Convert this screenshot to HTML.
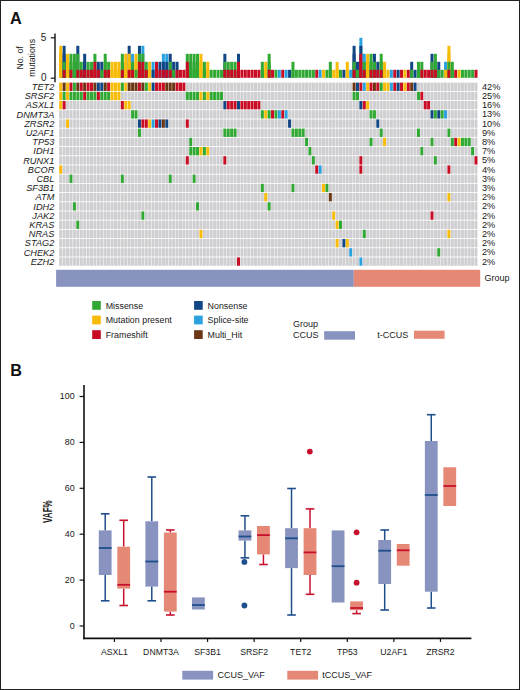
<!DOCTYPE html>
<html><head><meta charset="utf-8"><title>Figure</title>
<style>
html,body{margin:0;padding:0;background:#fff;}
body{width:520px;height:690px;overflow:hidden;}
svg text{font-family:"Liberation Sans", sans-serif;}
</style></head>
<body>
<svg width="520" height="690" viewBox="0 0 520 690" style="display:block">
<rect x="0" y="0" width="520" height="690" fill="#fff"/>
<text x="10" y="23.7" font-size="16.3" font-weight="bold" fill="#111">A</text>
<text transform="translate(22.8,57.9) rotate(-90)" text-anchor="middle" font-size="8.75" fill="#1a1a1a">No. of</text>
<text transform="translate(34.6,57.9) rotate(-90)" text-anchor="middle" font-size="8.75" fill="#1a1a1a">mutations</text>
<line x1="55" y1="33.5" x2="55" y2="82.3" stroke="#111" stroke-width="1.4"/>
<line x1="50.8" y1="37.8" x2="55" y2="37.8" stroke="#111" stroke-width="1.2"/>
<line x1="50.8" y1="78.2" x2="55" y2="78.2" stroke="#111" stroke-width="1.2"/>
<text x="46.3" y="40.8" text-anchor="end" font-size="10" fill="#1a1a1a">5</text>
<text x="46.6" y="81.2" text-anchor="end" font-size="10" fill="#1a1a1a">0</text>
<rect x="59.20" y="45.80" width="3.0" height="32.00" fill="#f8bb08"/>
<rect x="59.20" y="53.80" width="3.0" height="24.00" fill="#f8bb08"/>
<rect x="59.20" y="61.80" width="3.0" height="16.00" fill="#f8bb08"/>
<rect x="59.20" y="69.80" width="3.0" height="8.00" fill="#f8bb08"/>
<rect x="62.62" y="45.80" width="3.0" height="32.00" fill="#114684"/>
<rect x="62.62" y="53.80" width="3.0" height="24.00" fill="#114684"/>
<rect x="62.62" y="61.80" width="3.0" height="16.00" fill="#31a834"/>
<rect x="62.62" y="69.80" width="3.0" height="8.00" fill="#c80c24"/>
<rect x="66.05" y="53.80" width="3.0" height="24.00" fill="#f8bb08"/>
<rect x="66.05" y="61.80" width="3.0" height="16.00" fill="#f8bb08"/>
<rect x="66.05" y="69.80" width="3.0" height="8.00" fill="#f8bb08"/>
<rect x="69.47" y="53.80" width="3.0" height="24.00" fill="#31a834"/>
<rect x="69.47" y="61.80" width="3.0" height="16.00" fill="#31a834"/>
<rect x="69.47" y="69.80" width="3.0" height="8.00" fill="#c80c24"/>
<rect x="72.90" y="53.80" width="3.0" height="24.00" fill="#31a834"/>
<rect x="72.90" y="61.80" width="3.0" height="16.00" fill="#31a834"/>
<rect x="72.90" y="69.80" width="3.0" height="8.00" fill="#31a834"/>
<rect x="76.32" y="45.80" width="3.0" height="32.00" fill="#114684"/>
<rect x="76.32" y="53.80" width="3.0" height="24.00" fill="#31a834"/>
<rect x="76.32" y="61.80" width="3.0" height="16.00" fill="#31a834"/>
<rect x="76.32" y="69.80" width="3.0" height="8.00" fill="#c80c24"/>
<rect x="79.75" y="61.80" width="3.0" height="16.00" fill="#31a834"/>
<rect x="79.75" y="69.80" width="3.0" height="8.00" fill="#c80c24"/>
<rect x="83.17" y="53.80" width="3.0" height="24.00" fill="#114684"/>
<rect x="83.17" y="61.80" width="3.0" height="16.00" fill="#114684"/>
<rect x="83.17" y="69.80" width="3.0" height="8.00" fill="#c80c24"/>
<rect x="86.60" y="61.80" width="3.0" height="16.00" fill="#31a834"/>
<rect x="86.60" y="69.80" width="3.0" height="8.00" fill="#c80c24"/>
<rect x="90.02" y="61.80" width="3.0" height="16.00" fill="#31a834"/>
<rect x="90.02" y="69.80" width="3.0" height="8.00" fill="#c80c24"/>
<rect x="93.44" y="53.80" width="3.0" height="24.00" fill="#31a834"/>
<rect x="93.44" y="61.80" width="3.0" height="16.00" fill="#c80c24"/>
<rect x="93.44" y="69.80" width="3.0" height="8.00" fill="#c80c24"/>
<rect x="96.87" y="61.80" width="3.0" height="16.00" fill="#114684"/>
<rect x="96.87" y="69.80" width="3.0" height="8.00" fill="#c80c24"/>
<rect x="100.29" y="61.80" width="3.0" height="16.00" fill="#114684"/>
<rect x="100.29" y="69.80" width="3.0" height="8.00" fill="#31a834"/>
<rect x="103.71" y="53.80" width="3.0" height="24.00" fill="#31a834"/>
<rect x="103.71" y="61.80" width="3.0" height="16.00" fill="#31a834"/>
<rect x="103.71" y="69.80" width="3.0" height="8.00" fill="#c80c24"/>
<rect x="107.14" y="61.80" width="3.0" height="16.00" fill="#31a834"/>
<rect x="107.14" y="69.80" width="3.0" height="8.00" fill="#c80c24"/>
<rect x="110.56" y="61.80" width="3.0" height="16.00" fill="#f8bb08"/>
<rect x="110.56" y="69.80" width="3.0" height="8.00" fill="#f8bb08"/>
<rect x="113.98" y="61.80" width="3.0" height="16.00" fill="#f8bb08"/>
<rect x="113.98" y="69.80" width="3.0" height="8.00" fill="#f8bb08"/>
<rect x="117.41" y="61.80" width="3.0" height="16.00" fill="#f8bb08"/>
<rect x="117.41" y="69.80" width="3.0" height="8.00" fill="#f8bb08"/>
<rect x="120.83" y="53.80" width="3.0" height="24.00" fill="#31a834"/>
<rect x="120.83" y="61.80" width="3.0" height="16.00" fill="#31a834"/>
<rect x="120.83" y="69.80" width="3.0" height="8.00" fill="#c80c24"/>
<rect x="124.25" y="53.80" width="3.0" height="24.00" fill="#f8bb08"/>
<rect x="124.25" y="61.80" width="3.0" height="16.00" fill="#f8bb08"/>
<rect x="124.25" y="69.80" width="3.0" height="8.00" fill="#f8bb08"/>
<rect x="127.67" y="45.80" width="3.0" height="32.00" fill="#114684"/>
<rect x="127.67" y="53.80" width="3.0" height="24.00" fill="#f8bb08"/>
<rect x="127.67" y="61.80" width="3.0" height="16.00" fill="#f8bb08"/>
<rect x="127.67" y="69.80" width="3.0" height="8.00" fill="#c80c24"/>
<rect x="131.10" y="53.80" width="3.0" height="24.00" fill="#2ba2e0"/>
<rect x="131.10" y="61.80" width="3.0" height="16.00" fill="#31a834"/>
<rect x="131.10" y="69.80" width="3.0" height="8.00" fill="#c80c24"/>
<rect x="134.52" y="53.80" width="3.0" height="24.00" fill="#f8bb08"/>
<rect x="134.52" y="61.80" width="3.0" height="16.00" fill="#f8bb08"/>
<rect x="134.52" y="69.80" width="3.0" height="8.00" fill="#31a834"/>
<rect x="137.94" y="45.80" width="3.0" height="32.00" fill="#114684"/>
<rect x="137.94" y="53.80" width="3.0" height="24.00" fill="#31a834"/>
<rect x="137.94" y="61.80" width="3.0" height="16.00" fill="#c80c24"/>
<rect x="137.94" y="69.80" width="3.0" height="8.00" fill="#c80c24"/>
<rect x="141.36" y="45.80" width="3.0" height="32.00" fill="#2ba2e0"/>
<rect x="141.36" y="53.80" width="3.0" height="24.00" fill="#31a834"/>
<rect x="141.36" y="61.80" width="3.0" height="16.00" fill="#c80c24"/>
<rect x="141.36" y="69.80" width="3.0" height="8.00" fill="#c80c24"/>
<rect x="144.78" y="61.80" width="3.0" height="16.00" fill="#31a834"/>
<rect x="144.78" y="69.80" width="3.0" height="8.00" fill="#c80c24"/>
<rect x="148.20" y="61.80" width="3.0" height="16.00" fill="#f8bb08"/>
<rect x="148.20" y="69.80" width="3.0" height="8.00" fill="#f8bb08"/>
<rect x="151.62" y="61.80" width="3.0" height="16.00" fill="#2ba2e0"/>
<rect x="151.62" y="69.80" width="3.0" height="8.00" fill="#114684"/>
<rect x="155.04" y="61.80" width="3.0" height="16.00" fill="#c80c24"/>
<rect x="155.04" y="69.80" width="3.0" height="8.00" fill="#c80c24"/>
<rect x="158.46" y="61.80" width="3.0" height="16.00" fill="#114684"/>
<rect x="158.46" y="69.80" width="3.0" height="8.00" fill="#c80c24"/>
<rect x="161.88" y="53.80" width="3.0" height="24.00" fill="#2ba2e0"/>
<rect x="161.88" y="61.80" width="3.0" height="16.00" fill="#114684"/>
<rect x="161.88" y="69.80" width="3.0" height="8.00" fill="#c80c24"/>
<rect x="165.30" y="53.80" width="3.0" height="24.00" fill="#2ba2e0"/>
<rect x="165.30" y="61.80" width="3.0" height="16.00" fill="#114684"/>
<rect x="165.30" y="69.80" width="3.0" height="8.00" fill="#c80c24"/>
<rect x="168.72" y="53.80" width="3.0" height="24.00" fill="#114684"/>
<rect x="168.72" y="61.80" width="3.0" height="16.00" fill="#31a834"/>
<rect x="168.72" y="69.80" width="3.0" height="8.00" fill="#c80c24"/>
<rect x="172.13" y="61.80" width="3.0" height="16.00" fill="#114684"/>
<rect x="172.13" y="69.80" width="3.0" height="8.00" fill="#31a834"/>
<rect x="175.55" y="61.80" width="3.0" height="16.00" fill="#114684"/>
<rect x="175.55" y="69.80" width="3.0" height="8.00" fill="#c80c24"/>
<rect x="178.97" y="69.80" width="3.0" height="8.00" fill="#c80c24"/>
<rect x="182.38" y="69.80" width="3.0" height="8.00" fill="#c80c24"/>
<rect x="185.80" y="53.80" width="3.0" height="24.00" fill="#31a834"/>
<rect x="185.80" y="61.80" width="3.0" height="16.00" fill="#c80c24"/>
<rect x="185.80" y="69.80" width="3.0" height="8.00" fill="#c80c24"/>
<rect x="189.22" y="53.80" width="3.0" height="24.00" fill="#31a834"/>
<rect x="189.22" y="61.80" width="3.0" height="16.00" fill="#31a834"/>
<rect x="189.22" y="69.80" width="3.0" height="8.00" fill="#31a834"/>
<rect x="192.63" y="53.80" width="3.0" height="24.00" fill="#31a834"/>
<rect x="192.63" y="61.80" width="3.0" height="16.00" fill="#31a834"/>
<rect x="192.63" y="69.80" width="3.0" height="8.00" fill="#31a834"/>
<rect x="196.05" y="53.80" width="3.0" height="24.00" fill="#31a834"/>
<rect x="196.05" y="61.80" width="3.0" height="16.00" fill="#31a834"/>
<rect x="196.05" y="69.80" width="3.0" height="8.00" fill="#31a834"/>
<rect x="199.46" y="53.80" width="3.0" height="24.00" fill="#f8bb08"/>
<rect x="199.46" y="61.80" width="3.0" height="16.00" fill="#f8bb08"/>
<rect x="199.46" y="69.80" width="3.0" height="8.00" fill="#f8bb08"/>
<rect x="202.87" y="61.80" width="3.0" height="16.00" fill="#31a834"/>
<rect x="202.87" y="69.80" width="3.0" height="8.00" fill="#31a834"/>
<rect x="206.29" y="61.80" width="3.0" height="16.00" fill="#f8bb08"/>
<rect x="206.29" y="69.80" width="3.0" height="8.00" fill="#f8bb08"/>
<rect x="209.70" y="69.80" width="3.0" height="8.00" fill="#31a834"/>
<rect x="213.11" y="69.80" width="3.0" height="8.00" fill="#31a834"/>
<rect x="216.53" y="69.80" width="3.0" height="8.00" fill="#31a834"/>
<rect x="219.94" y="69.80" width="3.0" height="8.00" fill="#31a834"/>
<rect x="223.35" y="53.80" width="3.0" height="24.00" fill="#114684"/>
<rect x="223.35" y="61.80" width="3.0" height="16.00" fill="#31a834"/>
<rect x="223.35" y="69.80" width="3.0" height="8.00" fill="#c80c24"/>
<rect x="226.76" y="61.80" width="3.0" height="16.00" fill="#31a834"/>
<rect x="226.76" y="69.80" width="3.0" height="8.00" fill="#c80c24"/>
<rect x="230.17" y="61.80" width="3.0" height="16.00" fill="#31a834"/>
<rect x="230.17" y="69.80" width="3.0" height="8.00" fill="#c80c24"/>
<rect x="233.58" y="61.80" width="3.0" height="16.00" fill="#31a834"/>
<rect x="233.58" y="69.80" width="3.0" height="8.00" fill="#c80c24"/>
<rect x="236.99" y="53.80" width="3.0" height="24.00" fill="#114684"/>
<rect x="236.99" y="61.80" width="3.0" height="16.00" fill="#c80c24"/>
<rect x="236.99" y="69.80" width="3.0" height="8.00" fill="#c80c24"/>
<rect x="240.40" y="69.80" width="3.0" height="8.00" fill="#c80c24"/>
<rect x="243.80" y="69.80" width="3.0" height="8.00" fill="#c80c24"/>
<rect x="247.21" y="69.80" width="3.0" height="8.00" fill="#c80c24"/>
<rect x="250.62" y="69.80" width="3.0" height="8.00" fill="#c80c24"/>
<rect x="254.02" y="69.80" width="3.0" height="8.00" fill="#c80c24"/>
<rect x="257.43" y="69.80" width="3.0" height="8.00" fill="#c80c24"/>
<rect x="260.83" y="61.80" width="3.0" height="16.00" fill="#31a834"/>
<rect x="260.83" y="69.80" width="3.0" height="8.00" fill="#31a834"/>
<rect x="264.24" y="61.80" width="3.0" height="16.00" fill="#f8bb08"/>
<rect x="264.24" y="69.80" width="3.0" height="8.00" fill="#f8bb08"/>
<rect x="267.64" y="53.80" width="3.0" height="24.00" fill="#31a834"/>
<rect x="267.64" y="61.80" width="3.0" height="16.00" fill="#31a834"/>
<rect x="267.64" y="69.80" width="3.0" height="8.00" fill="#c80c24"/>
<rect x="271.05" y="69.80" width="3.0" height="8.00" fill="#c80c24"/>
<rect x="274.45" y="69.80" width="3.0" height="8.00" fill="#31a834"/>
<rect x="277.85" y="69.80" width="3.0" height="8.00" fill="#2ba2e0"/>
<rect x="281.26" y="69.80" width="3.0" height="8.00" fill="#c80c24"/>
<rect x="284.66" y="69.80" width="3.0" height="8.00" fill="#2ba2e0"/>
<rect x="288.06" y="69.80" width="3.0" height="8.00" fill="#114684"/>
<rect x="291.46" y="61.80" width="3.0" height="16.00" fill="#31a834"/>
<rect x="291.46" y="69.80" width="3.0" height="8.00" fill="#31a834"/>
<rect x="294.86" y="69.80" width="3.0" height="8.00" fill="#31a834"/>
<rect x="298.26" y="69.80" width="3.0" height="8.00" fill="#31a834"/>
<rect x="301.66" y="69.80" width="3.0" height="8.00" fill="#31a834"/>
<rect x="305.06" y="69.80" width="3.0" height="8.00" fill="#31a834"/>
<rect x="308.45" y="69.80" width="3.0" height="8.00" fill="#31a834"/>
<rect x="311.85" y="69.80" width="3.0" height="8.00" fill="#31a834"/>
<rect x="315.25" y="69.80" width="3.0" height="8.00" fill="#c80c24"/>
<rect x="318.65" y="69.80" width="3.0" height="8.00" fill="#2ba2e0"/>
<rect x="322.04" y="69.80" width="3.0" height="8.00" fill="#f8bb08"/>
<rect x="325.44" y="69.80" width="3.0" height="8.00" fill="#31a834"/>
<rect x="328.83" y="61.80" width="3.0" height="16.00" fill="#31a834"/>
<rect x="328.83" y="69.80" width="3.0" height="8.00" fill="#31a834"/>
<rect x="332.23" y="69.80" width="3.0" height="8.00" fill="#f8bb08"/>
<rect x="335.62" y="61.80" width="3.0" height="16.00" fill="#f8bb08"/>
<rect x="335.62" y="69.80" width="3.0" height="8.00" fill="#f8bb08"/>
<rect x="339.01" y="69.80" width="3.0" height="8.00" fill="#31a834"/>
<rect x="342.41" y="69.80" width="3.0" height="8.00" fill="#114684"/>
<rect x="345.80" y="61.80" width="3.0" height="16.00" fill="#f8bb08"/>
<rect x="345.80" y="69.80" width="3.0" height="8.00" fill="#f8bb08"/>
<rect x="349.19" y="69.80" width="3.0" height="8.00" fill="#2ba2e0"/>
<rect x="352.58" y="45.80" width="3.0" height="32.00" fill="#114684"/>
<rect x="352.58" y="53.80" width="3.0" height="24.00" fill="#114684"/>
<rect x="352.58" y="61.80" width="3.0" height="16.00" fill="#31a834"/>
<rect x="352.58" y="69.80" width="3.0" height="8.00" fill="#c80c24"/>
<rect x="355.98" y="61.80" width="3.0" height="16.00" fill="#114684"/>
<rect x="355.98" y="69.80" width="3.0" height="8.00" fill="#31a834"/>
<rect x="359.37" y="37.80" width="3.0" height="40.00" fill="#2ba2e0"/>
<rect x="359.37" y="45.80" width="3.0" height="32.00" fill="#114684"/>
<rect x="359.37" y="53.80" width="3.0" height="24.00" fill="#c80c24"/>
<rect x="359.37" y="61.80" width="3.0" height="16.00" fill="#c80c24"/>
<rect x="359.37" y="69.80" width="3.0" height="8.00" fill="#c80c24"/>
<rect x="362.76" y="53.80" width="3.0" height="24.00" fill="#2ba2e0"/>
<rect x="362.76" y="61.80" width="3.0" height="16.00" fill="#31a834"/>
<rect x="362.76" y="69.80" width="3.0" height="8.00" fill="#c80c24"/>
<rect x="366.15" y="53.80" width="3.0" height="24.00" fill="#f8bb08"/>
<rect x="366.15" y="61.80" width="3.0" height="16.00" fill="#f8bb08"/>
<rect x="366.15" y="69.80" width="3.0" height="8.00" fill="#f8bb08"/>
<rect x="369.54" y="53.80" width="3.0" height="24.00" fill="#31a834"/>
<rect x="369.54" y="61.80" width="3.0" height="16.00" fill="#31a834"/>
<rect x="369.54" y="69.80" width="3.0" height="8.00" fill="#c80c24"/>
<rect x="372.93" y="53.80" width="3.0" height="24.00" fill="#114684"/>
<rect x="372.93" y="61.80" width="3.0" height="16.00" fill="#31a834"/>
<rect x="372.93" y="69.80" width="3.0" height="8.00" fill="#c80c24"/>
<rect x="376.32" y="61.80" width="3.0" height="16.00" fill="#114684"/>
<rect x="376.32" y="69.80" width="3.0" height="8.00" fill="#c80c24"/>
<rect x="379.70" y="53.80" width="3.0" height="24.00" fill="#31a834"/>
<rect x="379.70" y="61.80" width="3.0" height="16.00" fill="#31a834"/>
<rect x="379.70" y="69.80" width="3.0" height="8.00" fill="#c80c24"/>
<rect x="383.09" y="61.80" width="3.0" height="16.00" fill="#f8bb08"/>
<rect x="383.09" y="69.80" width="3.0" height="8.00" fill="#f8bb08"/>
<rect x="386.48" y="69.80" width="3.0" height="8.00" fill="#f8bb08"/>
<rect x="389.87" y="69.80" width="3.0" height="8.00" fill="#2ba2e0"/>
<rect x="393.26" y="69.80" width="3.0" height="8.00" fill="#c80c24"/>
<rect x="396.64" y="69.80" width="3.0" height="8.00" fill="#114684"/>
<rect x="400.03" y="69.80" width="3.0" height="8.00" fill="#c80c24"/>
<rect x="403.42" y="69.80" width="3.0" height="8.00" fill="#f8bb08"/>
<rect x="406.80" y="69.80" width="3.0" height="8.00" fill="#c80c24"/>
<rect x="410.19" y="61.80" width="3.0" height="16.00" fill="#114684"/>
<rect x="410.19" y="69.80" width="3.0" height="8.00" fill="#31a834"/>
<rect x="413.57" y="69.80" width="3.0" height="8.00" fill="#114684"/>
<rect x="416.96" y="61.80" width="3.0" height="16.00" fill="#31a834"/>
<rect x="416.96" y="69.80" width="3.0" height="8.00" fill="#31a834"/>
<rect x="420.34" y="61.80" width="3.0" height="16.00" fill="#31a834"/>
<rect x="420.34" y="69.80" width="3.0" height="8.00" fill="#c80c24"/>
<rect x="423.73" y="69.80" width="3.0" height="8.00" fill="#c80c24"/>
<rect x="427.11" y="69.80" width="3.0" height="8.00" fill="#c80c24"/>
<rect x="430.50" y="53.80" width="3.0" height="24.00" fill="#114684"/>
<rect x="430.50" y="61.80" width="3.0" height="16.00" fill="#31a834"/>
<rect x="430.50" y="69.80" width="3.0" height="8.00" fill="#c80c24"/>
<rect x="433.88" y="53.80" width="3.0" height="24.00" fill="#31a834"/>
<rect x="433.88" y="61.80" width="3.0" height="16.00" fill="#31a834"/>
<rect x="433.88" y="69.80" width="3.0" height="8.00" fill="#c80c24"/>
<rect x="437.27" y="61.80" width="3.0" height="16.00" fill="#114684"/>
<rect x="437.27" y="69.80" width="3.0" height="8.00" fill="#31a834"/>
<rect x="440.65" y="69.80" width="3.0" height="8.00" fill="#31a834"/>
<rect x="444.04" y="61.80" width="3.0" height="16.00" fill="#2ba2e0"/>
<rect x="444.04" y="69.80" width="3.0" height="8.00" fill="#f8bb08"/>
<rect x="447.42" y="45.80" width="3.0" height="32.00" fill="#f8bb08"/>
<rect x="447.42" y="53.80" width="3.0" height="24.00" fill="#f8bb08"/>
<rect x="447.42" y="61.80" width="3.0" height="16.00" fill="#31a834"/>
<rect x="447.42" y="69.80" width="3.0" height="8.00" fill="#c80c24"/>
<rect x="450.80" y="61.80" width="3.0" height="16.00" fill="#31a834"/>
<rect x="450.80" y="69.80" width="3.0" height="8.00" fill="#31a834"/>
<rect x="454.19" y="69.80" width="3.0" height="8.00" fill="#c80c24"/>
<rect x="457.57" y="69.80" width="3.0" height="8.00" fill="#f8bb08"/>
<rect x="460.95" y="69.80" width="3.0" height="8.00" fill="#31a834"/>
<rect x="464.34" y="69.80" width="3.0" height="8.00" fill="#31a834"/>
<rect x="467.72" y="69.80" width="3.0" height="8.00" fill="#31a834"/>
<rect x="471.10" y="69.80" width="3.0" height="8.00" fill="#31a834"/>
<rect x="474.49" y="69.80" width="3.0" height="8.00" fill="#c80c24"/>
<rect x="59.20" y="82.60" width="3.0" height="8.35" fill="#f8bb08"/>
<rect x="62.62" y="82.60" width="3.0" height="8.35" fill="#6a3614"/>
<rect x="66.05" y="82.60" width="3.0" height="8.35" fill="#f8bb08"/>
<rect x="69.47" y="82.60" width="3.0" height="8.35" fill="#c80c24"/>
<rect x="72.90" y="82.60" width="3.0" height="8.35" fill="#31a834"/>
<rect x="76.32" y="82.60" width="3.0" height="8.35" fill="#6a3614"/>
<rect x="79.75" y="82.60" width="3.0" height="8.35" fill="#c80c24"/>
<rect x="83.17" y="82.60" width="3.0" height="8.35" fill="#6a3614"/>
<rect x="86.60" y="82.60" width="3.0" height="8.35" fill="#c80c24"/>
<rect x="90.02" y="82.60" width="3.0" height="8.35" fill="#c80c24"/>
<rect x="93.44" y="82.60" width="3.0" height="8.35" fill="#6a3614"/>
<rect x="96.87" y="82.60" width="3.0" height="8.35" fill="#114684"/>
<rect x="100.29" y="82.60" width="3.0" height="8.35" fill="#114684"/>
<rect x="103.71" y="82.60" width="3.0" height="8.35" fill="#6a3614"/>
<rect x="107.14" y="82.60" width="3.0" height="8.35" fill="#c80c24"/>
<rect x="110.56" y="82.60" width="3.0" height="8.35" fill="#f8bb08"/>
<rect x="113.98" y="82.60" width="3.0" height="8.35" fill="#f8bb08"/>
<rect x="117.41" y="82.60" width="3.0" height="8.35" fill="#f8bb08"/>
<rect x="120.83" y="82.60" width="3.0" height="8.35" fill="#31a834"/>
<rect x="124.25" y="82.60" width="3.0" height="8.35" fill="#f8bb08"/>
<rect x="127.67" y="82.60" width="3.0" height="8.35" fill="#6a3614"/>
<rect x="131.10" y="82.60" width="3.0" height="8.35" fill="#6a3614"/>
<rect x="134.52" y="82.60" width="3.0" height="8.35" fill="#6a3614"/>
<rect x="137.94" y="82.60" width="3.0" height="8.35" fill="#c80c24"/>
<rect x="141.36" y="82.60" width="3.0" height="8.35" fill="#6a3614"/>
<rect x="144.78" y="82.60" width="3.0" height="8.35" fill="#31a834"/>
<rect x="148.20" y="82.60" width="3.0" height="8.35" fill="#f8bb08"/>
<rect x="151.62" y="82.60" width="3.0" height="8.35" fill="#114684"/>
<rect x="155.04" y="82.60" width="3.0" height="8.35" fill="#c80c24"/>
<rect x="158.46" y="82.60" width="3.0" height="8.35" fill="#c80c24"/>
<rect x="161.88" y="82.60" width="3.0" height="8.35" fill="#c80c24"/>
<rect x="165.30" y="82.60" width="3.0" height="8.35" fill="#6a3614"/>
<rect x="168.72" y="82.60" width="3.0" height="8.35" fill="#6a3614"/>
<rect x="172.13" y="82.60" width="3.0" height="8.35" fill="#6a3614"/>
<rect x="175.55" y="82.60" width="3.0" height="8.35" fill="#c80c24"/>
<rect x="178.97" y="82.60" width="3.0" height="8.35" fill="#c80c24"/>
<rect x="182.38" y="82.60" width="3.0" height="8.35" fill="#c80c24"/>
<rect x="185.80" y="82.60" width="3.0" height="8.35" fill="#cfcfd2"/>
<rect x="189.22" y="82.60" width="3.0" height="8.35" fill="#cfcfd2"/>
<rect x="192.63" y="82.60" width="3.0" height="8.35" fill="#cfcfd2"/>
<rect x="196.05" y="82.60" width="3.0" height="8.35" fill="#cfcfd2"/>
<rect x="199.46" y="82.60" width="3.0" height="8.35" fill="#cfcfd2"/>
<rect x="202.87" y="82.60" width="3.0" height="8.35" fill="#cfcfd2"/>
<rect x="206.29" y="82.60" width="3.0" height="8.35" fill="#cfcfd2"/>
<rect x="209.70" y="82.60" width="3.0" height="8.35" fill="#cfcfd2"/>
<rect x="213.11" y="82.60" width="3.0" height="8.35" fill="#cfcfd2"/>
<rect x="216.53" y="82.60" width="3.0" height="8.35" fill="#cfcfd2"/>
<rect x="219.94" y="82.60" width="3.0" height="8.35" fill="#cfcfd2"/>
<rect x="223.35" y="82.60" width="3.0" height="8.35" fill="#cfcfd2"/>
<rect x="226.76" y="82.60" width="3.0" height="8.35" fill="#cfcfd2"/>
<rect x="230.17" y="82.60" width="3.0" height="8.35" fill="#cfcfd2"/>
<rect x="233.58" y="82.60" width="3.0" height="8.35" fill="#cfcfd2"/>
<rect x="236.99" y="82.60" width="3.0" height="8.35" fill="#cfcfd2"/>
<rect x="240.40" y="82.60" width="3.0" height="8.35" fill="#cfcfd2"/>
<rect x="243.80" y="82.60" width="3.0" height="8.35" fill="#cfcfd2"/>
<rect x="247.21" y="82.60" width="3.0" height="8.35" fill="#cfcfd2"/>
<rect x="250.62" y="82.60" width="3.0" height="8.35" fill="#cfcfd2"/>
<rect x="254.02" y="82.60" width="3.0" height="8.35" fill="#cfcfd2"/>
<rect x="257.43" y="82.60" width="3.0" height="8.35" fill="#cfcfd2"/>
<rect x="260.83" y="82.60" width="3.0" height="8.35" fill="#cfcfd2"/>
<rect x="264.24" y="82.60" width="3.0" height="8.35" fill="#cfcfd2"/>
<rect x="267.64" y="82.60" width="3.0" height="8.35" fill="#cfcfd2"/>
<rect x="271.05" y="82.60" width="3.0" height="8.35" fill="#cfcfd2"/>
<rect x="274.45" y="82.60" width="3.0" height="8.35" fill="#cfcfd2"/>
<rect x="277.85" y="82.60" width="3.0" height="8.35" fill="#cfcfd2"/>
<rect x="281.26" y="82.60" width="3.0" height="8.35" fill="#cfcfd2"/>
<rect x="284.66" y="82.60" width="3.0" height="8.35" fill="#cfcfd2"/>
<rect x="288.06" y="82.60" width="3.0" height="8.35" fill="#cfcfd2"/>
<rect x="291.46" y="82.60" width="3.0" height="8.35" fill="#cfcfd2"/>
<rect x="294.86" y="82.60" width="3.0" height="8.35" fill="#cfcfd2"/>
<rect x="298.26" y="82.60" width="3.0" height="8.35" fill="#cfcfd2"/>
<rect x="301.66" y="82.60" width="3.0" height="8.35" fill="#cfcfd2"/>
<rect x="305.06" y="82.60" width="3.0" height="8.35" fill="#cfcfd2"/>
<rect x="308.45" y="82.60" width="3.0" height="8.35" fill="#cfcfd2"/>
<rect x="311.85" y="82.60" width="3.0" height="8.35" fill="#cfcfd2"/>
<rect x="315.25" y="82.60" width="3.0" height="8.35" fill="#cfcfd2"/>
<rect x="318.65" y="82.60" width="3.0" height="8.35" fill="#cfcfd2"/>
<rect x="322.04" y="82.60" width="3.0" height="8.35" fill="#cfcfd2"/>
<rect x="325.44" y="82.60" width="3.0" height="8.35" fill="#cfcfd2"/>
<rect x="328.83" y="82.60" width="3.0" height="8.35" fill="#cfcfd2"/>
<rect x="332.23" y="82.60" width="3.0" height="8.35" fill="#cfcfd2"/>
<rect x="335.62" y="82.60" width="3.0" height="8.35" fill="#cfcfd2"/>
<rect x="339.01" y="82.60" width="3.0" height="8.35" fill="#cfcfd2"/>
<rect x="342.41" y="82.60" width="3.0" height="8.35" fill="#cfcfd2"/>
<rect x="345.80" y="82.60" width="3.0" height="8.35" fill="#cfcfd2"/>
<rect x="349.19" y="82.60" width="3.0" height="8.35" fill="#cfcfd2"/>
<rect x="352.58" y="82.60" width="3.0" height="8.35" fill="#6a3614"/>
<rect x="355.98" y="82.60" width="3.0" height="8.35" fill="#114684"/>
<rect x="359.37" y="82.60" width="3.0" height="8.35" fill="#c80c24"/>
<rect x="362.76" y="82.60" width="3.0" height="8.35" fill="#2ba2e0"/>
<rect x="366.15" y="82.60" width="3.0" height="8.35" fill="#f8bb08"/>
<rect x="369.54" y="82.60" width="3.0" height="8.35" fill="#c80c24"/>
<rect x="372.93" y="82.60" width="3.0" height="8.35" fill="#6a3614"/>
<rect x="376.32" y="82.60" width="3.0" height="8.35" fill="#c80c24"/>
<rect x="379.70" y="82.60" width="3.0" height="8.35" fill="#31a834"/>
<rect x="383.09" y="82.60" width="3.0" height="8.35" fill="#f8bb08"/>
<rect x="386.48" y="82.60" width="3.0" height="8.35" fill="#f8bb08"/>
<rect x="389.87" y="82.60" width="3.0" height="8.35" fill="#2ba2e0"/>
<rect x="393.26" y="82.60" width="3.0" height="8.35" fill="#c80c24"/>
<rect x="396.64" y="82.60" width="3.0" height="8.35" fill="#114684"/>
<rect x="400.03" y="82.60" width="3.0" height="8.35" fill="#c80c24"/>
<rect x="403.42" y="82.60" width="3.0" height="8.35" fill="#f8bb08"/>
<rect x="406.80" y="82.60" width="3.0" height="8.35" fill="#c80c24"/>
<rect x="410.19" y="82.60" width="3.0" height="8.35" fill="#6a3614"/>
<rect x="413.57" y="82.60" width="3.0" height="8.35" fill="#114684"/>
<rect x="416.96" y="82.60" width="3.0" height="8.35" fill="#cfcfd2"/>
<rect x="420.34" y="82.60" width="3.0" height="8.35" fill="#cfcfd2"/>
<rect x="423.73" y="82.60" width="3.0" height="8.35" fill="#cfcfd2"/>
<rect x="427.11" y="82.60" width="3.0" height="8.35" fill="#cfcfd2"/>
<rect x="430.50" y="82.60" width="3.0" height="8.35" fill="#cfcfd2"/>
<rect x="433.88" y="82.60" width="3.0" height="8.35" fill="#cfcfd2"/>
<rect x="437.27" y="82.60" width="3.0" height="8.35" fill="#cfcfd2"/>
<rect x="440.65" y="82.60" width="3.0" height="8.35" fill="#cfcfd2"/>
<rect x="444.04" y="82.60" width="3.0" height="8.35" fill="#cfcfd2"/>
<rect x="447.42" y="82.60" width="3.0" height="8.35" fill="#cfcfd2"/>
<rect x="450.80" y="82.60" width="3.0" height="8.35" fill="#cfcfd2"/>
<rect x="454.19" y="82.60" width="3.0" height="8.35" fill="#cfcfd2"/>
<rect x="457.57" y="82.60" width="3.0" height="8.35" fill="#cfcfd2"/>
<rect x="460.95" y="82.60" width="3.0" height="8.35" fill="#cfcfd2"/>
<rect x="464.34" y="82.60" width="3.0" height="8.35" fill="#cfcfd2"/>
<rect x="467.72" y="82.60" width="3.0" height="8.35" fill="#cfcfd2"/>
<rect x="471.10" y="82.60" width="3.0" height="8.35" fill="#cfcfd2"/>
<rect x="474.49" y="82.60" width="3.0" height="8.35" fill="#cfcfd2"/>
<text x="54.3" y="89.90" text-anchor="end" font-size="9.2" font-style="italic" fill="#1a1a1a">TET2</text>
<text x="482" y="89.80" font-size="9.2" fill="#1a1a1a">42%</text>
<rect x="59.20" y="91.80" width="3.0" height="8.35" fill="#f8bb08"/>
<rect x="62.62" y="91.80" width="3.0" height="8.35" fill="#31a834"/>
<rect x="66.05" y="91.80" width="3.0" height="8.35" fill="#f8bb08"/>
<rect x="69.47" y="91.80" width="3.0" height="8.35" fill="#31a834"/>
<rect x="72.90" y="91.80" width="3.0" height="8.35" fill="#31a834"/>
<rect x="76.32" y="91.80" width="3.0" height="8.35" fill="#31a834"/>
<rect x="79.75" y="91.80" width="3.0" height="8.35" fill="#31a834"/>
<rect x="83.17" y="91.80" width="3.0" height="8.35" fill="#c80c24"/>
<rect x="86.60" y="91.80" width="3.0" height="8.35" fill="#31a834"/>
<rect x="90.02" y="91.80" width="3.0" height="8.35" fill="#31a834"/>
<rect x="93.44" y="91.80" width="3.0" height="8.35" fill="#31a834"/>
<rect x="96.87" y="91.80" width="3.0" height="8.35" fill="#c80c24"/>
<rect x="100.29" y="91.80" width="3.0" height="8.35" fill="#31a834"/>
<rect x="103.71" y="91.80" width="3.0" height="8.35" fill="#31a834"/>
<rect x="107.14" y="91.80" width="3.0" height="8.35" fill="#31a834"/>
<rect x="110.56" y="91.80" width="3.0" height="8.35" fill="#f8bb08"/>
<rect x="113.98" y="91.80" width="3.0" height="8.35" fill="#f8bb08"/>
<rect x="117.41" y="91.80" width="3.0" height="8.35" fill="#f8bb08"/>
<rect x="120.83" y="91.80" width="3.0" height="8.35" fill="#cfcfd2"/>
<rect x="124.25" y="91.80" width="3.0" height="8.35" fill="#cfcfd2"/>
<rect x="127.67" y="91.80" width="3.0" height="8.35" fill="#cfcfd2"/>
<rect x="131.10" y="91.80" width="3.0" height="8.35" fill="#cfcfd2"/>
<rect x="134.52" y="91.80" width="3.0" height="8.35" fill="#cfcfd2"/>
<rect x="137.94" y="91.80" width="3.0" height="8.35" fill="#cfcfd2"/>
<rect x="141.36" y="91.80" width="3.0" height="8.35" fill="#cfcfd2"/>
<rect x="144.78" y="91.80" width="3.0" height="8.35" fill="#cfcfd2"/>
<rect x="148.20" y="91.80" width="3.0" height="8.35" fill="#cfcfd2"/>
<rect x="151.62" y="91.80" width="3.0" height="8.35" fill="#cfcfd2"/>
<rect x="155.04" y="91.80" width="3.0" height="8.35" fill="#cfcfd2"/>
<rect x="158.46" y="91.80" width="3.0" height="8.35" fill="#cfcfd2"/>
<rect x="161.88" y="91.80" width="3.0" height="8.35" fill="#cfcfd2"/>
<rect x="165.30" y="91.80" width="3.0" height="8.35" fill="#cfcfd2"/>
<rect x="168.72" y="91.80" width="3.0" height="8.35" fill="#cfcfd2"/>
<rect x="172.13" y="91.80" width="3.0" height="8.35" fill="#cfcfd2"/>
<rect x="175.55" y="91.80" width="3.0" height="8.35" fill="#cfcfd2"/>
<rect x="178.97" y="91.80" width="3.0" height="8.35" fill="#cfcfd2"/>
<rect x="182.38" y="91.80" width="3.0" height="8.35" fill="#cfcfd2"/>
<rect x="185.80" y="91.80" width="3.0" height="8.35" fill="#31a834"/>
<rect x="189.22" y="91.80" width="3.0" height="8.35" fill="#31a834"/>
<rect x="192.63" y="91.80" width="3.0" height="8.35" fill="#31a834"/>
<rect x="196.05" y="91.80" width="3.0" height="8.35" fill="#31a834"/>
<rect x="199.46" y="91.80" width="3.0" height="8.35" fill="#f8bb08"/>
<rect x="202.87" y="91.80" width="3.0" height="8.35" fill="#31a834"/>
<rect x="206.29" y="91.80" width="3.0" height="8.35" fill="#f8bb08"/>
<rect x="209.70" y="91.80" width="3.0" height="8.35" fill="#31a834"/>
<rect x="213.11" y="91.80" width="3.0" height="8.35" fill="#31a834"/>
<rect x="216.53" y="91.80" width="3.0" height="8.35" fill="#31a834"/>
<rect x="219.94" y="91.80" width="3.0" height="8.35" fill="#31a834"/>
<rect x="223.35" y="91.80" width="3.0" height="8.35" fill="#cfcfd2"/>
<rect x="226.76" y="91.80" width="3.0" height="8.35" fill="#cfcfd2"/>
<rect x="230.17" y="91.80" width="3.0" height="8.35" fill="#cfcfd2"/>
<rect x="233.58" y="91.80" width="3.0" height="8.35" fill="#cfcfd2"/>
<rect x="236.99" y="91.80" width="3.0" height="8.35" fill="#cfcfd2"/>
<rect x="240.40" y="91.80" width="3.0" height="8.35" fill="#cfcfd2"/>
<rect x="243.80" y="91.80" width="3.0" height="8.35" fill="#cfcfd2"/>
<rect x="247.21" y="91.80" width="3.0" height="8.35" fill="#cfcfd2"/>
<rect x="250.62" y="91.80" width="3.0" height="8.35" fill="#cfcfd2"/>
<rect x="254.02" y="91.80" width="3.0" height="8.35" fill="#cfcfd2"/>
<rect x="257.43" y="91.80" width="3.0" height="8.35" fill="#cfcfd2"/>
<rect x="260.83" y="91.80" width="3.0" height="8.35" fill="#cfcfd2"/>
<rect x="264.24" y="91.80" width="3.0" height="8.35" fill="#cfcfd2"/>
<rect x="267.64" y="91.80" width="3.0" height="8.35" fill="#cfcfd2"/>
<rect x="271.05" y="91.80" width="3.0" height="8.35" fill="#cfcfd2"/>
<rect x="274.45" y="91.80" width="3.0" height="8.35" fill="#cfcfd2"/>
<rect x="277.85" y="91.80" width="3.0" height="8.35" fill="#cfcfd2"/>
<rect x="281.26" y="91.80" width="3.0" height="8.35" fill="#cfcfd2"/>
<rect x="284.66" y="91.80" width="3.0" height="8.35" fill="#cfcfd2"/>
<rect x="288.06" y="91.80" width="3.0" height="8.35" fill="#cfcfd2"/>
<rect x="291.46" y="91.80" width="3.0" height="8.35" fill="#cfcfd2"/>
<rect x="294.86" y="91.80" width="3.0" height="8.35" fill="#cfcfd2"/>
<rect x="298.26" y="91.80" width="3.0" height="8.35" fill="#cfcfd2"/>
<rect x="301.66" y="91.80" width="3.0" height="8.35" fill="#cfcfd2"/>
<rect x="305.06" y="91.80" width="3.0" height="8.35" fill="#cfcfd2"/>
<rect x="308.45" y="91.80" width="3.0" height="8.35" fill="#cfcfd2"/>
<rect x="311.85" y="91.80" width="3.0" height="8.35" fill="#cfcfd2"/>
<rect x="315.25" y="91.80" width="3.0" height="8.35" fill="#cfcfd2"/>
<rect x="318.65" y="91.80" width="3.0" height="8.35" fill="#cfcfd2"/>
<rect x="322.04" y="91.80" width="3.0" height="8.35" fill="#cfcfd2"/>
<rect x="325.44" y="91.80" width="3.0" height="8.35" fill="#cfcfd2"/>
<rect x="328.83" y="91.80" width="3.0" height="8.35" fill="#cfcfd2"/>
<rect x="332.23" y="91.80" width="3.0" height="8.35" fill="#cfcfd2"/>
<rect x="335.62" y="91.80" width="3.0" height="8.35" fill="#cfcfd2"/>
<rect x="339.01" y="91.80" width="3.0" height="8.35" fill="#cfcfd2"/>
<rect x="342.41" y="91.80" width="3.0" height="8.35" fill="#cfcfd2"/>
<rect x="345.80" y="91.80" width="3.0" height="8.35" fill="#cfcfd2"/>
<rect x="349.19" y="91.80" width="3.0" height="8.35" fill="#cfcfd2"/>
<rect x="352.58" y="91.80" width="3.0" height="8.35" fill="#31a834"/>
<rect x="355.98" y="91.80" width="3.0" height="8.35" fill="#31a834"/>
<rect x="359.37" y="91.80" width="3.0" height="8.35" fill="#cfcfd2"/>
<rect x="362.76" y="91.80" width="3.0" height="8.35" fill="#cfcfd2"/>
<rect x="366.15" y="91.80" width="3.0" height="8.35" fill="#cfcfd2"/>
<rect x="369.54" y="91.80" width="3.0" height="8.35" fill="#cfcfd2"/>
<rect x="372.93" y="91.80" width="3.0" height="8.35" fill="#cfcfd2"/>
<rect x="376.32" y="91.80" width="3.0" height="8.35" fill="#cfcfd2"/>
<rect x="379.70" y="91.80" width="3.0" height="8.35" fill="#cfcfd2"/>
<rect x="383.09" y="91.80" width="3.0" height="8.35" fill="#cfcfd2"/>
<rect x="386.48" y="91.80" width="3.0" height="8.35" fill="#cfcfd2"/>
<rect x="389.87" y="91.80" width="3.0" height="8.35" fill="#cfcfd2"/>
<rect x="393.26" y="91.80" width="3.0" height="8.35" fill="#cfcfd2"/>
<rect x="396.64" y="91.80" width="3.0" height="8.35" fill="#cfcfd2"/>
<rect x="400.03" y="91.80" width="3.0" height="8.35" fill="#cfcfd2"/>
<rect x="403.42" y="91.80" width="3.0" height="8.35" fill="#cfcfd2"/>
<rect x="406.80" y="91.80" width="3.0" height="8.35" fill="#cfcfd2"/>
<rect x="410.19" y="91.80" width="3.0" height="8.35" fill="#cfcfd2"/>
<rect x="413.57" y="91.80" width="3.0" height="8.35" fill="#cfcfd2"/>
<rect x="416.96" y="91.80" width="3.0" height="8.35" fill="#31a834"/>
<rect x="420.34" y="91.80" width="3.0" height="8.35" fill="#c80c24"/>
<rect x="423.73" y="91.80" width="3.0" height="8.35" fill="#cfcfd2"/>
<rect x="427.11" y="91.80" width="3.0" height="8.35" fill="#cfcfd2"/>
<rect x="430.50" y="91.80" width="3.0" height="8.35" fill="#cfcfd2"/>
<rect x="433.88" y="91.80" width="3.0" height="8.35" fill="#cfcfd2"/>
<rect x="437.27" y="91.80" width="3.0" height="8.35" fill="#cfcfd2"/>
<rect x="440.65" y="91.80" width="3.0" height="8.35" fill="#cfcfd2"/>
<rect x="444.04" y="91.80" width="3.0" height="8.35" fill="#cfcfd2"/>
<rect x="447.42" y="91.80" width="3.0" height="8.35" fill="#cfcfd2"/>
<rect x="450.80" y="91.80" width="3.0" height="8.35" fill="#cfcfd2"/>
<rect x="454.19" y="91.80" width="3.0" height="8.35" fill="#cfcfd2"/>
<rect x="457.57" y="91.80" width="3.0" height="8.35" fill="#cfcfd2"/>
<rect x="460.95" y="91.80" width="3.0" height="8.35" fill="#cfcfd2"/>
<rect x="464.34" y="91.80" width="3.0" height="8.35" fill="#cfcfd2"/>
<rect x="467.72" y="91.80" width="3.0" height="8.35" fill="#cfcfd2"/>
<rect x="471.10" y="91.80" width="3.0" height="8.35" fill="#cfcfd2"/>
<rect x="474.49" y="91.80" width="3.0" height="8.35" fill="#cfcfd2"/>
<text x="54.3" y="99.10" text-anchor="end" font-size="9.2" font-style="italic" fill="#1a1a1a">SRSF2</text>
<text x="482" y="99.00" font-size="9.2" fill="#1a1a1a">25%</text>
<rect x="59.20" y="101.00" width="3.0" height="8.35" fill="#f8bb08"/>
<rect x="62.62" y="101.00" width="3.0" height="8.35" fill="#c80c24"/>
<rect x="66.05" y="101.00" width="3.0" height="8.35" fill="#cfcfd2"/>
<rect x="69.47" y="101.00" width="3.0" height="8.35" fill="#cfcfd2"/>
<rect x="72.90" y="101.00" width="3.0" height="8.35" fill="#cfcfd2"/>
<rect x="76.32" y="101.00" width="3.0" height="8.35" fill="#cfcfd2"/>
<rect x="79.75" y="101.00" width="3.0" height="8.35" fill="#cfcfd2"/>
<rect x="83.17" y="101.00" width="3.0" height="8.35" fill="#cfcfd2"/>
<rect x="86.60" y="101.00" width="3.0" height="8.35" fill="#cfcfd2"/>
<rect x="90.02" y="101.00" width="3.0" height="8.35" fill="#cfcfd2"/>
<rect x="93.44" y="101.00" width="3.0" height="8.35" fill="#cfcfd2"/>
<rect x="96.87" y="101.00" width="3.0" height="8.35" fill="#cfcfd2"/>
<rect x="100.29" y="101.00" width="3.0" height="8.35" fill="#cfcfd2"/>
<rect x="103.71" y="101.00" width="3.0" height="8.35" fill="#cfcfd2"/>
<rect x="107.14" y="101.00" width="3.0" height="8.35" fill="#cfcfd2"/>
<rect x="110.56" y="101.00" width="3.0" height="8.35" fill="#cfcfd2"/>
<rect x="113.98" y="101.00" width="3.0" height="8.35" fill="#cfcfd2"/>
<rect x="117.41" y="101.00" width="3.0" height="8.35" fill="#cfcfd2"/>
<rect x="120.83" y="101.00" width="3.0" height="8.35" fill="#c80c24"/>
<rect x="124.25" y="101.00" width="3.0" height="8.35" fill="#f8bb08"/>
<rect x="127.67" y="101.00" width="3.0" height="8.35" fill="#f8bb08"/>
<rect x="131.10" y="101.00" width="3.0" height="8.35" fill="#cfcfd2"/>
<rect x="134.52" y="101.00" width="3.0" height="8.35" fill="#cfcfd2"/>
<rect x="137.94" y="101.00" width="3.0" height="8.35" fill="#cfcfd2"/>
<rect x="141.36" y="101.00" width="3.0" height="8.35" fill="#cfcfd2"/>
<rect x="144.78" y="101.00" width="3.0" height="8.35" fill="#cfcfd2"/>
<rect x="148.20" y="101.00" width="3.0" height="8.35" fill="#cfcfd2"/>
<rect x="151.62" y="101.00" width="3.0" height="8.35" fill="#cfcfd2"/>
<rect x="155.04" y="101.00" width="3.0" height="8.35" fill="#cfcfd2"/>
<rect x="158.46" y="101.00" width="3.0" height="8.35" fill="#cfcfd2"/>
<rect x="161.88" y="101.00" width="3.0" height="8.35" fill="#cfcfd2"/>
<rect x="165.30" y="101.00" width="3.0" height="8.35" fill="#cfcfd2"/>
<rect x="168.72" y="101.00" width="3.0" height="8.35" fill="#cfcfd2"/>
<rect x="172.13" y="101.00" width="3.0" height="8.35" fill="#cfcfd2"/>
<rect x="175.55" y="101.00" width="3.0" height="8.35" fill="#cfcfd2"/>
<rect x="178.97" y="101.00" width="3.0" height="8.35" fill="#cfcfd2"/>
<rect x="182.38" y="101.00" width="3.0" height="8.35" fill="#cfcfd2"/>
<rect x="185.80" y="101.00" width="3.0" height="8.35" fill="#cfcfd2"/>
<rect x="189.22" y="101.00" width="3.0" height="8.35" fill="#cfcfd2"/>
<rect x="192.63" y="101.00" width="3.0" height="8.35" fill="#cfcfd2"/>
<rect x="196.05" y="101.00" width="3.0" height="8.35" fill="#cfcfd2"/>
<rect x="199.46" y="101.00" width="3.0" height="8.35" fill="#cfcfd2"/>
<rect x="202.87" y="101.00" width="3.0" height="8.35" fill="#cfcfd2"/>
<rect x="206.29" y="101.00" width="3.0" height="8.35" fill="#cfcfd2"/>
<rect x="209.70" y="101.00" width="3.0" height="8.35" fill="#cfcfd2"/>
<rect x="213.11" y="101.00" width="3.0" height="8.35" fill="#cfcfd2"/>
<rect x="216.53" y="101.00" width="3.0" height="8.35" fill="#cfcfd2"/>
<rect x="219.94" y="101.00" width="3.0" height="8.35" fill="#cfcfd2"/>
<rect x="223.35" y="101.00" width="3.0" height="8.35" fill="#114684"/>
<rect x="226.76" y="101.00" width="3.0" height="8.35" fill="#c80c24"/>
<rect x="230.17" y="101.00" width="3.0" height="8.35" fill="#c80c24"/>
<rect x="233.58" y="101.00" width="3.0" height="8.35" fill="#c80c24"/>
<rect x="236.99" y="101.00" width="3.0" height="8.35" fill="#114684"/>
<rect x="240.40" y="101.00" width="3.0" height="8.35" fill="#c80c24"/>
<rect x="243.80" y="101.00" width="3.0" height="8.35" fill="#c80c24"/>
<rect x="247.21" y="101.00" width="3.0" height="8.35" fill="#c80c24"/>
<rect x="250.62" y="101.00" width="3.0" height="8.35" fill="#c80c24"/>
<rect x="254.02" y="101.00" width="3.0" height="8.35" fill="#c80c24"/>
<rect x="257.43" y="101.00" width="3.0" height="8.35" fill="#c80c24"/>
<rect x="260.83" y="101.00" width="3.0" height="8.35" fill="#cfcfd2"/>
<rect x="264.24" y="101.00" width="3.0" height="8.35" fill="#cfcfd2"/>
<rect x="267.64" y="101.00" width="3.0" height="8.35" fill="#cfcfd2"/>
<rect x="271.05" y="101.00" width="3.0" height="8.35" fill="#cfcfd2"/>
<rect x="274.45" y="101.00" width="3.0" height="8.35" fill="#cfcfd2"/>
<rect x="277.85" y="101.00" width="3.0" height="8.35" fill="#cfcfd2"/>
<rect x="281.26" y="101.00" width="3.0" height="8.35" fill="#cfcfd2"/>
<rect x="284.66" y="101.00" width="3.0" height="8.35" fill="#cfcfd2"/>
<rect x="288.06" y="101.00" width="3.0" height="8.35" fill="#cfcfd2"/>
<rect x="291.46" y="101.00" width="3.0" height="8.35" fill="#cfcfd2"/>
<rect x="294.86" y="101.00" width="3.0" height="8.35" fill="#cfcfd2"/>
<rect x="298.26" y="101.00" width="3.0" height="8.35" fill="#cfcfd2"/>
<rect x="301.66" y="101.00" width="3.0" height="8.35" fill="#cfcfd2"/>
<rect x="305.06" y="101.00" width="3.0" height="8.35" fill="#cfcfd2"/>
<rect x="308.45" y="101.00" width="3.0" height="8.35" fill="#cfcfd2"/>
<rect x="311.85" y="101.00" width="3.0" height="8.35" fill="#cfcfd2"/>
<rect x="315.25" y="101.00" width="3.0" height="8.35" fill="#cfcfd2"/>
<rect x="318.65" y="101.00" width="3.0" height="8.35" fill="#cfcfd2"/>
<rect x="322.04" y="101.00" width="3.0" height="8.35" fill="#cfcfd2"/>
<rect x="325.44" y="101.00" width="3.0" height="8.35" fill="#cfcfd2"/>
<rect x="328.83" y="101.00" width="3.0" height="8.35" fill="#cfcfd2"/>
<rect x="332.23" y="101.00" width="3.0" height="8.35" fill="#cfcfd2"/>
<rect x="335.62" y="101.00" width="3.0" height="8.35" fill="#cfcfd2"/>
<rect x="339.01" y="101.00" width="3.0" height="8.35" fill="#cfcfd2"/>
<rect x="342.41" y="101.00" width="3.0" height="8.35" fill="#cfcfd2"/>
<rect x="345.80" y="101.00" width="3.0" height="8.35" fill="#cfcfd2"/>
<rect x="349.19" y="101.00" width="3.0" height="8.35" fill="#cfcfd2"/>
<rect x="352.58" y="101.00" width="3.0" height="8.35" fill="#cfcfd2"/>
<rect x="355.98" y="101.00" width="3.0" height="8.35" fill="#cfcfd2"/>
<rect x="359.37" y="101.00" width="3.0" height="8.35" fill="#114684"/>
<rect x="362.76" y="101.00" width="3.0" height="8.35" fill="#c80c24"/>
<rect x="366.15" y="101.00" width="3.0" height="8.35" fill="#f8bb08"/>
<rect x="369.54" y="101.00" width="3.0" height="8.35" fill="#cfcfd2"/>
<rect x="372.93" y="101.00" width="3.0" height="8.35" fill="#cfcfd2"/>
<rect x="376.32" y="101.00" width="3.0" height="8.35" fill="#cfcfd2"/>
<rect x="379.70" y="101.00" width="3.0" height="8.35" fill="#cfcfd2"/>
<rect x="383.09" y="101.00" width="3.0" height="8.35" fill="#cfcfd2"/>
<rect x="386.48" y="101.00" width="3.0" height="8.35" fill="#cfcfd2"/>
<rect x="389.87" y="101.00" width="3.0" height="8.35" fill="#cfcfd2"/>
<rect x="393.26" y="101.00" width="3.0" height="8.35" fill="#cfcfd2"/>
<rect x="396.64" y="101.00" width="3.0" height="8.35" fill="#cfcfd2"/>
<rect x="400.03" y="101.00" width="3.0" height="8.35" fill="#cfcfd2"/>
<rect x="403.42" y="101.00" width="3.0" height="8.35" fill="#cfcfd2"/>
<rect x="406.80" y="101.00" width="3.0" height="8.35" fill="#cfcfd2"/>
<rect x="410.19" y="101.00" width="3.0" height="8.35" fill="#cfcfd2"/>
<rect x="413.57" y="101.00" width="3.0" height="8.35" fill="#cfcfd2"/>
<rect x="416.96" y="101.00" width="3.0" height="8.35" fill="#cfcfd2"/>
<rect x="420.34" y="101.00" width="3.0" height="8.35" fill="#cfcfd2"/>
<rect x="423.73" y="101.00" width="3.0" height="8.35" fill="#c80c24"/>
<rect x="427.11" y="101.00" width="3.0" height="8.35" fill="#c80c24"/>
<rect x="430.50" y="101.00" width="3.0" height="8.35" fill="#cfcfd2"/>
<rect x="433.88" y="101.00" width="3.0" height="8.35" fill="#cfcfd2"/>
<rect x="437.27" y="101.00" width="3.0" height="8.35" fill="#cfcfd2"/>
<rect x="440.65" y="101.00" width="3.0" height="8.35" fill="#cfcfd2"/>
<rect x="444.04" y="101.00" width="3.0" height="8.35" fill="#cfcfd2"/>
<rect x="447.42" y="101.00" width="3.0" height="8.35" fill="#cfcfd2"/>
<rect x="450.80" y="101.00" width="3.0" height="8.35" fill="#cfcfd2"/>
<rect x="454.19" y="101.00" width="3.0" height="8.35" fill="#cfcfd2"/>
<rect x="457.57" y="101.00" width="3.0" height="8.35" fill="#cfcfd2"/>
<rect x="460.95" y="101.00" width="3.0" height="8.35" fill="#cfcfd2"/>
<rect x="464.34" y="101.00" width="3.0" height="8.35" fill="#cfcfd2"/>
<rect x="467.72" y="101.00" width="3.0" height="8.35" fill="#cfcfd2"/>
<rect x="471.10" y="101.00" width="3.0" height="8.35" fill="#cfcfd2"/>
<rect x="474.49" y="101.00" width="3.0" height="8.35" fill="#cfcfd2"/>
<text x="54.3" y="108.30" text-anchor="end" font-size="9.2" font-style="italic" fill="#1a1a1a">ASXL1</text>
<text x="482" y="108.20" font-size="9.2" fill="#1a1a1a">16%</text>
<rect x="59.20" y="110.20" width="3.0" height="8.35" fill="#cfcfd2"/>
<rect x="62.62" y="110.20" width="3.0" height="8.35" fill="#cfcfd2"/>
<rect x="66.05" y="110.20" width="3.0" height="8.35" fill="#cfcfd2"/>
<rect x="69.47" y="110.20" width="3.0" height="8.35" fill="#cfcfd2"/>
<rect x="72.90" y="110.20" width="3.0" height="8.35" fill="#cfcfd2"/>
<rect x="76.32" y="110.20" width="3.0" height="8.35" fill="#cfcfd2"/>
<rect x="79.75" y="110.20" width="3.0" height="8.35" fill="#cfcfd2"/>
<rect x="83.17" y="110.20" width="3.0" height="8.35" fill="#cfcfd2"/>
<rect x="86.60" y="110.20" width="3.0" height="8.35" fill="#cfcfd2"/>
<rect x="90.02" y="110.20" width="3.0" height="8.35" fill="#cfcfd2"/>
<rect x="93.44" y="110.20" width="3.0" height="8.35" fill="#cfcfd2"/>
<rect x="96.87" y="110.20" width="3.0" height="8.35" fill="#cfcfd2"/>
<rect x="100.29" y="110.20" width="3.0" height="8.35" fill="#cfcfd2"/>
<rect x="103.71" y="110.20" width="3.0" height="8.35" fill="#cfcfd2"/>
<rect x="107.14" y="110.20" width="3.0" height="8.35" fill="#cfcfd2"/>
<rect x="110.56" y="110.20" width="3.0" height="8.35" fill="#cfcfd2"/>
<rect x="113.98" y="110.20" width="3.0" height="8.35" fill="#cfcfd2"/>
<rect x="117.41" y="110.20" width="3.0" height="8.35" fill="#cfcfd2"/>
<rect x="120.83" y="110.20" width="3.0" height="8.35" fill="#cfcfd2"/>
<rect x="124.25" y="110.20" width="3.0" height="8.35" fill="#cfcfd2"/>
<rect x="127.67" y="110.20" width="3.0" height="8.35" fill="#cfcfd2"/>
<rect x="131.10" y="110.20" width="3.0" height="8.35" fill="#31a834"/>
<rect x="134.52" y="110.20" width="3.0" height="8.35" fill="#31a834"/>
<rect x="137.94" y="110.20" width="3.0" height="8.35" fill="#cfcfd2"/>
<rect x="141.36" y="110.20" width="3.0" height="8.35" fill="#cfcfd2"/>
<rect x="144.78" y="110.20" width="3.0" height="8.35" fill="#cfcfd2"/>
<rect x="148.20" y="110.20" width="3.0" height="8.35" fill="#cfcfd2"/>
<rect x="151.62" y="110.20" width="3.0" height="8.35" fill="#cfcfd2"/>
<rect x="155.04" y="110.20" width="3.0" height="8.35" fill="#cfcfd2"/>
<rect x="158.46" y="110.20" width="3.0" height="8.35" fill="#cfcfd2"/>
<rect x="161.88" y="110.20" width="3.0" height="8.35" fill="#cfcfd2"/>
<rect x="165.30" y="110.20" width="3.0" height="8.35" fill="#cfcfd2"/>
<rect x="168.72" y="110.20" width="3.0" height="8.35" fill="#cfcfd2"/>
<rect x="172.13" y="110.20" width="3.0" height="8.35" fill="#cfcfd2"/>
<rect x="175.55" y="110.20" width="3.0" height="8.35" fill="#cfcfd2"/>
<rect x="178.97" y="110.20" width="3.0" height="8.35" fill="#cfcfd2"/>
<rect x="182.38" y="110.20" width="3.0" height="8.35" fill="#cfcfd2"/>
<rect x="185.80" y="110.20" width="3.0" height="8.35" fill="#cfcfd2"/>
<rect x="189.22" y="110.20" width="3.0" height="8.35" fill="#cfcfd2"/>
<rect x="192.63" y="110.20" width="3.0" height="8.35" fill="#cfcfd2"/>
<rect x="196.05" y="110.20" width="3.0" height="8.35" fill="#cfcfd2"/>
<rect x="199.46" y="110.20" width="3.0" height="8.35" fill="#cfcfd2"/>
<rect x="202.87" y="110.20" width="3.0" height="8.35" fill="#cfcfd2"/>
<rect x="206.29" y="110.20" width="3.0" height="8.35" fill="#cfcfd2"/>
<rect x="209.70" y="110.20" width="3.0" height="8.35" fill="#cfcfd2"/>
<rect x="213.11" y="110.20" width="3.0" height="8.35" fill="#cfcfd2"/>
<rect x="216.53" y="110.20" width="3.0" height="8.35" fill="#cfcfd2"/>
<rect x="219.94" y="110.20" width="3.0" height="8.35" fill="#cfcfd2"/>
<rect x="223.35" y="110.20" width="3.0" height="8.35" fill="#cfcfd2"/>
<rect x="226.76" y="110.20" width="3.0" height="8.35" fill="#cfcfd2"/>
<rect x="230.17" y="110.20" width="3.0" height="8.35" fill="#cfcfd2"/>
<rect x="233.58" y="110.20" width="3.0" height="8.35" fill="#cfcfd2"/>
<rect x="236.99" y="110.20" width="3.0" height="8.35" fill="#cfcfd2"/>
<rect x="240.40" y="110.20" width="3.0" height="8.35" fill="#cfcfd2"/>
<rect x="243.80" y="110.20" width="3.0" height="8.35" fill="#cfcfd2"/>
<rect x="247.21" y="110.20" width="3.0" height="8.35" fill="#cfcfd2"/>
<rect x="250.62" y="110.20" width="3.0" height="8.35" fill="#cfcfd2"/>
<rect x="254.02" y="110.20" width="3.0" height="8.35" fill="#cfcfd2"/>
<rect x="257.43" y="110.20" width="3.0" height="8.35" fill="#cfcfd2"/>
<rect x="260.83" y="110.20" width="3.0" height="8.35" fill="#31a834"/>
<rect x="264.24" y="110.20" width="3.0" height="8.35" fill="#f8bb08"/>
<rect x="267.64" y="110.20" width="3.0" height="8.35" fill="#31a834"/>
<rect x="271.05" y="110.20" width="3.0" height="8.35" fill="#c80c24"/>
<rect x="274.45" y="110.20" width="3.0" height="8.35" fill="#31a834"/>
<rect x="277.85" y="110.20" width="3.0" height="8.35" fill="#2ba2e0"/>
<rect x="281.26" y="110.20" width="3.0" height="8.35" fill="#c80c24"/>
<rect x="284.66" y="110.20" width="3.0" height="8.35" fill="#2ba2e0"/>
<rect x="288.06" y="110.20" width="3.0" height="8.35" fill="#cfcfd2"/>
<rect x="291.46" y="110.20" width="3.0" height="8.35" fill="#cfcfd2"/>
<rect x="294.86" y="110.20" width="3.0" height="8.35" fill="#cfcfd2"/>
<rect x="298.26" y="110.20" width="3.0" height="8.35" fill="#cfcfd2"/>
<rect x="301.66" y="110.20" width="3.0" height="8.35" fill="#cfcfd2"/>
<rect x="305.06" y="110.20" width="3.0" height="8.35" fill="#cfcfd2"/>
<rect x="308.45" y="110.20" width="3.0" height="8.35" fill="#cfcfd2"/>
<rect x="311.85" y="110.20" width="3.0" height="8.35" fill="#cfcfd2"/>
<rect x="315.25" y="110.20" width="3.0" height="8.35" fill="#cfcfd2"/>
<rect x="318.65" y="110.20" width="3.0" height="8.35" fill="#cfcfd2"/>
<rect x="322.04" y="110.20" width="3.0" height="8.35" fill="#cfcfd2"/>
<rect x="325.44" y="110.20" width="3.0" height="8.35" fill="#cfcfd2"/>
<rect x="328.83" y="110.20" width="3.0" height="8.35" fill="#cfcfd2"/>
<rect x="332.23" y="110.20" width="3.0" height="8.35" fill="#cfcfd2"/>
<rect x="335.62" y="110.20" width="3.0" height="8.35" fill="#cfcfd2"/>
<rect x="339.01" y="110.20" width="3.0" height="8.35" fill="#cfcfd2"/>
<rect x="342.41" y="110.20" width="3.0" height="8.35" fill="#cfcfd2"/>
<rect x="345.80" y="110.20" width="3.0" height="8.35" fill="#cfcfd2"/>
<rect x="349.19" y="110.20" width="3.0" height="8.35" fill="#cfcfd2"/>
<rect x="352.58" y="110.20" width="3.0" height="8.35" fill="#cfcfd2"/>
<rect x="355.98" y="110.20" width="3.0" height="8.35" fill="#cfcfd2"/>
<rect x="359.37" y="110.20" width="3.0" height="8.35" fill="#cfcfd2"/>
<rect x="362.76" y="110.20" width="3.0" height="8.35" fill="#cfcfd2"/>
<rect x="366.15" y="110.20" width="3.0" height="8.35" fill="#cfcfd2"/>
<rect x="369.54" y="110.20" width="3.0" height="8.35" fill="#31a834"/>
<rect x="372.93" y="110.20" width="3.0" height="8.35" fill="#31a834"/>
<rect x="376.32" y="110.20" width="3.0" height="8.35" fill="#cfcfd2"/>
<rect x="379.70" y="110.20" width="3.0" height="8.35" fill="#cfcfd2"/>
<rect x="383.09" y="110.20" width="3.0" height="8.35" fill="#cfcfd2"/>
<rect x="386.48" y="110.20" width="3.0" height="8.35" fill="#cfcfd2"/>
<rect x="389.87" y="110.20" width="3.0" height="8.35" fill="#cfcfd2"/>
<rect x="393.26" y="110.20" width="3.0" height="8.35" fill="#cfcfd2"/>
<rect x="396.64" y="110.20" width="3.0" height="8.35" fill="#cfcfd2"/>
<rect x="400.03" y="110.20" width="3.0" height="8.35" fill="#cfcfd2"/>
<rect x="403.42" y="110.20" width="3.0" height="8.35" fill="#cfcfd2"/>
<rect x="406.80" y="110.20" width="3.0" height="8.35" fill="#cfcfd2"/>
<rect x="410.19" y="110.20" width="3.0" height="8.35" fill="#cfcfd2"/>
<rect x="413.57" y="110.20" width="3.0" height="8.35" fill="#cfcfd2"/>
<rect x="416.96" y="110.20" width="3.0" height="8.35" fill="#cfcfd2"/>
<rect x="420.34" y="110.20" width="3.0" height="8.35" fill="#cfcfd2"/>
<rect x="423.73" y="110.20" width="3.0" height="8.35" fill="#cfcfd2"/>
<rect x="427.11" y="110.20" width="3.0" height="8.35" fill="#cfcfd2"/>
<rect x="430.50" y="110.20" width="3.0" height="8.35" fill="#114684"/>
<rect x="433.88" y="110.20" width="3.0" height="8.35" fill="#31a834"/>
<rect x="437.27" y="110.20" width="3.0" height="8.35" fill="#114684"/>
<rect x="440.65" y="110.20" width="3.0" height="8.35" fill="#31a834"/>
<rect x="444.04" y="110.20" width="3.0" height="8.35" fill="#2ba2e0"/>
<rect x="447.42" y="110.20" width="3.0" height="8.35" fill="#cfcfd2"/>
<rect x="450.80" y="110.20" width="3.0" height="8.35" fill="#cfcfd2"/>
<rect x="454.19" y="110.20" width="3.0" height="8.35" fill="#cfcfd2"/>
<rect x="457.57" y="110.20" width="3.0" height="8.35" fill="#cfcfd2"/>
<rect x="460.95" y="110.20" width="3.0" height="8.35" fill="#cfcfd2"/>
<rect x="464.34" y="110.20" width="3.0" height="8.35" fill="#cfcfd2"/>
<rect x="467.72" y="110.20" width="3.0" height="8.35" fill="#cfcfd2"/>
<rect x="471.10" y="110.20" width="3.0" height="8.35" fill="#cfcfd2"/>
<rect x="474.49" y="110.20" width="3.0" height="8.35" fill="#cfcfd2"/>
<text x="54.3" y="117.50" text-anchor="end" font-size="9.2" font-style="italic" fill="#1a1a1a">DNMT3A</text>
<text x="482" y="117.40" font-size="9.2" fill="#1a1a1a">13%</text>
<rect x="59.20" y="119.40" width="3.0" height="8.35" fill="#cfcfd2"/>
<rect x="62.62" y="119.40" width="3.0" height="8.35" fill="#cfcfd2"/>
<rect x="66.05" y="119.40" width="3.0" height="8.35" fill="#f8bb08"/>
<rect x="69.47" y="119.40" width="3.0" height="8.35" fill="#cfcfd2"/>
<rect x="72.90" y="119.40" width="3.0" height="8.35" fill="#cfcfd2"/>
<rect x="76.32" y="119.40" width="3.0" height="8.35" fill="#cfcfd2"/>
<rect x="79.75" y="119.40" width="3.0" height="8.35" fill="#cfcfd2"/>
<rect x="83.17" y="119.40" width="3.0" height="8.35" fill="#cfcfd2"/>
<rect x="86.60" y="119.40" width="3.0" height="8.35" fill="#cfcfd2"/>
<rect x="90.02" y="119.40" width="3.0" height="8.35" fill="#cfcfd2"/>
<rect x="93.44" y="119.40" width="3.0" height="8.35" fill="#cfcfd2"/>
<rect x="96.87" y="119.40" width="3.0" height="8.35" fill="#cfcfd2"/>
<rect x="100.29" y="119.40" width="3.0" height="8.35" fill="#cfcfd2"/>
<rect x="103.71" y="119.40" width="3.0" height="8.35" fill="#cfcfd2"/>
<rect x="107.14" y="119.40" width="3.0" height="8.35" fill="#cfcfd2"/>
<rect x="110.56" y="119.40" width="3.0" height="8.35" fill="#cfcfd2"/>
<rect x="113.98" y="119.40" width="3.0" height="8.35" fill="#cfcfd2"/>
<rect x="117.41" y="119.40" width="3.0" height="8.35" fill="#cfcfd2"/>
<rect x="120.83" y="119.40" width="3.0" height="8.35" fill="#cfcfd2"/>
<rect x="124.25" y="119.40" width="3.0" height="8.35" fill="#cfcfd2"/>
<rect x="127.67" y="119.40" width="3.0" height="8.35" fill="#cfcfd2"/>
<rect x="131.10" y="119.40" width="3.0" height="8.35" fill="#cfcfd2"/>
<rect x="134.52" y="119.40" width="3.0" height="8.35" fill="#cfcfd2"/>
<rect x="137.94" y="119.40" width="3.0" height="8.35" fill="#114684"/>
<rect x="141.36" y="119.40" width="3.0" height="8.35" fill="#c80c24"/>
<rect x="144.78" y="119.40" width="3.0" height="8.35" fill="#c80c24"/>
<rect x="148.20" y="119.40" width="3.0" height="8.35" fill="#f8bb08"/>
<rect x="151.62" y="119.40" width="3.0" height="8.35" fill="#2ba2e0"/>
<rect x="155.04" y="119.40" width="3.0" height="8.35" fill="#c80c24"/>
<rect x="158.46" y="119.40" width="3.0" height="8.35" fill="#114684"/>
<rect x="161.88" y="119.40" width="3.0" height="8.35" fill="#6a3614"/>
<rect x="165.30" y="119.40" width="3.0" height="8.35" fill="#114684"/>
<rect x="168.72" y="119.40" width="3.0" height="8.35" fill="#cfcfd2"/>
<rect x="172.13" y="119.40" width="3.0" height="8.35" fill="#cfcfd2"/>
<rect x="175.55" y="119.40" width="3.0" height="8.35" fill="#cfcfd2"/>
<rect x="178.97" y="119.40" width="3.0" height="8.35" fill="#cfcfd2"/>
<rect x="182.38" y="119.40" width="3.0" height="8.35" fill="#cfcfd2"/>
<rect x="185.80" y="119.40" width="3.0" height="8.35" fill="#c80c24"/>
<rect x="189.22" y="119.40" width="3.0" height="8.35" fill="#cfcfd2"/>
<rect x="192.63" y="119.40" width="3.0" height="8.35" fill="#cfcfd2"/>
<rect x="196.05" y="119.40" width="3.0" height="8.35" fill="#cfcfd2"/>
<rect x="199.46" y="119.40" width="3.0" height="8.35" fill="#cfcfd2"/>
<rect x="202.87" y="119.40" width="3.0" height="8.35" fill="#cfcfd2"/>
<rect x="206.29" y="119.40" width="3.0" height="8.35" fill="#cfcfd2"/>
<rect x="209.70" y="119.40" width="3.0" height="8.35" fill="#cfcfd2"/>
<rect x="213.11" y="119.40" width="3.0" height="8.35" fill="#cfcfd2"/>
<rect x="216.53" y="119.40" width="3.0" height="8.35" fill="#cfcfd2"/>
<rect x="219.94" y="119.40" width="3.0" height="8.35" fill="#cfcfd2"/>
<rect x="223.35" y="119.40" width="3.0" height="8.35" fill="#cfcfd2"/>
<rect x="226.76" y="119.40" width="3.0" height="8.35" fill="#cfcfd2"/>
<rect x="230.17" y="119.40" width="3.0" height="8.35" fill="#cfcfd2"/>
<rect x="233.58" y="119.40" width="3.0" height="8.35" fill="#cfcfd2"/>
<rect x="236.99" y="119.40" width="3.0" height="8.35" fill="#cfcfd2"/>
<rect x="240.40" y="119.40" width="3.0" height="8.35" fill="#cfcfd2"/>
<rect x="243.80" y="119.40" width="3.0" height="8.35" fill="#cfcfd2"/>
<rect x="247.21" y="119.40" width="3.0" height="8.35" fill="#cfcfd2"/>
<rect x="250.62" y="119.40" width="3.0" height="8.35" fill="#cfcfd2"/>
<rect x="254.02" y="119.40" width="3.0" height="8.35" fill="#cfcfd2"/>
<rect x="257.43" y="119.40" width="3.0" height="8.35" fill="#cfcfd2"/>
<rect x="260.83" y="119.40" width="3.0" height="8.35" fill="#cfcfd2"/>
<rect x="264.24" y="119.40" width="3.0" height="8.35" fill="#cfcfd2"/>
<rect x="267.64" y="119.40" width="3.0" height="8.35" fill="#cfcfd2"/>
<rect x="271.05" y="119.40" width="3.0" height="8.35" fill="#cfcfd2"/>
<rect x="274.45" y="119.40" width="3.0" height="8.35" fill="#cfcfd2"/>
<rect x="277.85" y="119.40" width="3.0" height="8.35" fill="#cfcfd2"/>
<rect x="281.26" y="119.40" width="3.0" height="8.35" fill="#cfcfd2"/>
<rect x="284.66" y="119.40" width="3.0" height="8.35" fill="#cfcfd2"/>
<rect x="288.06" y="119.40" width="3.0" height="8.35" fill="#114684"/>
<rect x="291.46" y="119.40" width="3.0" height="8.35" fill="#cfcfd2"/>
<rect x="294.86" y="119.40" width="3.0" height="8.35" fill="#cfcfd2"/>
<rect x="298.26" y="119.40" width="3.0" height="8.35" fill="#cfcfd2"/>
<rect x="301.66" y="119.40" width="3.0" height="8.35" fill="#cfcfd2"/>
<rect x="305.06" y="119.40" width="3.0" height="8.35" fill="#cfcfd2"/>
<rect x="308.45" y="119.40" width="3.0" height="8.35" fill="#cfcfd2"/>
<rect x="311.85" y="119.40" width="3.0" height="8.35" fill="#cfcfd2"/>
<rect x="315.25" y="119.40" width="3.0" height="8.35" fill="#cfcfd2"/>
<rect x="318.65" y="119.40" width="3.0" height="8.35" fill="#cfcfd2"/>
<rect x="322.04" y="119.40" width="3.0" height="8.35" fill="#cfcfd2"/>
<rect x="325.44" y="119.40" width="3.0" height="8.35" fill="#cfcfd2"/>
<rect x="328.83" y="119.40" width="3.0" height="8.35" fill="#cfcfd2"/>
<rect x="332.23" y="119.40" width="3.0" height="8.35" fill="#cfcfd2"/>
<rect x="335.62" y="119.40" width="3.0" height="8.35" fill="#cfcfd2"/>
<rect x="339.01" y="119.40" width="3.0" height="8.35" fill="#cfcfd2"/>
<rect x="342.41" y="119.40" width="3.0" height="8.35" fill="#cfcfd2"/>
<rect x="345.80" y="119.40" width="3.0" height="8.35" fill="#cfcfd2"/>
<rect x="349.19" y="119.40" width="3.0" height="8.35" fill="#cfcfd2"/>
<rect x="352.58" y="119.40" width="3.0" height="8.35" fill="#cfcfd2"/>
<rect x="355.98" y="119.40" width="3.0" height="8.35" fill="#cfcfd2"/>
<rect x="359.37" y="119.40" width="3.0" height="8.35" fill="#cfcfd2"/>
<rect x="362.76" y="119.40" width="3.0" height="8.35" fill="#cfcfd2"/>
<rect x="366.15" y="119.40" width="3.0" height="8.35" fill="#cfcfd2"/>
<rect x="369.54" y="119.40" width="3.0" height="8.35" fill="#cfcfd2"/>
<rect x="372.93" y="119.40" width="3.0" height="8.35" fill="#cfcfd2"/>
<rect x="376.32" y="119.40" width="3.0" height="8.35" fill="#114684"/>
<rect x="379.70" y="119.40" width="3.0" height="8.35" fill="#cfcfd2"/>
<rect x="383.09" y="119.40" width="3.0" height="8.35" fill="#cfcfd2"/>
<rect x="386.48" y="119.40" width="3.0" height="8.35" fill="#cfcfd2"/>
<rect x="389.87" y="119.40" width="3.0" height="8.35" fill="#cfcfd2"/>
<rect x="393.26" y="119.40" width="3.0" height="8.35" fill="#cfcfd2"/>
<rect x="396.64" y="119.40" width="3.0" height="8.35" fill="#cfcfd2"/>
<rect x="400.03" y="119.40" width="3.0" height="8.35" fill="#cfcfd2"/>
<rect x="403.42" y="119.40" width="3.0" height="8.35" fill="#cfcfd2"/>
<rect x="406.80" y="119.40" width="3.0" height="8.35" fill="#cfcfd2"/>
<rect x="410.19" y="119.40" width="3.0" height="8.35" fill="#cfcfd2"/>
<rect x="413.57" y="119.40" width="3.0" height="8.35" fill="#cfcfd2"/>
<rect x="416.96" y="119.40" width="3.0" height="8.35" fill="#cfcfd2"/>
<rect x="420.34" y="119.40" width="3.0" height="8.35" fill="#cfcfd2"/>
<rect x="423.73" y="119.40" width="3.0" height="8.35" fill="#cfcfd2"/>
<rect x="427.11" y="119.40" width="3.0" height="8.35" fill="#cfcfd2"/>
<rect x="430.50" y="119.40" width="3.0" height="8.35" fill="#cfcfd2"/>
<rect x="433.88" y="119.40" width="3.0" height="8.35" fill="#cfcfd2"/>
<rect x="437.27" y="119.40" width="3.0" height="8.35" fill="#cfcfd2"/>
<rect x="440.65" y="119.40" width="3.0" height="8.35" fill="#cfcfd2"/>
<rect x="444.04" y="119.40" width="3.0" height="8.35" fill="#cfcfd2"/>
<rect x="447.42" y="119.40" width="3.0" height="8.35" fill="#cfcfd2"/>
<rect x="450.80" y="119.40" width="3.0" height="8.35" fill="#cfcfd2"/>
<rect x="454.19" y="119.40" width="3.0" height="8.35" fill="#cfcfd2"/>
<rect x="457.57" y="119.40" width="3.0" height="8.35" fill="#cfcfd2"/>
<rect x="460.95" y="119.40" width="3.0" height="8.35" fill="#cfcfd2"/>
<rect x="464.34" y="119.40" width="3.0" height="8.35" fill="#cfcfd2"/>
<rect x="467.72" y="119.40" width="3.0" height="8.35" fill="#cfcfd2"/>
<rect x="471.10" y="119.40" width="3.0" height="8.35" fill="#cfcfd2"/>
<rect x="474.49" y="119.40" width="3.0" height="8.35" fill="#cfcfd2"/>
<text x="54.3" y="126.70" text-anchor="end" font-size="9.2" font-style="italic" fill="#1a1a1a">ZRSR2</text>
<text x="482" y="126.60" font-size="9.2" fill="#1a1a1a">10%</text>
<rect x="59.20" y="128.60" width="3.0" height="8.35" fill="#cfcfd2"/>
<rect x="62.62" y="128.60" width="3.0" height="8.35" fill="#cfcfd2"/>
<rect x="66.05" y="128.60" width="3.0" height="8.35" fill="#cfcfd2"/>
<rect x="69.47" y="128.60" width="3.0" height="8.35" fill="#cfcfd2"/>
<rect x="72.90" y="128.60" width="3.0" height="8.35" fill="#cfcfd2"/>
<rect x="76.32" y="128.60" width="3.0" height="8.35" fill="#cfcfd2"/>
<rect x="79.75" y="128.60" width="3.0" height="8.35" fill="#cfcfd2"/>
<rect x="83.17" y="128.60" width="3.0" height="8.35" fill="#cfcfd2"/>
<rect x="86.60" y="128.60" width="3.0" height="8.35" fill="#cfcfd2"/>
<rect x="90.02" y="128.60" width="3.0" height="8.35" fill="#cfcfd2"/>
<rect x="93.44" y="128.60" width="3.0" height="8.35" fill="#cfcfd2"/>
<rect x="96.87" y="128.60" width="3.0" height="8.35" fill="#cfcfd2"/>
<rect x="100.29" y="128.60" width="3.0" height="8.35" fill="#cfcfd2"/>
<rect x="103.71" y="128.60" width="3.0" height="8.35" fill="#cfcfd2"/>
<rect x="107.14" y="128.60" width="3.0" height="8.35" fill="#cfcfd2"/>
<rect x="110.56" y="128.60" width="3.0" height="8.35" fill="#cfcfd2"/>
<rect x="113.98" y="128.60" width="3.0" height="8.35" fill="#cfcfd2"/>
<rect x="117.41" y="128.60" width="3.0" height="8.35" fill="#cfcfd2"/>
<rect x="120.83" y="128.60" width="3.0" height="8.35" fill="#cfcfd2"/>
<rect x="124.25" y="128.60" width="3.0" height="8.35" fill="#cfcfd2"/>
<rect x="127.67" y="128.60" width="3.0" height="8.35" fill="#cfcfd2"/>
<rect x="131.10" y="128.60" width="3.0" height="8.35" fill="#cfcfd2"/>
<rect x="134.52" y="128.60" width="3.0" height="8.35" fill="#cfcfd2"/>
<rect x="137.94" y="128.60" width="3.0" height="8.35" fill="#31a834"/>
<rect x="141.36" y="128.60" width="3.0" height="8.35" fill="#cfcfd2"/>
<rect x="144.78" y="128.60" width="3.0" height="8.35" fill="#cfcfd2"/>
<rect x="148.20" y="128.60" width="3.0" height="8.35" fill="#cfcfd2"/>
<rect x="151.62" y="128.60" width="3.0" height="8.35" fill="#cfcfd2"/>
<rect x="155.04" y="128.60" width="3.0" height="8.35" fill="#cfcfd2"/>
<rect x="158.46" y="128.60" width="3.0" height="8.35" fill="#cfcfd2"/>
<rect x="161.88" y="128.60" width="3.0" height="8.35" fill="#cfcfd2"/>
<rect x="165.30" y="128.60" width="3.0" height="8.35" fill="#cfcfd2"/>
<rect x="168.72" y="128.60" width="3.0" height="8.35" fill="#cfcfd2"/>
<rect x="172.13" y="128.60" width="3.0" height="8.35" fill="#cfcfd2"/>
<rect x="175.55" y="128.60" width="3.0" height="8.35" fill="#cfcfd2"/>
<rect x="178.97" y="128.60" width="3.0" height="8.35" fill="#cfcfd2"/>
<rect x="182.38" y="128.60" width="3.0" height="8.35" fill="#cfcfd2"/>
<rect x="185.80" y="128.60" width="3.0" height="8.35" fill="#cfcfd2"/>
<rect x="189.22" y="128.60" width="3.0" height="8.35" fill="#cfcfd2"/>
<rect x="192.63" y="128.60" width="3.0" height="8.35" fill="#cfcfd2"/>
<rect x="196.05" y="128.60" width="3.0" height="8.35" fill="#cfcfd2"/>
<rect x="199.46" y="128.60" width="3.0" height="8.35" fill="#cfcfd2"/>
<rect x="202.87" y="128.60" width="3.0" height="8.35" fill="#cfcfd2"/>
<rect x="206.29" y="128.60" width="3.0" height="8.35" fill="#cfcfd2"/>
<rect x="209.70" y="128.60" width="3.0" height="8.35" fill="#cfcfd2"/>
<rect x="213.11" y="128.60" width="3.0" height="8.35" fill="#cfcfd2"/>
<rect x="216.53" y="128.60" width="3.0" height="8.35" fill="#cfcfd2"/>
<rect x="219.94" y="128.60" width="3.0" height="8.35" fill="#cfcfd2"/>
<rect x="223.35" y="128.60" width="3.0" height="8.35" fill="#31a834"/>
<rect x="226.76" y="128.60" width="3.0" height="8.35" fill="#31a834"/>
<rect x="230.17" y="128.60" width="3.0" height="8.35" fill="#31a834"/>
<rect x="233.58" y="128.60" width="3.0" height="8.35" fill="#31a834"/>
<rect x="236.99" y="128.60" width="3.0" height="8.35" fill="#cfcfd2"/>
<rect x="240.40" y="128.60" width="3.0" height="8.35" fill="#cfcfd2"/>
<rect x="243.80" y="128.60" width="3.0" height="8.35" fill="#cfcfd2"/>
<rect x="247.21" y="128.60" width="3.0" height="8.35" fill="#cfcfd2"/>
<rect x="250.62" y="128.60" width="3.0" height="8.35" fill="#cfcfd2"/>
<rect x="254.02" y="128.60" width="3.0" height="8.35" fill="#cfcfd2"/>
<rect x="257.43" y="128.60" width="3.0" height="8.35" fill="#cfcfd2"/>
<rect x="260.83" y="128.60" width="3.0" height="8.35" fill="#cfcfd2"/>
<rect x="264.24" y="128.60" width="3.0" height="8.35" fill="#cfcfd2"/>
<rect x="267.64" y="128.60" width="3.0" height="8.35" fill="#cfcfd2"/>
<rect x="271.05" y="128.60" width="3.0" height="8.35" fill="#cfcfd2"/>
<rect x="274.45" y="128.60" width="3.0" height="8.35" fill="#cfcfd2"/>
<rect x="277.85" y="128.60" width="3.0" height="8.35" fill="#cfcfd2"/>
<rect x="281.26" y="128.60" width="3.0" height="8.35" fill="#cfcfd2"/>
<rect x="284.66" y="128.60" width="3.0" height="8.35" fill="#cfcfd2"/>
<rect x="288.06" y="128.60" width="3.0" height="8.35" fill="#cfcfd2"/>
<rect x="291.46" y="128.60" width="3.0" height="8.35" fill="#31a834"/>
<rect x="294.86" y="128.60" width="3.0" height="8.35" fill="#31a834"/>
<rect x="298.26" y="128.60" width="3.0" height="8.35" fill="#31a834"/>
<rect x="301.66" y="128.60" width="3.0" height="8.35" fill="#31a834"/>
<rect x="305.06" y="128.60" width="3.0" height="8.35" fill="#cfcfd2"/>
<rect x="308.45" y="128.60" width="3.0" height="8.35" fill="#cfcfd2"/>
<rect x="311.85" y="128.60" width="3.0" height="8.35" fill="#cfcfd2"/>
<rect x="315.25" y="128.60" width="3.0" height="8.35" fill="#cfcfd2"/>
<rect x="318.65" y="128.60" width="3.0" height="8.35" fill="#cfcfd2"/>
<rect x="322.04" y="128.60" width="3.0" height="8.35" fill="#cfcfd2"/>
<rect x="325.44" y="128.60" width="3.0" height="8.35" fill="#cfcfd2"/>
<rect x="328.83" y="128.60" width="3.0" height="8.35" fill="#cfcfd2"/>
<rect x="332.23" y="128.60" width="3.0" height="8.35" fill="#cfcfd2"/>
<rect x="335.62" y="128.60" width="3.0" height="8.35" fill="#cfcfd2"/>
<rect x="339.01" y="128.60" width="3.0" height="8.35" fill="#cfcfd2"/>
<rect x="342.41" y="128.60" width="3.0" height="8.35" fill="#cfcfd2"/>
<rect x="345.80" y="128.60" width="3.0" height="8.35" fill="#cfcfd2"/>
<rect x="349.19" y="128.60" width="3.0" height="8.35" fill="#cfcfd2"/>
<rect x="352.58" y="128.60" width="3.0" height="8.35" fill="#cfcfd2"/>
<rect x="355.98" y="128.60" width="3.0" height="8.35" fill="#cfcfd2"/>
<rect x="359.37" y="128.60" width="3.0" height="8.35" fill="#cfcfd2"/>
<rect x="362.76" y="128.60" width="3.0" height="8.35" fill="#cfcfd2"/>
<rect x="366.15" y="128.60" width="3.0" height="8.35" fill="#cfcfd2"/>
<rect x="369.54" y="128.60" width="3.0" height="8.35" fill="#cfcfd2"/>
<rect x="372.93" y="128.60" width="3.0" height="8.35" fill="#cfcfd2"/>
<rect x="376.32" y="128.60" width="3.0" height="8.35" fill="#cfcfd2"/>
<rect x="379.70" y="128.60" width="3.0" height="8.35" fill="#31a834"/>
<rect x="383.09" y="128.60" width="3.0" height="8.35" fill="#cfcfd2"/>
<rect x="386.48" y="128.60" width="3.0" height="8.35" fill="#cfcfd2"/>
<rect x="389.87" y="128.60" width="3.0" height="8.35" fill="#cfcfd2"/>
<rect x="393.26" y="128.60" width="3.0" height="8.35" fill="#cfcfd2"/>
<rect x="396.64" y="128.60" width="3.0" height="8.35" fill="#cfcfd2"/>
<rect x="400.03" y="128.60" width="3.0" height="8.35" fill="#cfcfd2"/>
<rect x="403.42" y="128.60" width="3.0" height="8.35" fill="#cfcfd2"/>
<rect x="406.80" y="128.60" width="3.0" height="8.35" fill="#cfcfd2"/>
<rect x="410.19" y="128.60" width="3.0" height="8.35" fill="#cfcfd2"/>
<rect x="413.57" y="128.60" width="3.0" height="8.35" fill="#cfcfd2"/>
<rect x="416.96" y="128.60" width="3.0" height="8.35" fill="#31a834"/>
<rect x="420.34" y="128.60" width="3.0" height="8.35" fill="#cfcfd2"/>
<rect x="423.73" y="128.60" width="3.0" height="8.35" fill="#cfcfd2"/>
<rect x="427.11" y="128.60" width="3.0" height="8.35" fill="#cfcfd2"/>
<rect x="430.50" y="128.60" width="3.0" height="8.35" fill="#cfcfd2"/>
<rect x="433.88" y="128.60" width="3.0" height="8.35" fill="#cfcfd2"/>
<rect x="437.27" y="128.60" width="3.0" height="8.35" fill="#cfcfd2"/>
<rect x="440.65" y="128.60" width="3.0" height="8.35" fill="#cfcfd2"/>
<rect x="444.04" y="128.60" width="3.0" height="8.35" fill="#cfcfd2"/>
<rect x="447.42" y="128.60" width="3.0" height="8.35" fill="#31a834"/>
<rect x="450.80" y="128.60" width="3.0" height="8.35" fill="#cfcfd2"/>
<rect x="454.19" y="128.60" width="3.0" height="8.35" fill="#cfcfd2"/>
<rect x="457.57" y="128.60" width="3.0" height="8.35" fill="#cfcfd2"/>
<rect x="460.95" y="128.60" width="3.0" height="8.35" fill="#cfcfd2"/>
<rect x="464.34" y="128.60" width="3.0" height="8.35" fill="#cfcfd2"/>
<rect x="467.72" y="128.60" width="3.0" height="8.35" fill="#cfcfd2"/>
<rect x="471.10" y="128.60" width="3.0" height="8.35" fill="#cfcfd2"/>
<rect x="474.49" y="128.60" width="3.0" height="8.35" fill="#cfcfd2"/>
<text x="54.3" y="135.90" text-anchor="end" font-size="9.2" font-style="italic" fill="#1a1a1a">U2AF1</text>
<text x="482" y="135.80" font-size="9.2" fill="#1a1a1a">9%</text>
<rect x="59.20" y="137.80" width="3.0" height="8.35" fill="#cfcfd2"/>
<rect x="62.62" y="137.80" width="3.0" height="8.35" fill="#cfcfd2"/>
<rect x="66.05" y="137.80" width="3.0" height="8.35" fill="#cfcfd2"/>
<rect x="69.47" y="137.80" width="3.0" height="8.35" fill="#cfcfd2"/>
<rect x="72.90" y="137.80" width="3.0" height="8.35" fill="#cfcfd2"/>
<rect x="76.32" y="137.80" width="3.0" height="8.35" fill="#cfcfd2"/>
<rect x="79.75" y="137.80" width="3.0" height="8.35" fill="#cfcfd2"/>
<rect x="83.17" y="137.80" width="3.0" height="8.35" fill="#cfcfd2"/>
<rect x="86.60" y="137.80" width="3.0" height="8.35" fill="#cfcfd2"/>
<rect x="90.02" y="137.80" width="3.0" height="8.35" fill="#cfcfd2"/>
<rect x="93.44" y="137.80" width="3.0" height="8.35" fill="#cfcfd2"/>
<rect x="96.87" y="137.80" width="3.0" height="8.35" fill="#cfcfd2"/>
<rect x="100.29" y="137.80" width="3.0" height="8.35" fill="#cfcfd2"/>
<rect x="103.71" y="137.80" width="3.0" height="8.35" fill="#cfcfd2"/>
<rect x="107.14" y="137.80" width="3.0" height="8.35" fill="#cfcfd2"/>
<rect x="110.56" y="137.80" width="3.0" height="8.35" fill="#cfcfd2"/>
<rect x="113.98" y="137.80" width="3.0" height="8.35" fill="#cfcfd2"/>
<rect x="117.41" y="137.80" width="3.0" height="8.35" fill="#cfcfd2"/>
<rect x="120.83" y="137.80" width="3.0" height="8.35" fill="#cfcfd2"/>
<rect x="124.25" y="137.80" width="3.0" height="8.35" fill="#cfcfd2"/>
<rect x="127.67" y="137.80" width="3.0" height="8.35" fill="#cfcfd2"/>
<rect x="131.10" y="137.80" width="3.0" height="8.35" fill="#cfcfd2"/>
<rect x="134.52" y="137.80" width="3.0" height="8.35" fill="#cfcfd2"/>
<rect x="137.94" y="137.80" width="3.0" height="8.35" fill="#cfcfd2"/>
<rect x="141.36" y="137.80" width="3.0" height="8.35" fill="#cfcfd2"/>
<rect x="144.78" y="137.80" width="3.0" height="8.35" fill="#cfcfd2"/>
<rect x="148.20" y="137.80" width="3.0" height="8.35" fill="#cfcfd2"/>
<rect x="151.62" y="137.80" width="3.0" height="8.35" fill="#cfcfd2"/>
<rect x="155.04" y="137.80" width="3.0" height="8.35" fill="#cfcfd2"/>
<rect x="158.46" y="137.80" width="3.0" height="8.35" fill="#cfcfd2"/>
<rect x="161.88" y="137.80" width="3.0" height="8.35" fill="#cfcfd2"/>
<rect x="165.30" y="137.80" width="3.0" height="8.35" fill="#cfcfd2"/>
<rect x="168.72" y="137.80" width="3.0" height="8.35" fill="#cfcfd2"/>
<rect x="172.13" y="137.80" width="3.0" height="8.35" fill="#cfcfd2"/>
<rect x="175.55" y="137.80" width="3.0" height="8.35" fill="#cfcfd2"/>
<rect x="178.97" y="137.80" width="3.0" height="8.35" fill="#cfcfd2"/>
<rect x="182.38" y="137.80" width="3.0" height="8.35" fill="#cfcfd2"/>
<rect x="185.80" y="137.80" width="3.0" height="8.35" fill="#cfcfd2"/>
<rect x="189.22" y="137.80" width="3.0" height="8.35" fill="#31a834"/>
<rect x="192.63" y="137.80" width="3.0" height="8.35" fill="#cfcfd2"/>
<rect x="196.05" y="137.80" width="3.0" height="8.35" fill="#cfcfd2"/>
<rect x="199.46" y="137.80" width="3.0" height="8.35" fill="#cfcfd2"/>
<rect x="202.87" y="137.80" width="3.0" height="8.35" fill="#cfcfd2"/>
<rect x="206.29" y="137.80" width="3.0" height="8.35" fill="#cfcfd2"/>
<rect x="209.70" y="137.80" width="3.0" height="8.35" fill="#cfcfd2"/>
<rect x="213.11" y="137.80" width="3.0" height="8.35" fill="#cfcfd2"/>
<rect x="216.53" y="137.80" width="3.0" height="8.35" fill="#cfcfd2"/>
<rect x="219.94" y="137.80" width="3.0" height="8.35" fill="#cfcfd2"/>
<rect x="223.35" y="137.80" width="3.0" height="8.35" fill="#cfcfd2"/>
<rect x="226.76" y="137.80" width="3.0" height="8.35" fill="#cfcfd2"/>
<rect x="230.17" y="137.80" width="3.0" height="8.35" fill="#cfcfd2"/>
<rect x="233.58" y="137.80" width="3.0" height="8.35" fill="#cfcfd2"/>
<rect x="236.99" y="137.80" width="3.0" height="8.35" fill="#cfcfd2"/>
<rect x="240.40" y="137.80" width="3.0" height="8.35" fill="#cfcfd2"/>
<rect x="243.80" y="137.80" width="3.0" height="8.35" fill="#cfcfd2"/>
<rect x="247.21" y="137.80" width="3.0" height="8.35" fill="#cfcfd2"/>
<rect x="250.62" y="137.80" width="3.0" height="8.35" fill="#cfcfd2"/>
<rect x="254.02" y="137.80" width="3.0" height="8.35" fill="#cfcfd2"/>
<rect x="257.43" y="137.80" width="3.0" height="8.35" fill="#cfcfd2"/>
<rect x="260.83" y="137.80" width="3.0" height="8.35" fill="#cfcfd2"/>
<rect x="264.24" y="137.80" width="3.0" height="8.35" fill="#cfcfd2"/>
<rect x="267.64" y="137.80" width="3.0" height="8.35" fill="#cfcfd2"/>
<rect x="271.05" y="137.80" width="3.0" height="8.35" fill="#cfcfd2"/>
<rect x="274.45" y="137.80" width="3.0" height="8.35" fill="#cfcfd2"/>
<rect x="277.85" y="137.80" width="3.0" height="8.35" fill="#cfcfd2"/>
<rect x="281.26" y="137.80" width="3.0" height="8.35" fill="#cfcfd2"/>
<rect x="284.66" y="137.80" width="3.0" height="8.35" fill="#cfcfd2"/>
<rect x="288.06" y="137.80" width="3.0" height="8.35" fill="#cfcfd2"/>
<rect x="291.46" y="137.80" width="3.0" height="8.35" fill="#cfcfd2"/>
<rect x="294.86" y="137.80" width="3.0" height="8.35" fill="#cfcfd2"/>
<rect x="298.26" y="137.80" width="3.0" height="8.35" fill="#cfcfd2"/>
<rect x="301.66" y="137.80" width="3.0" height="8.35" fill="#cfcfd2"/>
<rect x="305.06" y="137.80" width="3.0" height="8.35" fill="#31a834"/>
<rect x="308.45" y="137.80" width="3.0" height="8.35" fill="#cfcfd2"/>
<rect x="311.85" y="137.80" width="3.0" height="8.35" fill="#cfcfd2"/>
<rect x="315.25" y="137.80" width="3.0" height="8.35" fill="#cfcfd2"/>
<rect x="318.65" y="137.80" width="3.0" height="8.35" fill="#cfcfd2"/>
<rect x="322.04" y="137.80" width="3.0" height="8.35" fill="#cfcfd2"/>
<rect x="325.44" y="137.80" width="3.0" height="8.35" fill="#cfcfd2"/>
<rect x="328.83" y="137.80" width="3.0" height="8.35" fill="#cfcfd2"/>
<rect x="332.23" y="137.80" width="3.0" height="8.35" fill="#cfcfd2"/>
<rect x="335.62" y="137.80" width="3.0" height="8.35" fill="#cfcfd2"/>
<rect x="339.01" y="137.80" width="3.0" height="8.35" fill="#cfcfd2"/>
<rect x="342.41" y="137.80" width="3.0" height="8.35" fill="#cfcfd2"/>
<rect x="345.80" y="137.80" width="3.0" height="8.35" fill="#cfcfd2"/>
<rect x="349.19" y="137.80" width="3.0" height="8.35" fill="#cfcfd2"/>
<rect x="352.58" y="137.80" width="3.0" height="8.35" fill="#cfcfd2"/>
<rect x="355.98" y="137.80" width="3.0" height="8.35" fill="#cfcfd2"/>
<rect x="359.37" y="137.80" width="3.0" height="8.35" fill="#cfcfd2"/>
<rect x="362.76" y="137.80" width="3.0" height="8.35" fill="#cfcfd2"/>
<rect x="366.15" y="137.80" width="3.0" height="8.35" fill="#cfcfd2"/>
<rect x="369.54" y="137.80" width="3.0" height="8.35" fill="#31a834"/>
<rect x="372.93" y="137.80" width="3.0" height="8.35" fill="#cfcfd2"/>
<rect x="376.32" y="137.80" width="3.0" height="8.35" fill="#cfcfd2"/>
<rect x="379.70" y="137.80" width="3.0" height="8.35" fill="#cfcfd2"/>
<rect x="383.09" y="137.80" width="3.0" height="8.35" fill="#f8bb08"/>
<rect x="386.48" y="137.80" width="3.0" height="8.35" fill="#cfcfd2"/>
<rect x="389.87" y="137.80" width="3.0" height="8.35" fill="#cfcfd2"/>
<rect x="393.26" y="137.80" width="3.0" height="8.35" fill="#cfcfd2"/>
<rect x="396.64" y="137.80" width="3.0" height="8.35" fill="#cfcfd2"/>
<rect x="400.03" y="137.80" width="3.0" height="8.35" fill="#cfcfd2"/>
<rect x="403.42" y="137.80" width="3.0" height="8.35" fill="#cfcfd2"/>
<rect x="406.80" y="137.80" width="3.0" height="8.35" fill="#cfcfd2"/>
<rect x="410.19" y="137.80" width="3.0" height="8.35" fill="#cfcfd2"/>
<rect x="413.57" y="137.80" width="3.0" height="8.35" fill="#cfcfd2"/>
<rect x="416.96" y="137.80" width="3.0" height="8.35" fill="#cfcfd2"/>
<rect x="420.34" y="137.80" width="3.0" height="8.35" fill="#cfcfd2"/>
<rect x="423.73" y="137.80" width="3.0" height="8.35" fill="#cfcfd2"/>
<rect x="427.11" y="137.80" width="3.0" height="8.35" fill="#cfcfd2"/>
<rect x="430.50" y="137.80" width="3.0" height="8.35" fill="#31a834"/>
<rect x="433.88" y="137.80" width="3.0" height="8.35" fill="#cfcfd2"/>
<rect x="437.27" y="137.80" width="3.0" height="8.35" fill="#cfcfd2"/>
<rect x="440.65" y="137.80" width="3.0" height="8.35" fill="#cfcfd2"/>
<rect x="444.04" y="137.80" width="3.0" height="8.35" fill="#cfcfd2"/>
<rect x="447.42" y="137.80" width="3.0" height="8.35" fill="#cfcfd2"/>
<rect x="450.80" y="137.80" width="3.0" height="8.35" fill="#31a834"/>
<rect x="454.19" y="137.80" width="3.0" height="8.35" fill="#c80c24"/>
<rect x="457.57" y="137.80" width="3.0" height="8.35" fill="#f8bb08"/>
<rect x="460.95" y="137.80" width="3.0" height="8.35" fill="#31a834"/>
<rect x="464.34" y="137.80" width="3.0" height="8.35" fill="#31a834"/>
<rect x="467.72" y="137.80" width="3.0" height="8.35" fill="#31a834"/>
<rect x="471.10" y="137.80" width="3.0" height="8.35" fill="#cfcfd2"/>
<rect x="474.49" y="137.80" width="3.0" height="8.35" fill="#cfcfd2"/>
<text x="54.3" y="145.10" text-anchor="end" font-size="9.2" font-style="italic" fill="#1a1a1a">TP53</text>
<text x="482" y="145.00" font-size="9.2" fill="#1a1a1a">8%</text>
<rect x="59.20" y="147.00" width="3.0" height="8.35" fill="#cfcfd2"/>
<rect x="62.62" y="147.00" width="3.0" height="8.35" fill="#cfcfd2"/>
<rect x="66.05" y="147.00" width="3.0" height="8.35" fill="#cfcfd2"/>
<rect x="69.47" y="147.00" width="3.0" height="8.35" fill="#cfcfd2"/>
<rect x="72.90" y="147.00" width="3.0" height="8.35" fill="#cfcfd2"/>
<rect x="76.32" y="147.00" width="3.0" height="8.35" fill="#cfcfd2"/>
<rect x="79.75" y="147.00" width="3.0" height="8.35" fill="#cfcfd2"/>
<rect x="83.17" y="147.00" width="3.0" height="8.35" fill="#cfcfd2"/>
<rect x="86.60" y="147.00" width="3.0" height="8.35" fill="#cfcfd2"/>
<rect x="90.02" y="147.00" width="3.0" height="8.35" fill="#cfcfd2"/>
<rect x="93.44" y="147.00" width="3.0" height="8.35" fill="#cfcfd2"/>
<rect x="96.87" y="147.00" width="3.0" height="8.35" fill="#cfcfd2"/>
<rect x="100.29" y="147.00" width="3.0" height="8.35" fill="#cfcfd2"/>
<rect x="103.71" y="147.00" width="3.0" height="8.35" fill="#cfcfd2"/>
<rect x="107.14" y="147.00" width="3.0" height="8.35" fill="#cfcfd2"/>
<rect x="110.56" y="147.00" width="3.0" height="8.35" fill="#cfcfd2"/>
<rect x="113.98" y="147.00" width="3.0" height="8.35" fill="#cfcfd2"/>
<rect x="117.41" y="147.00" width="3.0" height="8.35" fill="#cfcfd2"/>
<rect x="120.83" y="147.00" width="3.0" height="8.35" fill="#cfcfd2"/>
<rect x="124.25" y="147.00" width="3.0" height="8.35" fill="#cfcfd2"/>
<rect x="127.67" y="147.00" width="3.0" height="8.35" fill="#cfcfd2"/>
<rect x="131.10" y="147.00" width="3.0" height="8.35" fill="#cfcfd2"/>
<rect x="134.52" y="147.00" width="3.0" height="8.35" fill="#cfcfd2"/>
<rect x="137.94" y="147.00" width="3.0" height="8.35" fill="#cfcfd2"/>
<rect x="141.36" y="147.00" width="3.0" height="8.35" fill="#cfcfd2"/>
<rect x="144.78" y="147.00" width="3.0" height="8.35" fill="#cfcfd2"/>
<rect x="148.20" y="147.00" width="3.0" height="8.35" fill="#cfcfd2"/>
<rect x="151.62" y="147.00" width="3.0" height="8.35" fill="#cfcfd2"/>
<rect x="155.04" y="147.00" width="3.0" height="8.35" fill="#cfcfd2"/>
<rect x="158.46" y="147.00" width="3.0" height="8.35" fill="#cfcfd2"/>
<rect x="161.88" y="147.00" width="3.0" height="8.35" fill="#cfcfd2"/>
<rect x="165.30" y="147.00" width="3.0" height="8.35" fill="#cfcfd2"/>
<rect x="168.72" y="147.00" width="3.0" height="8.35" fill="#cfcfd2"/>
<rect x="172.13" y="147.00" width="3.0" height="8.35" fill="#cfcfd2"/>
<rect x="175.55" y="147.00" width="3.0" height="8.35" fill="#cfcfd2"/>
<rect x="178.97" y="147.00" width="3.0" height="8.35" fill="#cfcfd2"/>
<rect x="182.38" y="147.00" width="3.0" height="8.35" fill="#cfcfd2"/>
<rect x="185.80" y="147.00" width="3.0" height="8.35" fill="#cfcfd2"/>
<rect x="189.22" y="147.00" width="3.0" height="8.35" fill="#31a834"/>
<rect x="192.63" y="147.00" width="3.0" height="8.35" fill="#31a834"/>
<rect x="196.05" y="147.00" width="3.0" height="8.35" fill="#31a834"/>
<rect x="199.46" y="147.00" width="3.0" height="8.35" fill="#f8bb08"/>
<rect x="202.87" y="147.00" width="3.0" height="8.35" fill="#31a834"/>
<rect x="206.29" y="147.00" width="3.0" height="8.35" fill="#f8bb08"/>
<rect x="209.70" y="147.00" width="3.0" height="8.35" fill="#cfcfd2"/>
<rect x="213.11" y="147.00" width="3.0" height="8.35" fill="#cfcfd2"/>
<rect x="216.53" y="147.00" width="3.0" height="8.35" fill="#cfcfd2"/>
<rect x="219.94" y="147.00" width="3.0" height="8.35" fill="#cfcfd2"/>
<rect x="223.35" y="147.00" width="3.0" height="8.35" fill="#cfcfd2"/>
<rect x="226.76" y="147.00" width="3.0" height="8.35" fill="#cfcfd2"/>
<rect x="230.17" y="147.00" width="3.0" height="8.35" fill="#cfcfd2"/>
<rect x="233.58" y="147.00" width="3.0" height="8.35" fill="#cfcfd2"/>
<rect x="236.99" y="147.00" width="3.0" height="8.35" fill="#cfcfd2"/>
<rect x="240.40" y="147.00" width="3.0" height="8.35" fill="#cfcfd2"/>
<rect x="243.80" y="147.00" width="3.0" height="8.35" fill="#cfcfd2"/>
<rect x="247.21" y="147.00" width="3.0" height="8.35" fill="#cfcfd2"/>
<rect x="250.62" y="147.00" width="3.0" height="8.35" fill="#cfcfd2"/>
<rect x="254.02" y="147.00" width="3.0" height="8.35" fill="#cfcfd2"/>
<rect x="257.43" y="147.00" width="3.0" height="8.35" fill="#cfcfd2"/>
<rect x="260.83" y="147.00" width="3.0" height="8.35" fill="#cfcfd2"/>
<rect x="264.24" y="147.00" width="3.0" height="8.35" fill="#cfcfd2"/>
<rect x="267.64" y="147.00" width="3.0" height="8.35" fill="#cfcfd2"/>
<rect x="271.05" y="147.00" width="3.0" height="8.35" fill="#cfcfd2"/>
<rect x="274.45" y="147.00" width="3.0" height="8.35" fill="#cfcfd2"/>
<rect x="277.85" y="147.00" width="3.0" height="8.35" fill="#cfcfd2"/>
<rect x="281.26" y="147.00" width="3.0" height="8.35" fill="#cfcfd2"/>
<rect x="284.66" y="147.00" width="3.0" height="8.35" fill="#cfcfd2"/>
<rect x="288.06" y="147.00" width="3.0" height="8.35" fill="#cfcfd2"/>
<rect x="291.46" y="147.00" width="3.0" height="8.35" fill="#cfcfd2"/>
<rect x="294.86" y="147.00" width="3.0" height="8.35" fill="#cfcfd2"/>
<rect x="298.26" y="147.00" width="3.0" height="8.35" fill="#cfcfd2"/>
<rect x="301.66" y="147.00" width="3.0" height="8.35" fill="#cfcfd2"/>
<rect x="305.06" y="147.00" width="3.0" height="8.35" fill="#cfcfd2"/>
<rect x="308.45" y="147.00" width="3.0" height="8.35" fill="#31a834"/>
<rect x="311.85" y="147.00" width="3.0" height="8.35" fill="#cfcfd2"/>
<rect x="315.25" y="147.00" width="3.0" height="8.35" fill="#cfcfd2"/>
<rect x="318.65" y="147.00" width="3.0" height="8.35" fill="#cfcfd2"/>
<rect x="322.04" y="147.00" width="3.0" height="8.35" fill="#cfcfd2"/>
<rect x="325.44" y="147.00" width="3.0" height="8.35" fill="#cfcfd2"/>
<rect x="328.83" y="147.00" width="3.0" height="8.35" fill="#cfcfd2"/>
<rect x="332.23" y="147.00" width="3.0" height="8.35" fill="#cfcfd2"/>
<rect x="335.62" y="147.00" width="3.0" height="8.35" fill="#cfcfd2"/>
<rect x="339.01" y="147.00" width="3.0" height="8.35" fill="#cfcfd2"/>
<rect x="342.41" y="147.00" width="3.0" height="8.35" fill="#cfcfd2"/>
<rect x="345.80" y="147.00" width="3.0" height="8.35" fill="#cfcfd2"/>
<rect x="349.19" y="147.00" width="3.0" height="8.35" fill="#cfcfd2"/>
<rect x="352.58" y="147.00" width="3.0" height="8.35" fill="#cfcfd2"/>
<rect x="355.98" y="147.00" width="3.0" height="8.35" fill="#cfcfd2"/>
<rect x="359.37" y="147.00" width="3.0" height="8.35" fill="#cfcfd2"/>
<rect x="362.76" y="147.00" width="3.0" height="8.35" fill="#cfcfd2"/>
<rect x="366.15" y="147.00" width="3.0" height="8.35" fill="#cfcfd2"/>
<rect x="369.54" y="147.00" width="3.0" height="8.35" fill="#cfcfd2"/>
<rect x="372.93" y="147.00" width="3.0" height="8.35" fill="#cfcfd2"/>
<rect x="376.32" y="147.00" width="3.0" height="8.35" fill="#cfcfd2"/>
<rect x="379.70" y="147.00" width="3.0" height="8.35" fill="#cfcfd2"/>
<rect x="383.09" y="147.00" width="3.0" height="8.35" fill="#cfcfd2"/>
<rect x="386.48" y="147.00" width="3.0" height="8.35" fill="#cfcfd2"/>
<rect x="389.87" y="147.00" width="3.0" height="8.35" fill="#cfcfd2"/>
<rect x="393.26" y="147.00" width="3.0" height="8.35" fill="#cfcfd2"/>
<rect x="396.64" y="147.00" width="3.0" height="8.35" fill="#cfcfd2"/>
<rect x="400.03" y="147.00" width="3.0" height="8.35" fill="#cfcfd2"/>
<rect x="403.42" y="147.00" width="3.0" height="8.35" fill="#cfcfd2"/>
<rect x="406.80" y="147.00" width="3.0" height="8.35" fill="#cfcfd2"/>
<rect x="410.19" y="147.00" width="3.0" height="8.35" fill="#cfcfd2"/>
<rect x="413.57" y="147.00" width="3.0" height="8.35" fill="#cfcfd2"/>
<rect x="416.96" y="147.00" width="3.0" height="8.35" fill="#cfcfd2"/>
<rect x="420.34" y="147.00" width="3.0" height="8.35" fill="#31a834"/>
<rect x="423.73" y="147.00" width="3.0" height="8.35" fill="#cfcfd2"/>
<rect x="427.11" y="147.00" width="3.0" height="8.35" fill="#cfcfd2"/>
<rect x="430.50" y="147.00" width="3.0" height="8.35" fill="#cfcfd2"/>
<rect x="433.88" y="147.00" width="3.0" height="8.35" fill="#cfcfd2"/>
<rect x="437.27" y="147.00" width="3.0" height="8.35" fill="#cfcfd2"/>
<rect x="440.65" y="147.00" width="3.0" height="8.35" fill="#cfcfd2"/>
<rect x="444.04" y="147.00" width="3.0" height="8.35" fill="#cfcfd2"/>
<rect x="447.42" y="147.00" width="3.0" height="8.35" fill="#cfcfd2"/>
<rect x="450.80" y="147.00" width="3.0" height="8.35" fill="#cfcfd2"/>
<rect x="454.19" y="147.00" width="3.0" height="8.35" fill="#cfcfd2"/>
<rect x="457.57" y="147.00" width="3.0" height="8.35" fill="#cfcfd2"/>
<rect x="460.95" y="147.00" width="3.0" height="8.35" fill="#cfcfd2"/>
<rect x="464.34" y="147.00" width="3.0" height="8.35" fill="#cfcfd2"/>
<rect x="467.72" y="147.00" width="3.0" height="8.35" fill="#cfcfd2"/>
<rect x="471.10" y="147.00" width="3.0" height="8.35" fill="#31a834"/>
<rect x="474.49" y="147.00" width="3.0" height="8.35" fill="#cfcfd2"/>
<text x="54.3" y="154.30" text-anchor="end" font-size="9.2" font-style="italic" fill="#1a1a1a">IDH1</text>
<text x="482" y="154.20" font-size="9.2" fill="#1a1a1a">7%</text>
<rect x="59.20" y="156.20" width="3.0" height="8.35" fill="#cfcfd2"/>
<rect x="62.62" y="156.20" width="3.0" height="8.35" fill="#cfcfd2"/>
<rect x="66.05" y="156.20" width="3.0" height="8.35" fill="#cfcfd2"/>
<rect x="69.47" y="156.20" width="3.0" height="8.35" fill="#cfcfd2"/>
<rect x="72.90" y="156.20" width="3.0" height="8.35" fill="#cfcfd2"/>
<rect x="76.32" y="156.20" width="3.0" height="8.35" fill="#cfcfd2"/>
<rect x="79.75" y="156.20" width="3.0" height="8.35" fill="#cfcfd2"/>
<rect x="83.17" y="156.20" width="3.0" height="8.35" fill="#cfcfd2"/>
<rect x="86.60" y="156.20" width="3.0" height="8.35" fill="#cfcfd2"/>
<rect x="90.02" y="156.20" width="3.0" height="8.35" fill="#cfcfd2"/>
<rect x="93.44" y="156.20" width="3.0" height="8.35" fill="#cfcfd2"/>
<rect x="96.87" y="156.20" width="3.0" height="8.35" fill="#cfcfd2"/>
<rect x="100.29" y="156.20" width="3.0" height="8.35" fill="#cfcfd2"/>
<rect x="103.71" y="156.20" width="3.0" height="8.35" fill="#cfcfd2"/>
<rect x="107.14" y="156.20" width="3.0" height="8.35" fill="#cfcfd2"/>
<rect x="110.56" y="156.20" width="3.0" height="8.35" fill="#cfcfd2"/>
<rect x="113.98" y="156.20" width="3.0" height="8.35" fill="#cfcfd2"/>
<rect x="117.41" y="156.20" width="3.0" height="8.35" fill="#cfcfd2"/>
<rect x="120.83" y="156.20" width="3.0" height="8.35" fill="#cfcfd2"/>
<rect x="124.25" y="156.20" width="3.0" height="8.35" fill="#cfcfd2"/>
<rect x="127.67" y="156.20" width="3.0" height="8.35" fill="#cfcfd2"/>
<rect x="131.10" y="156.20" width="3.0" height="8.35" fill="#cfcfd2"/>
<rect x="134.52" y="156.20" width="3.0" height="8.35" fill="#cfcfd2"/>
<rect x="137.94" y="156.20" width="3.0" height="8.35" fill="#cfcfd2"/>
<rect x="141.36" y="156.20" width="3.0" height="8.35" fill="#cfcfd2"/>
<rect x="144.78" y="156.20" width="3.0" height="8.35" fill="#cfcfd2"/>
<rect x="148.20" y="156.20" width="3.0" height="8.35" fill="#cfcfd2"/>
<rect x="151.62" y="156.20" width="3.0" height="8.35" fill="#cfcfd2"/>
<rect x="155.04" y="156.20" width="3.0" height="8.35" fill="#cfcfd2"/>
<rect x="158.46" y="156.20" width="3.0" height="8.35" fill="#cfcfd2"/>
<rect x="161.88" y="156.20" width="3.0" height="8.35" fill="#cfcfd2"/>
<rect x="165.30" y="156.20" width="3.0" height="8.35" fill="#cfcfd2"/>
<rect x="168.72" y="156.20" width="3.0" height="8.35" fill="#cfcfd2"/>
<rect x="172.13" y="156.20" width="3.0" height="8.35" fill="#cfcfd2"/>
<rect x="175.55" y="156.20" width="3.0" height="8.35" fill="#cfcfd2"/>
<rect x="178.97" y="156.20" width="3.0" height="8.35" fill="#cfcfd2"/>
<rect x="182.38" y="156.20" width="3.0" height="8.35" fill="#cfcfd2"/>
<rect x="185.80" y="156.20" width="3.0" height="8.35" fill="#c80c24"/>
<rect x="189.22" y="156.20" width="3.0" height="8.35" fill="#cfcfd2"/>
<rect x="192.63" y="156.20" width="3.0" height="8.35" fill="#cfcfd2"/>
<rect x="196.05" y="156.20" width="3.0" height="8.35" fill="#cfcfd2"/>
<rect x="199.46" y="156.20" width="3.0" height="8.35" fill="#cfcfd2"/>
<rect x="202.87" y="156.20" width="3.0" height="8.35" fill="#cfcfd2"/>
<rect x="206.29" y="156.20" width="3.0" height="8.35" fill="#cfcfd2"/>
<rect x="209.70" y="156.20" width="3.0" height="8.35" fill="#cfcfd2"/>
<rect x="213.11" y="156.20" width="3.0" height="8.35" fill="#cfcfd2"/>
<rect x="216.53" y="156.20" width="3.0" height="8.35" fill="#cfcfd2"/>
<rect x="219.94" y="156.20" width="3.0" height="8.35" fill="#cfcfd2"/>
<rect x="223.35" y="156.20" width="3.0" height="8.35" fill="#c80c24"/>
<rect x="226.76" y="156.20" width="3.0" height="8.35" fill="#cfcfd2"/>
<rect x="230.17" y="156.20" width="3.0" height="8.35" fill="#cfcfd2"/>
<rect x="233.58" y="156.20" width="3.0" height="8.35" fill="#cfcfd2"/>
<rect x="236.99" y="156.20" width="3.0" height="8.35" fill="#cfcfd2"/>
<rect x="240.40" y="156.20" width="3.0" height="8.35" fill="#cfcfd2"/>
<rect x="243.80" y="156.20" width="3.0" height="8.35" fill="#cfcfd2"/>
<rect x="247.21" y="156.20" width="3.0" height="8.35" fill="#cfcfd2"/>
<rect x="250.62" y="156.20" width="3.0" height="8.35" fill="#cfcfd2"/>
<rect x="254.02" y="156.20" width="3.0" height="8.35" fill="#cfcfd2"/>
<rect x="257.43" y="156.20" width="3.0" height="8.35" fill="#cfcfd2"/>
<rect x="260.83" y="156.20" width="3.0" height="8.35" fill="#cfcfd2"/>
<rect x="264.24" y="156.20" width="3.0" height="8.35" fill="#cfcfd2"/>
<rect x="267.64" y="156.20" width="3.0" height="8.35" fill="#cfcfd2"/>
<rect x="271.05" y="156.20" width="3.0" height="8.35" fill="#cfcfd2"/>
<rect x="274.45" y="156.20" width="3.0" height="8.35" fill="#cfcfd2"/>
<rect x="277.85" y="156.20" width="3.0" height="8.35" fill="#cfcfd2"/>
<rect x="281.26" y="156.20" width="3.0" height="8.35" fill="#cfcfd2"/>
<rect x="284.66" y="156.20" width="3.0" height="8.35" fill="#cfcfd2"/>
<rect x="288.06" y="156.20" width="3.0" height="8.35" fill="#cfcfd2"/>
<rect x="291.46" y="156.20" width="3.0" height="8.35" fill="#cfcfd2"/>
<rect x="294.86" y="156.20" width="3.0" height="8.35" fill="#cfcfd2"/>
<rect x="298.26" y="156.20" width="3.0" height="8.35" fill="#cfcfd2"/>
<rect x="301.66" y="156.20" width="3.0" height="8.35" fill="#cfcfd2"/>
<rect x="305.06" y="156.20" width="3.0" height="8.35" fill="#cfcfd2"/>
<rect x="308.45" y="156.20" width="3.0" height="8.35" fill="#cfcfd2"/>
<rect x="311.85" y="156.20" width="3.0" height="8.35" fill="#31a834"/>
<rect x="315.25" y="156.20" width="3.0" height="8.35" fill="#cfcfd2"/>
<rect x="318.65" y="156.20" width="3.0" height="8.35" fill="#cfcfd2"/>
<rect x="322.04" y="156.20" width="3.0" height="8.35" fill="#cfcfd2"/>
<rect x="325.44" y="156.20" width="3.0" height="8.35" fill="#cfcfd2"/>
<rect x="328.83" y="156.20" width="3.0" height="8.35" fill="#cfcfd2"/>
<rect x="332.23" y="156.20" width="3.0" height="8.35" fill="#cfcfd2"/>
<rect x="335.62" y="156.20" width="3.0" height="8.35" fill="#cfcfd2"/>
<rect x="339.01" y="156.20" width="3.0" height="8.35" fill="#cfcfd2"/>
<rect x="342.41" y="156.20" width="3.0" height="8.35" fill="#cfcfd2"/>
<rect x="345.80" y="156.20" width="3.0" height="8.35" fill="#cfcfd2"/>
<rect x="349.19" y="156.20" width="3.0" height="8.35" fill="#cfcfd2"/>
<rect x="352.58" y="156.20" width="3.0" height="8.35" fill="#cfcfd2"/>
<rect x="355.98" y="156.20" width="3.0" height="8.35" fill="#cfcfd2"/>
<rect x="359.37" y="156.20" width="3.0" height="8.35" fill="#c80c24"/>
<rect x="362.76" y="156.20" width="3.0" height="8.35" fill="#cfcfd2"/>
<rect x="366.15" y="156.20" width="3.0" height="8.35" fill="#cfcfd2"/>
<rect x="369.54" y="156.20" width="3.0" height="8.35" fill="#cfcfd2"/>
<rect x="372.93" y="156.20" width="3.0" height="8.35" fill="#cfcfd2"/>
<rect x="376.32" y="156.20" width="3.0" height="8.35" fill="#cfcfd2"/>
<rect x="379.70" y="156.20" width="3.0" height="8.35" fill="#cfcfd2"/>
<rect x="383.09" y="156.20" width="3.0" height="8.35" fill="#cfcfd2"/>
<rect x="386.48" y="156.20" width="3.0" height="8.35" fill="#cfcfd2"/>
<rect x="389.87" y="156.20" width="3.0" height="8.35" fill="#cfcfd2"/>
<rect x="393.26" y="156.20" width="3.0" height="8.35" fill="#cfcfd2"/>
<rect x="396.64" y="156.20" width="3.0" height="8.35" fill="#cfcfd2"/>
<rect x="400.03" y="156.20" width="3.0" height="8.35" fill="#cfcfd2"/>
<rect x="403.42" y="156.20" width="3.0" height="8.35" fill="#cfcfd2"/>
<rect x="406.80" y="156.20" width="3.0" height="8.35" fill="#cfcfd2"/>
<rect x="410.19" y="156.20" width="3.0" height="8.35" fill="#cfcfd2"/>
<rect x="413.57" y="156.20" width="3.0" height="8.35" fill="#cfcfd2"/>
<rect x="416.96" y="156.20" width="3.0" height="8.35" fill="#cfcfd2"/>
<rect x="420.34" y="156.20" width="3.0" height="8.35" fill="#cfcfd2"/>
<rect x="423.73" y="156.20" width="3.0" height="8.35" fill="#cfcfd2"/>
<rect x="427.11" y="156.20" width="3.0" height="8.35" fill="#cfcfd2"/>
<rect x="430.50" y="156.20" width="3.0" height="8.35" fill="#cfcfd2"/>
<rect x="433.88" y="156.20" width="3.0" height="8.35" fill="#31a834"/>
<rect x="437.27" y="156.20" width="3.0" height="8.35" fill="#cfcfd2"/>
<rect x="440.65" y="156.20" width="3.0" height="8.35" fill="#cfcfd2"/>
<rect x="444.04" y="156.20" width="3.0" height="8.35" fill="#cfcfd2"/>
<rect x="447.42" y="156.20" width="3.0" height="8.35" fill="#cfcfd2"/>
<rect x="450.80" y="156.20" width="3.0" height="8.35" fill="#cfcfd2"/>
<rect x="454.19" y="156.20" width="3.0" height="8.35" fill="#cfcfd2"/>
<rect x="457.57" y="156.20" width="3.0" height="8.35" fill="#cfcfd2"/>
<rect x="460.95" y="156.20" width="3.0" height="8.35" fill="#cfcfd2"/>
<rect x="464.34" y="156.20" width="3.0" height="8.35" fill="#cfcfd2"/>
<rect x="467.72" y="156.20" width="3.0" height="8.35" fill="#cfcfd2"/>
<rect x="471.10" y="156.20" width="3.0" height="8.35" fill="#cfcfd2"/>
<rect x="474.49" y="156.20" width="3.0" height="8.35" fill="#c80c24"/>
<text x="54.3" y="163.50" text-anchor="end" font-size="9.2" font-style="italic" fill="#1a1a1a">RUNX1</text>
<text x="482" y="163.40" font-size="9.2" fill="#1a1a1a">5%</text>
<rect x="59.20" y="165.40" width="3.0" height="8.35" fill="#f8bb08"/>
<rect x="62.62" y="165.40" width="3.0" height="8.35" fill="#cfcfd2"/>
<rect x="66.05" y="165.40" width="3.0" height="8.35" fill="#cfcfd2"/>
<rect x="69.47" y="165.40" width="3.0" height="8.35" fill="#cfcfd2"/>
<rect x="72.90" y="165.40" width="3.0" height="8.35" fill="#cfcfd2"/>
<rect x="76.32" y="165.40" width="3.0" height="8.35" fill="#cfcfd2"/>
<rect x="79.75" y="165.40" width="3.0" height="8.35" fill="#cfcfd2"/>
<rect x="83.17" y="165.40" width="3.0" height="8.35" fill="#cfcfd2"/>
<rect x="86.60" y="165.40" width="3.0" height="8.35" fill="#cfcfd2"/>
<rect x="90.02" y="165.40" width="3.0" height="8.35" fill="#cfcfd2"/>
<rect x="93.44" y="165.40" width="3.0" height="8.35" fill="#cfcfd2"/>
<rect x="96.87" y="165.40" width="3.0" height="8.35" fill="#cfcfd2"/>
<rect x="100.29" y="165.40" width="3.0" height="8.35" fill="#cfcfd2"/>
<rect x="103.71" y="165.40" width="3.0" height="8.35" fill="#cfcfd2"/>
<rect x="107.14" y="165.40" width="3.0" height="8.35" fill="#cfcfd2"/>
<rect x="110.56" y="165.40" width="3.0" height="8.35" fill="#cfcfd2"/>
<rect x="113.98" y="165.40" width="3.0" height="8.35" fill="#cfcfd2"/>
<rect x="117.41" y="165.40" width="3.0" height="8.35" fill="#cfcfd2"/>
<rect x="120.83" y="165.40" width="3.0" height="8.35" fill="#cfcfd2"/>
<rect x="124.25" y="165.40" width="3.0" height="8.35" fill="#cfcfd2"/>
<rect x="127.67" y="165.40" width="3.0" height="8.35" fill="#cfcfd2"/>
<rect x="131.10" y="165.40" width="3.0" height="8.35" fill="#cfcfd2"/>
<rect x="134.52" y="165.40" width="3.0" height="8.35" fill="#cfcfd2"/>
<rect x="137.94" y="165.40" width="3.0" height="8.35" fill="#cfcfd2"/>
<rect x="141.36" y="165.40" width="3.0" height="8.35" fill="#cfcfd2"/>
<rect x="144.78" y="165.40" width="3.0" height="8.35" fill="#cfcfd2"/>
<rect x="148.20" y="165.40" width="3.0" height="8.35" fill="#cfcfd2"/>
<rect x="151.62" y="165.40" width="3.0" height="8.35" fill="#cfcfd2"/>
<rect x="155.04" y="165.40" width="3.0" height="8.35" fill="#cfcfd2"/>
<rect x="158.46" y="165.40" width="3.0" height="8.35" fill="#cfcfd2"/>
<rect x="161.88" y="165.40" width="3.0" height="8.35" fill="#cfcfd2"/>
<rect x="165.30" y="165.40" width="3.0" height="8.35" fill="#cfcfd2"/>
<rect x="168.72" y="165.40" width="3.0" height="8.35" fill="#cfcfd2"/>
<rect x="172.13" y="165.40" width="3.0" height="8.35" fill="#cfcfd2"/>
<rect x="175.55" y="165.40" width="3.0" height="8.35" fill="#cfcfd2"/>
<rect x="178.97" y="165.40" width="3.0" height="8.35" fill="#cfcfd2"/>
<rect x="182.38" y="165.40" width="3.0" height="8.35" fill="#cfcfd2"/>
<rect x="185.80" y="165.40" width="3.0" height="8.35" fill="#cfcfd2"/>
<rect x="189.22" y="165.40" width="3.0" height="8.35" fill="#cfcfd2"/>
<rect x="192.63" y="165.40" width="3.0" height="8.35" fill="#cfcfd2"/>
<rect x="196.05" y="165.40" width="3.0" height="8.35" fill="#cfcfd2"/>
<rect x="199.46" y="165.40" width="3.0" height="8.35" fill="#cfcfd2"/>
<rect x="202.87" y="165.40" width="3.0" height="8.35" fill="#cfcfd2"/>
<rect x="206.29" y="165.40" width="3.0" height="8.35" fill="#cfcfd2"/>
<rect x="209.70" y="165.40" width="3.0" height="8.35" fill="#cfcfd2"/>
<rect x="213.11" y="165.40" width="3.0" height="8.35" fill="#cfcfd2"/>
<rect x="216.53" y="165.40" width="3.0" height="8.35" fill="#cfcfd2"/>
<rect x="219.94" y="165.40" width="3.0" height="8.35" fill="#cfcfd2"/>
<rect x="223.35" y="165.40" width="3.0" height="8.35" fill="#cfcfd2"/>
<rect x="226.76" y="165.40" width="3.0" height="8.35" fill="#cfcfd2"/>
<rect x="230.17" y="165.40" width="3.0" height="8.35" fill="#cfcfd2"/>
<rect x="233.58" y="165.40" width="3.0" height="8.35" fill="#cfcfd2"/>
<rect x="236.99" y="165.40" width="3.0" height="8.35" fill="#cfcfd2"/>
<rect x="240.40" y="165.40" width="3.0" height="8.35" fill="#cfcfd2"/>
<rect x="243.80" y="165.40" width="3.0" height="8.35" fill="#cfcfd2"/>
<rect x="247.21" y="165.40" width="3.0" height="8.35" fill="#cfcfd2"/>
<rect x="250.62" y="165.40" width="3.0" height="8.35" fill="#cfcfd2"/>
<rect x="254.02" y="165.40" width="3.0" height="8.35" fill="#cfcfd2"/>
<rect x="257.43" y="165.40" width="3.0" height="8.35" fill="#cfcfd2"/>
<rect x="260.83" y="165.40" width="3.0" height="8.35" fill="#cfcfd2"/>
<rect x="264.24" y="165.40" width="3.0" height="8.35" fill="#cfcfd2"/>
<rect x="267.64" y="165.40" width="3.0" height="8.35" fill="#cfcfd2"/>
<rect x="271.05" y="165.40" width="3.0" height="8.35" fill="#cfcfd2"/>
<rect x="274.45" y="165.40" width="3.0" height="8.35" fill="#cfcfd2"/>
<rect x="277.85" y="165.40" width="3.0" height="8.35" fill="#cfcfd2"/>
<rect x="281.26" y="165.40" width="3.0" height="8.35" fill="#cfcfd2"/>
<rect x="284.66" y="165.40" width="3.0" height="8.35" fill="#cfcfd2"/>
<rect x="288.06" y="165.40" width="3.0" height="8.35" fill="#cfcfd2"/>
<rect x="291.46" y="165.40" width="3.0" height="8.35" fill="#cfcfd2"/>
<rect x="294.86" y="165.40" width="3.0" height="8.35" fill="#cfcfd2"/>
<rect x="298.26" y="165.40" width="3.0" height="8.35" fill="#cfcfd2"/>
<rect x="301.66" y="165.40" width="3.0" height="8.35" fill="#cfcfd2"/>
<rect x="305.06" y="165.40" width="3.0" height="8.35" fill="#cfcfd2"/>
<rect x="308.45" y="165.40" width="3.0" height="8.35" fill="#cfcfd2"/>
<rect x="311.85" y="165.40" width="3.0" height="8.35" fill="#cfcfd2"/>
<rect x="315.25" y="165.40" width="3.0" height="8.35" fill="#c80c24"/>
<rect x="318.65" y="165.40" width="3.0" height="8.35" fill="#2ba2e0"/>
<rect x="322.04" y="165.40" width="3.0" height="8.35" fill="#cfcfd2"/>
<rect x="325.44" y="165.40" width="3.0" height="8.35" fill="#cfcfd2"/>
<rect x="328.83" y="165.40" width="3.0" height="8.35" fill="#cfcfd2"/>
<rect x="332.23" y="165.40" width="3.0" height="8.35" fill="#cfcfd2"/>
<rect x="335.62" y="165.40" width="3.0" height="8.35" fill="#cfcfd2"/>
<rect x="339.01" y="165.40" width="3.0" height="8.35" fill="#cfcfd2"/>
<rect x="342.41" y="165.40" width="3.0" height="8.35" fill="#cfcfd2"/>
<rect x="345.80" y="165.40" width="3.0" height="8.35" fill="#cfcfd2"/>
<rect x="349.19" y="165.40" width="3.0" height="8.35" fill="#cfcfd2"/>
<rect x="352.58" y="165.40" width="3.0" height="8.35" fill="#cfcfd2"/>
<rect x="355.98" y="165.40" width="3.0" height="8.35" fill="#cfcfd2"/>
<rect x="359.37" y="165.40" width="3.0" height="8.35" fill="#c80c24"/>
<rect x="362.76" y="165.40" width="3.0" height="8.35" fill="#cfcfd2"/>
<rect x="366.15" y="165.40" width="3.0" height="8.35" fill="#cfcfd2"/>
<rect x="369.54" y="165.40" width="3.0" height="8.35" fill="#cfcfd2"/>
<rect x="372.93" y="165.40" width="3.0" height="8.35" fill="#cfcfd2"/>
<rect x="376.32" y="165.40" width="3.0" height="8.35" fill="#cfcfd2"/>
<rect x="379.70" y="165.40" width="3.0" height="8.35" fill="#cfcfd2"/>
<rect x="383.09" y="165.40" width="3.0" height="8.35" fill="#cfcfd2"/>
<rect x="386.48" y="165.40" width="3.0" height="8.35" fill="#cfcfd2"/>
<rect x="389.87" y="165.40" width="3.0" height="8.35" fill="#cfcfd2"/>
<rect x="393.26" y="165.40" width="3.0" height="8.35" fill="#cfcfd2"/>
<rect x="396.64" y="165.40" width="3.0" height="8.35" fill="#cfcfd2"/>
<rect x="400.03" y="165.40" width="3.0" height="8.35" fill="#cfcfd2"/>
<rect x="403.42" y="165.40" width="3.0" height="8.35" fill="#cfcfd2"/>
<rect x="406.80" y="165.40" width="3.0" height="8.35" fill="#cfcfd2"/>
<rect x="410.19" y="165.40" width="3.0" height="8.35" fill="#cfcfd2"/>
<rect x="413.57" y="165.40" width="3.0" height="8.35" fill="#cfcfd2"/>
<rect x="416.96" y="165.40" width="3.0" height="8.35" fill="#cfcfd2"/>
<rect x="420.34" y="165.40" width="3.0" height="8.35" fill="#cfcfd2"/>
<rect x="423.73" y="165.40" width="3.0" height="8.35" fill="#cfcfd2"/>
<rect x="427.11" y="165.40" width="3.0" height="8.35" fill="#cfcfd2"/>
<rect x="430.50" y="165.40" width="3.0" height="8.35" fill="#cfcfd2"/>
<rect x="433.88" y="165.40" width="3.0" height="8.35" fill="#cfcfd2"/>
<rect x="437.27" y="165.40" width="3.0" height="8.35" fill="#cfcfd2"/>
<rect x="440.65" y="165.40" width="3.0" height="8.35" fill="#cfcfd2"/>
<rect x="444.04" y="165.40" width="3.0" height="8.35" fill="#cfcfd2"/>
<rect x="447.42" y="165.40" width="3.0" height="8.35" fill="#c80c24"/>
<rect x="450.80" y="165.40" width="3.0" height="8.35" fill="#cfcfd2"/>
<rect x="454.19" y="165.40" width="3.0" height="8.35" fill="#cfcfd2"/>
<rect x="457.57" y="165.40" width="3.0" height="8.35" fill="#cfcfd2"/>
<rect x="460.95" y="165.40" width="3.0" height="8.35" fill="#cfcfd2"/>
<rect x="464.34" y="165.40" width="3.0" height="8.35" fill="#cfcfd2"/>
<rect x="467.72" y="165.40" width="3.0" height="8.35" fill="#cfcfd2"/>
<rect x="471.10" y="165.40" width="3.0" height="8.35" fill="#cfcfd2"/>
<rect x="474.49" y="165.40" width="3.0" height="8.35" fill="#cfcfd2"/>
<text x="54.3" y="172.70" text-anchor="end" font-size="9.2" font-style="italic" fill="#1a1a1a">BCOR</text>
<text x="482" y="172.60" font-size="9.2" fill="#1a1a1a">4%</text>
<rect x="59.20" y="174.60" width="3.0" height="8.35" fill="#cfcfd2"/>
<rect x="62.62" y="174.60" width="3.0" height="8.35" fill="#cfcfd2"/>
<rect x="66.05" y="174.60" width="3.0" height="8.35" fill="#cfcfd2"/>
<rect x="69.47" y="174.60" width="3.0" height="8.35" fill="#31a834"/>
<rect x="72.90" y="174.60" width="3.0" height="8.35" fill="#cfcfd2"/>
<rect x="76.32" y="174.60" width="3.0" height="8.35" fill="#cfcfd2"/>
<rect x="79.75" y="174.60" width="3.0" height="8.35" fill="#cfcfd2"/>
<rect x="83.17" y="174.60" width="3.0" height="8.35" fill="#cfcfd2"/>
<rect x="86.60" y="174.60" width="3.0" height="8.35" fill="#cfcfd2"/>
<rect x="90.02" y="174.60" width="3.0" height="8.35" fill="#cfcfd2"/>
<rect x="93.44" y="174.60" width="3.0" height="8.35" fill="#cfcfd2"/>
<rect x="96.87" y="174.60" width="3.0" height="8.35" fill="#cfcfd2"/>
<rect x="100.29" y="174.60" width="3.0" height="8.35" fill="#cfcfd2"/>
<rect x="103.71" y="174.60" width="3.0" height="8.35" fill="#cfcfd2"/>
<rect x="107.14" y="174.60" width="3.0" height="8.35" fill="#cfcfd2"/>
<rect x="110.56" y="174.60" width="3.0" height="8.35" fill="#cfcfd2"/>
<rect x="113.98" y="174.60" width="3.0" height="8.35" fill="#cfcfd2"/>
<rect x="117.41" y="174.60" width="3.0" height="8.35" fill="#cfcfd2"/>
<rect x="120.83" y="174.60" width="3.0" height="8.35" fill="#31a834"/>
<rect x="124.25" y="174.60" width="3.0" height="8.35" fill="#cfcfd2"/>
<rect x="127.67" y="174.60" width="3.0" height="8.35" fill="#cfcfd2"/>
<rect x="131.10" y="174.60" width="3.0" height="8.35" fill="#cfcfd2"/>
<rect x="134.52" y="174.60" width="3.0" height="8.35" fill="#cfcfd2"/>
<rect x="137.94" y="174.60" width="3.0" height="8.35" fill="#cfcfd2"/>
<rect x="141.36" y="174.60" width="3.0" height="8.35" fill="#cfcfd2"/>
<rect x="144.78" y="174.60" width="3.0" height="8.35" fill="#cfcfd2"/>
<rect x="148.20" y="174.60" width="3.0" height="8.35" fill="#cfcfd2"/>
<rect x="151.62" y="174.60" width="3.0" height="8.35" fill="#cfcfd2"/>
<rect x="155.04" y="174.60" width="3.0" height="8.35" fill="#cfcfd2"/>
<rect x="158.46" y="174.60" width="3.0" height="8.35" fill="#cfcfd2"/>
<rect x="161.88" y="174.60" width="3.0" height="8.35" fill="#cfcfd2"/>
<rect x="165.30" y="174.60" width="3.0" height="8.35" fill="#cfcfd2"/>
<rect x="168.72" y="174.60" width="3.0" height="8.35" fill="#31a834"/>
<rect x="172.13" y="174.60" width="3.0" height="8.35" fill="#cfcfd2"/>
<rect x="175.55" y="174.60" width="3.0" height="8.35" fill="#cfcfd2"/>
<rect x="178.97" y="174.60" width="3.0" height="8.35" fill="#cfcfd2"/>
<rect x="182.38" y="174.60" width="3.0" height="8.35" fill="#cfcfd2"/>
<rect x="185.80" y="174.60" width="3.0" height="8.35" fill="#cfcfd2"/>
<rect x="189.22" y="174.60" width="3.0" height="8.35" fill="#cfcfd2"/>
<rect x="192.63" y="174.60" width="3.0" height="8.35" fill="#31a834"/>
<rect x="196.05" y="174.60" width="3.0" height="8.35" fill="#cfcfd2"/>
<rect x="199.46" y="174.60" width="3.0" height="8.35" fill="#cfcfd2"/>
<rect x="202.87" y="174.60" width="3.0" height="8.35" fill="#cfcfd2"/>
<rect x="206.29" y="174.60" width="3.0" height="8.35" fill="#cfcfd2"/>
<rect x="209.70" y="174.60" width="3.0" height="8.35" fill="#cfcfd2"/>
<rect x="213.11" y="174.60" width="3.0" height="8.35" fill="#cfcfd2"/>
<rect x="216.53" y="174.60" width="3.0" height="8.35" fill="#cfcfd2"/>
<rect x="219.94" y="174.60" width="3.0" height="8.35" fill="#cfcfd2"/>
<rect x="223.35" y="174.60" width="3.0" height="8.35" fill="#cfcfd2"/>
<rect x="226.76" y="174.60" width="3.0" height="8.35" fill="#cfcfd2"/>
<rect x="230.17" y="174.60" width="3.0" height="8.35" fill="#cfcfd2"/>
<rect x="233.58" y="174.60" width="3.0" height="8.35" fill="#cfcfd2"/>
<rect x="236.99" y="174.60" width="3.0" height="8.35" fill="#cfcfd2"/>
<rect x="240.40" y="174.60" width="3.0" height="8.35" fill="#cfcfd2"/>
<rect x="243.80" y="174.60" width="3.0" height="8.35" fill="#cfcfd2"/>
<rect x="247.21" y="174.60" width="3.0" height="8.35" fill="#cfcfd2"/>
<rect x="250.62" y="174.60" width="3.0" height="8.35" fill="#cfcfd2"/>
<rect x="254.02" y="174.60" width="3.0" height="8.35" fill="#cfcfd2"/>
<rect x="257.43" y="174.60" width="3.0" height="8.35" fill="#cfcfd2"/>
<rect x="260.83" y="174.60" width="3.0" height="8.35" fill="#cfcfd2"/>
<rect x="264.24" y="174.60" width="3.0" height="8.35" fill="#cfcfd2"/>
<rect x="267.64" y="174.60" width="3.0" height="8.35" fill="#cfcfd2"/>
<rect x="271.05" y="174.60" width="3.0" height="8.35" fill="#cfcfd2"/>
<rect x="274.45" y="174.60" width="3.0" height="8.35" fill="#cfcfd2"/>
<rect x="277.85" y="174.60" width="3.0" height="8.35" fill="#cfcfd2"/>
<rect x="281.26" y="174.60" width="3.0" height="8.35" fill="#cfcfd2"/>
<rect x="284.66" y="174.60" width="3.0" height="8.35" fill="#cfcfd2"/>
<rect x="288.06" y="174.60" width="3.0" height="8.35" fill="#cfcfd2"/>
<rect x="291.46" y="174.60" width="3.0" height="8.35" fill="#cfcfd2"/>
<rect x="294.86" y="174.60" width="3.0" height="8.35" fill="#cfcfd2"/>
<rect x="298.26" y="174.60" width="3.0" height="8.35" fill="#cfcfd2"/>
<rect x="301.66" y="174.60" width="3.0" height="8.35" fill="#cfcfd2"/>
<rect x="305.06" y="174.60" width="3.0" height="8.35" fill="#cfcfd2"/>
<rect x="308.45" y="174.60" width="3.0" height="8.35" fill="#cfcfd2"/>
<rect x="311.85" y="174.60" width="3.0" height="8.35" fill="#cfcfd2"/>
<rect x="315.25" y="174.60" width="3.0" height="8.35" fill="#cfcfd2"/>
<rect x="318.65" y="174.60" width="3.0" height="8.35" fill="#cfcfd2"/>
<rect x="322.04" y="174.60" width="3.0" height="8.35" fill="#cfcfd2"/>
<rect x="325.44" y="174.60" width="3.0" height="8.35" fill="#cfcfd2"/>
<rect x="328.83" y="174.60" width="3.0" height="8.35" fill="#cfcfd2"/>
<rect x="332.23" y="174.60" width="3.0" height="8.35" fill="#cfcfd2"/>
<rect x="335.62" y="174.60" width="3.0" height="8.35" fill="#cfcfd2"/>
<rect x="339.01" y="174.60" width="3.0" height="8.35" fill="#cfcfd2"/>
<rect x="342.41" y="174.60" width="3.0" height="8.35" fill="#cfcfd2"/>
<rect x="345.80" y="174.60" width="3.0" height="8.35" fill="#cfcfd2"/>
<rect x="349.19" y="174.60" width="3.0" height="8.35" fill="#cfcfd2"/>
<rect x="352.58" y="174.60" width="3.0" height="8.35" fill="#cfcfd2"/>
<rect x="355.98" y="174.60" width="3.0" height="8.35" fill="#cfcfd2"/>
<rect x="359.37" y="174.60" width="3.0" height="8.35" fill="#cfcfd2"/>
<rect x="362.76" y="174.60" width="3.0" height="8.35" fill="#cfcfd2"/>
<rect x="366.15" y="174.60" width="3.0" height="8.35" fill="#cfcfd2"/>
<rect x="369.54" y="174.60" width="3.0" height="8.35" fill="#cfcfd2"/>
<rect x="372.93" y="174.60" width="3.0" height="8.35" fill="#cfcfd2"/>
<rect x="376.32" y="174.60" width="3.0" height="8.35" fill="#cfcfd2"/>
<rect x="379.70" y="174.60" width="3.0" height="8.35" fill="#cfcfd2"/>
<rect x="383.09" y="174.60" width="3.0" height="8.35" fill="#cfcfd2"/>
<rect x="386.48" y="174.60" width="3.0" height="8.35" fill="#cfcfd2"/>
<rect x="389.87" y="174.60" width="3.0" height="8.35" fill="#cfcfd2"/>
<rect x="393.26" y="174.60" width="3.0" height="8.35" fill="#cfcfd2"/>
<rect x="396.64" y="174.60" width="3.0" height="8.35" fill="#cfcfd2"/>
<rect x="400.03" y="174.60" width="3.0" height="8.35" fill="#cfcfd2"/>
<rect x="403.42" y="174.60" width="3.0" height="8.35" fill="#cfcfd2"/>
<rect x="406.80" y="174.60" width="3.0" height="8.35" fill="#cfcfd2"/>
<rect x="410.19" y="174.60" width="3.0" height="8.35" fill="#cfcfd2"/>
<rect x="413.57" y="174.60" width="3.0" height="8.35" fill="#cfcfd2"/>
<rect x="416.96" y="174.60" width="3.0" height="8.35" fill="#cfcfd2"/>
<rect x="420.34" y="174.60" width="3.0" height="8.35" fill="#cfcfd2"/>
<rect x="423.73" y="174.60" width="3.0" height="8.35" fill="#cfcfd2"/>
<rect x="427.11" y="174.60" width="3.0" height="8.35" fill="#cfcfd2"/>
<rect x="430.50" y="174.60" width="3.0" height="8.35" fill="#cfcfd2"/>
<rect x="433.88" y="174.60" width="3.0" height="8.35" fill="#cfcfd2"/>
<rect x="437.27" y="174.60" width="3.0" height="8.35" fill="#cfcfd2"/>
<rect x="440.65" y="174.60" width="3.0" height="8.35" fill="#cfcfd2"/>
<rect x="444.04" y="174.60" width="3.0" height="8.35" fill="#cfcfd2"/>
<rect x="447.42" y="174.60" width="3.0" height="8.35" fill="#cfcfd2"/>
<rect x="450.80" y="174.60" width="3.0" height="8.35" fill="#cfcfd2"/>
<rect x="454.19" y="174.60" width="3.0" height="8.35" fill="#cfcfd2"/>
<rect x="457.57" y="174.60" width="3.0" height="8.35" fill="#cfcfd2"/>
<rect x="460.95" y="174.60" width="3.0" height="8.35" fill="#cfcfd2"/>
<rect x="464.34" y="174.60" width="3.0" height="8.35" fill="#cfcfd2"/>
<rect x="467.72" y="174.60" width="3.0" height="8.35" fill="#cfcfd2"/>
<rect x="471.10" y="174.60" width="3.0" height="8.35" fill="#cfcfd2"/>
<rect x="474.49" y="174.60" width="3.0" height="8.35" fill="#cfcfd2"/>
<text x="54.3" y="181.90" text-anchor="end" font-size="9.2" font-style="italic" fill="#1a1a1a">CBL</text>
<text x="482" y="181.80" font-size="9.2" fill="#1a1a1a">3%</text>
<rect x="59.20" y="183.80" width="3.0" height="8.35" fill="#cfcfd2"/>
<rect x="62.62" y="183.80" width="3.0" height="8.35" fill="#cfcfd2"/>
<rect x="66.05" y="183.80" width="3.0" height="8.35" fill="#cfcfd2"/>
<rect x="69.47" y="183.80" width="3.0" height="8.35" fill="#cfcfd2"/>
<rect x="72.90" y="183.80" width="3.0" height="8.35" fill="#cfcfd2"/>
<rect x="76.32" y="183.80" width="3.0" height="8.35" fill="#cfcfd2"/>
<rect x="79.75" y="183.80" width="3.0" height="8.35" fill="#cfcfd2"/>
<rect x="83.17" y="183.80" width="3.0" height="8.35" fill="#cfcfd2"/>
<rect x="86.60" y="183.80" width="3.0" height="8.35" fill="#cfcfd2"/>
<rect x="90.02" y="183.80" width="3.0" height="8.35" fill="#cfcfd2"/>
<rect x="93.44" y="183.80" width="3.0" height="8.35" fill="#cfcfd2"/>
<rect x="96.87" y="183.80" width="3.0" height="8.35" fill="#cfcfd2"/>
<rect x="100.29" y="183.80" width="3.0" height="8.35" fill="#cfcfd2"/>
<rect x="103.71" y="183.80" width="3.0" height="8.35" fill="#cfcfd2"/>
<rect x="107.14" y="183.80" width="3.0" height="8.35" fill="#cfcfd2"/>
<rect x="110.56" y="183.80" width="3.0" height="8.35" fill="#cfcfd2"/>
<rect x="113.98" y="183.80" width="3.0" height="8.35" fill="#cfcfd2"/>
<rect x="117.41" y="183.80" width="3.0" height="8.35" fill="#cfcfd2"/>
<rect x="120.83" y="183.80" width="3.0" height="8.35" fill="#cfcfd2"/>
<rect x="124.25" y="183.80" width="3.0" height="8.35" fill="#cfcfd2"/>
<rect x="127.67" y="183.80" width="3.0" height="8.35" fill="#cfcfd2"/>
<rect x="131.10" y="183.80" width="3.0" height="8.35" fill="#cfcfd2"/>
<rect x="134.52" y="183.80" width="3.0" height="8.35" fill="#cfcfd2"/>
<rect x="137.94" y="183.80" width="3.0" height="8.35" fill="#cfcfd2"/>
<rect x="141.36" y="183.80" width="3.0" height="8.35" fill="#cfcfd2"/>
<rect x="144.78" y="183.80" width="3.0" height="8.35" fill="#cfcfd2"/>
<rect x="148.20" y="183.80" width="3.0" height="8.35" fill="#cfcfd2"/>
<rect x="151.62" y="183.80" width="3.0" height="8.35" fill="#cfcfd2"/>
<rect x="155.04" y="183.80" width="3.0" height="8.35" fill="#cfcfd2"/>
<rect x="158.46" y="183.80" width="3.0" height="8.35" fill="#cfcfd2"/>
<rect x="161.88" y="183.80" width="3.0" height="8.35" fill="#cfcfd2"/>
<rect x="165.30" y="183.80" width="3.0" height="8.35" fill="#cfcfd2"/>
<rect x="168.72" y="183.80" width="3.0" height="8.35" fill="#cfcfd2"/>
<rect x="172.13" y="183.80" width="3.0" height="8.35" fill="#cfcfd2"/>
<rect x="175.55" y="183.80" width="3.0" height="8.35" fill="#cfcfd2"/>
<rect x="178.97" y="183.80" width="3.0" height="8.35" fill="#cfcfd2"/>
<rect x="182.38" y="183.80" width="3.0" height="8.35" fill="#cfcfd2"/>
<rect x="185.80" y="183.80" width="3.0" height="8.35" fill="#cfcfd2"/>
<rect x="189.22" y="183.80" width="3.0" height="8.35" fill="#cfcfd2"/>
<rect x="192.63" y="183.80" width="3.0" height="8.35" fill="#cfcfd2"/>
<rect x="196.05" y="183.80" width="3.0" height="8.35" fill="#cfcfd2"/>
<rect x="199.46" y="183.80" width="3.0" height="8.35" fill="#cfcfd2"/>
<rect x="202.87" y="183.80" width="3.0" height="8.35" fill="#cfcfd2"/>
<rect x="206.29" y="183.80" width="3.0" height="8.35" fill="#cfcfd2"/>
<rect x="209.70" y="183.80" width="3.0" height="8.35" fill="#cfcfd2"/>
<rect x="213.11" y="183.80" width="3.0" height="8.35" fill="#cfcfd2"/>
<rect x="216.53" y="183.80" width="3.0" height="8.35" fill="#cfcfd2"/>
<rect x="219.94" y="183.80" width="3.0" height="8.35" fill="#cfcfd2"/>
<rect x="223.35" y="183.80" width="3.0" height="8.35" fill="#cfcfd2"/>
<rect x="226.76" y="183.80" width="3.0" height="8.35" fill="#cfcfd2"/>
<rect x="230.17" y="183.80" width="3.0" height="8.35" fill="#cfcfd2"/>
<rect x="233.58" y="183.80" width="3.0" height="8.35" fill="#cfcfd2"/>
<rect x="236.99" y="183.80" width="3.0" height="8.35" fill="#cfcfd2"/>
<rect x="240.40" y="183.80" width="3.0" height="8.35" fill="#cfcfd2"/>
<rect x="243.80" y="183.80" width="3.0" height="8.35" fill="#cfcfd2"/>
<rect x="247.21" y="183.80" width="3.0" height="8.35" fill="#cfcfd2"/>
<rect x="250.62" y="183.80" width="3.0" height="8.35" fill="#cfcfd2"/>
<rect x="254.02" y="183.80" width="3.0" height="8.35" fill="#cfcfd2"/>
<rect x="257.43" y="183.80" width="3.0" height="8.35" fill="#cfcfd2"/>
<rect x="260.83" y="183.80" width="3.0" height="8.35" fill="#31a834"/>
<rect x="264.24" y="183.80" width="3.0" height="8.35" fill="#cfcfd2"/>
<rect x="267.64" y="183.80" width="3.0" height="8.35" fill="#cfcfd2"/>
<rect x="271.05" y="183.80" width="3.0" height="8.35" fill="#cfcfd2"/>
<rect x="274.45" y="183.80" width="3.0" height="8.35" fill="#cfcfd2"/>
<rect x="277.85" y="183.80" width="3.0" height="8.35" fill="#cfcfd2"/>
<rect x="281.26" y="183.80" width="3.0" height="8.35" fill="#cfcfd2"/>
<rect x="284.66" y="183.80" width="3.0" height="8.35" fill="#cfcfd2"/>
<rect x="288.06" y="183.80" width="3.0" height="8.35" fill="#cfcfd2"/>
<rect x="291.46" y="183.80" width="3.0" height="8.35" fill="#31a834"/>
<rect x="294.86" y="183.80" width="3.0" height="8.35" fill="#cfcfd2"/>
<rect x="298.26" y="183.80" width="3.0" height="8.35" fill="#cfcfd2"/>
<rect x="301.66" y="183.80" width="3.0" height="8.35" fill="#cfcfd2"/>
<rect x="305.06" y="183.80" width="3.0" height="8.35" fill="#cfcfd2"/>
<rect x="308.45" y="183.80" width="3.0" height="8.35" fill="#cfcfd2"/>
<rect x="311.85" y="183.80" width="3.0" height="8.35" fill="#cfcfd2"/>
<rect x="315.25" y="183.80" width="3.0" height="8.35" fill="#cfcfd2"/>
<rect x="318.65" y="183.80" width="3.0" height="8.35" fill="#cfcfd2"/>
<rect x="322.04" y="183.80" width="3.0" height="8.35" fill="#f8bb08"/>
<rect x="325.44" y="183.80" width="3.0" height="8.35" fill="#31a834"/>
<rect x="328.83" y="183.80" width="3.0" height="8.35" fill="#cfcfd2"/>
<rect x="332.23" y="183.80" width="3.0" height="8.35" fill="#cfcfd2"/>
<rect x="335.62" y="183.80" width="3.0" height="8.35" fill="#cfcfd2"/>
<rect x="339.01" y="183.80" width="3.0" height="8.35" fill="#cfcfd2"/>
<rect x="342.41" y="183.80" width="3.0" height="8.35" fill="#cfcfd2"/>
<rect x="345.80" y="183.80" width="3.0" height="8.35" fill="#cfcfd2"/>
<rect x="349.19" y="183.80" width="3.0" height="8.35" fill="#cfcfd2"/>
<rect x="352.58" y="183.80" width="3.0" height="8.35" fill="#cfcfd2"/>
<rect x="355.98" y="183.80" width="3.0" height="8.35" fill="#cfcfd2"/>
<rect x="359.37" y="183.80" width="3.0" height="8.35" fill="#cfcfd2"/>
<rect x="362.76" y="183.80" width="3.0" height="8.35" fill="#cfcfd2"/>
<rect x="366.15" y="183.80" width="3.0" height="8.35" fill="#cfcfd2"/>
<rect x="369.54" y="183.80" width="3.0" height="8.35" fill="#cfcfd2"/>
<rect x="372.93" y="183.80" width="3.0" height="8.35" fill="#cfcfd2"/>
<rect x="376.32" y="183.80" width="3.0" height="8.35" fill="#cfcfd2"/>
<rect x="379.70" y="183.80" width="3.0" height="8.35" fill="#cfcfd2"/>
<rect x="383.09" y="183.80" width="3.0" height="8.35" fill="#cfcfd2"/>
<rect x="386.48" y="183.80" width="3.0" height="8.35" fill="#cfcfd2"/>
<rect x="389.87" y="183.80" width="3.0" height="8.35" fill="#cfcfd2"/>
<rect x="393.26" y="183.80" width="3.0" height="8.35" fill="#cfcfd2"/>
<rect x="396.64" y="183.80" width="3.0" height="8.35" fill="#cfcfd2"/>
<rect x="400.03" y="183.80" width="3.0" height="8.35" fill="#cfcfd2"/>
<rect x="403.42" y="183.80" width="3.0" height="8.35" fill="#cfcfd2"/>
<rect x="406.80" y="183.80" width="3.0" height="8.35" fill="#cfcfd2"/>
<rect x="410.19" y="183.80" width="3.0" height="8.35" fill="#cfcfd2"/>
<rect x="413.57" y="183.80" width="3.0" height="8.35" fill="#cfcfd2"/>
<rect x="416.96" y="183.80" width="3.0" height="8.35" fill="#cfcfd2"/>
<rect x="420.34" y="183.80" width="3.0" height="8.35" fill="#cfcfd2"/>
<rect x="423.73" y="183.80" width="3.0" height="8.35" fill="#cfcfd2"/>
<rect x="427.11" y="183.80" width="3.0" height="8.35" fill="#cfcfd2"/>
<rect x="430.50" y="183.80" width="3.0" height="8.35" fill="#cfcfd2"/>
<rect x="433.88" y="183.80" width="3.0" height="8.35" fill="#cfcfd2"/>
<rect x="437.27" y="183.80" width="3.0" height="8.35" fill="#cfcfd2"/>
<rect x="440.65" y="183.80" width="3.0" height="8.35" fill="#cfcfd2"/>
<rect x="444.04" y="183.80" width="3.0" height="8.35" fill="#cfcfd2"/>
<rect x="447.42" y="183.80" width="3.0" height="8.35" fill="#cfcfd2"/>
<rect x="450.80" y="183.80" width="3.0" height="8.35" fill="#cfcfd2"/>
<rect x="454.19" y="183.80" width="3.0" height="8.35" fill="#cfcfd2"/>
<rect x="457.57" y="183.80" width="3.0" height="8.35" fill="#cfcfd2"/>
<rect x="460.95" y="183.80" width="3.0" height="8.35" fill="#cfcfd2"/>
<rect x="464.34" y="183.80" width="3.0" height="8.35" fill="#cfcfd2"/>
<rect x="467.72" y="183.80" width="3.0" height="8.35" fill="#cfcfd2"/>
<rect x="471.10" y="183.80" width="3.0" height="8.35" fill="#cfcfd2"/>
<rect x="474.49" y="183.80" width="3.0" height="8.35" fill="#cfcfd2"/>
<text x="54.3" y="191.10" text-anchor="end" font-size="9.2" font-style="italic" fill="#1a1a1a">SF3B1</text>
<text x="482" y="191.00" font-size="9.2" fill="#1a1a1a">3%</text>
<rect x="59.20" y="193.00" width="3.0" height="8.35" fill="#cfcfd2"/>
<rect x="62.62" y="193.00" width="3.0" height="8.35" fill="#cfcfd2"/>
<rect x="66.05" y="193.00" width="3.0" height="8.35" fill="#cfcfd2"/>
<rect x="69.47" y="193.00" width="3.0" height="8.35" fill="#cfcfd2"/>
<rect x="72.90" y="193.00" width="3.0" height="8.35" fill="#cfcfd2"/>
<rect x="76.32" y="193.00" width="3.0" height="8.35" fill="#cfcfd2"/>
<rect x="79.75" y="193.00" width="3.0" height="8.35" fill="#cfcfd2"/>
<rect x="83.17" y="193.00" width="3.0" height="8.35" fill="#cfcfd2"/>
<rect x="86.60" y="193.00" width="3.0" height="8.35" fill="#cfcfd2"/>
<rect x="90.02" y="193.00" width="3.0" height="8.35" fill="#cfcfd2"/>
<rect x="93.44" y="193.00" width="3.0" height="8.35" fill="#cfcfd2"/>
<rect x="96.87" y="193.00" width="3.0" height="8.35" fill="#cfcfd2"/>
<rect x="100.29" y="193.00" width="3.0" height="8.35" fill="#cfcfd2"/>
<rect x="103.71" y="193.00" width="3.0" height="8.35" fill="#cfcfd2"/>
<rect x="107.14" y="193.00" width="3.0" height="8.35" fill="#cfcfd2"/>
<rect x="110.56" y="193.00" width="3.0" height="8.35" fill="#cfcfd2"/>
<rect x="113.98" y="193.00" width="3.0" height="8.35" fill="#cfcfd2"/>
<rect x="117.41" y="193.00" width="3.0" height="8.35" fill="#cfcfd2"/>
<rect x="120.83" y="193.00" width="3.0" height="8.35" fill="#cfcfd2"/>
<rect x="124.25" y="193.00" width="3.0" height="8.35" fill="#cfcfd2"/>
<rect x="127.67" y="193.00" width="3.0" height="8.35" fill="#cfcfd2"/>
<rect x="131.10" y="193.00" width="3.0" height="8.35" fill="#cfcfd2"/>
<rect x="134.52" y="193.00" width="3.0" height="8.35" fill="#cfcfd2"/>
<rect x="137.94" y="193.00" width="3.0" height="8.35" fill="#cfcfd2"/>
<rect x="141.36" y="193.00" width="3.0" height="8.35" fill="#cfcfd2"/>
<rect x="144.78" y="193.00" width="3.0" height="8.35" fill="#cfcfd2"/>
<rect x="148.20" y="193.00" width="3.0" height="8.35" fill="#cfcfd2"/>
<rect x="151.62" y="193.00" width="3.0" height="8.35" fill="#cfcfd2"/>
<rect x="155.04" y="193.00" width="3.0" height="8.35" fill="#cfcfd2"/>
<rect x="158.46" y="193.00" width="3.0" height="8.35" fill="#cfcfd2"/>
<rect x="161.88" y="193.00" width="3.0" height="8.35" fill="#cfcfd2"/>
<rect x="165.30" y="193.00" width="3.0" height="8.35" fill="#cfcfd2"/>
<rect x="168.72" y="193.00" width="3.0" height="8.35" fill="#cfcfd2"/>
<rect x="172.13" y="193.00" width="3.0" height="8.35" fill="#cfcfd2"/>
<rect x="175.55" y="193.00" width="3.0" height="8.35" fill="#cfcfd2"/>
<rect x="178.97" y="193.00" width="3.0" height="8.35" fill="#cfcfd2"/>
<rect x="182.38" y="193.00" width="3.0" height="8.35" fill="#cfcfd2"/>
<rect x="185.80" y="193.00" width="3.0" height="8.35" fill="#cfcfd2"/>
<rect x="189.22" y="193.00" width="3.0" height="8.35" fill="#cfcfd2"/>
<rect x="192.63" y="193.00" width="3.0" height="8.35" fill="#cfcfd2"/>
<rect x="196.05" y="193.00" width="3.0" height="8.35" fill="#cfcfd2"/>
<rect x="199.46" y="193.00" width="3.0" height="8.35" fill="#cfcfd2"/>
<rect x="202.87" y="193.00" width="3.0" height="8.35" fill="#cfcfd2"/>
<rect x="206.29" y="193.00" width="3.0" height="8.35" fill="#cfcfd2"/>
<rect x="209.70" y="193.00" width="3.0" height="8.35" fill="#cfcfd2"/>
<rect x="213.11" y="193.00" width="3.0" height="8.35" fill="#cfcfd2"/>
<rect x="216.53" y="193.00" width="3.0" height="8.35" fill="#cfcfd2"/>
<rect x="219.94" y="193.00" width="3.0" height="8.35" fill="#cfcfd2"/>
<rect x="223.35" y="193.00" width="3.0" height="8.35" fill="#cfcfd2"/>
<rect x="226.76" y="193.00" width="3.0" height="8.35" fill="#cfcfd2"/>
<rect x="230.17" y="193.00" width="3.0" height="8.35" fill="#cfcfd2"/>
<rect x="233.58" y="193.00" width="3.0" height="8.35" fill="#cfcfd2"/>
<rect x="236.99" y="193.00" width="3.0" height="8.35" fill="#cfcfd2"/>
<rect x="240.40" y="193.00" width="3.0" height="8.35" fill="#cfcfd2"/>
<rect x="243.80" y="193.00" width="3.0" height="8.35" fill="#cfcfd2"/>
<rect x="247.21" y="193.00" width="3.0" height="8.35" fill="#cfcfd2"/>
<rect x="250.62" y="193.00" width="3.0" height="8.35" fill="#cfcfd2"/>
<rect x="254.02" y="193.00" width="3.0" height="8.35" fill="#cfcfd2"/>
<rect x="257.43" y="193.00" width="3.0" height="8.35" fill="#cfcfd2"/>
<rect x="260.83" y="193.00" width="3.0" height="8.35" fill="#cfcfd2"/>
<rect x="264.24" y="193.00" width="3.0" height="8.35" fill="#f8bb08"/>
<rect x="267.64" y="193.00" width="3.0" height="8.35" fill="#cfcfd2"/>
<rect x="271.05" y="193.00" width="3.0" height="8.35" fill="#cfcfd2"/>
<rect x="274.45" y="193.00" width="3.0" height="8.35" fill="#cfcfd2"/>
<rect x="277.85" y="193.00" width="3.0" height="8.35" fill="#cfcfd2"/>
<rect x="281.26" y="193.00" width="3.0" height="8.35" fill="#cfcfd2"/>
<rect x="284.66" y="193.00" width="3.0" height="8.35" fill="#cfcfd2"/>
<rect x="288.06" y="193.00" width="3.0" height="8.35" fill="#cfcfd2"/>
<rect x="291.46" y="193.00" width="3.0" height="8.35" fill="#cfcfd2"/>
<rect x="294.86" y="193.00" width="3.0" height="8.35" fill="#cfcfd2"/>
<rect x="298.26" y="193.00" width="3.0" height="8.35" fill="#cfcfd2"/>
<rect x="301.66" y="193.00" width="3.0" height="8.35" fill="#cfcfd2"/>
<rect x="305.06" y="193.00" width="3.0" height="8.35" fill="#cfcfd2"/>
<rect x="308.45" y="193.00" width="3.0" height="8.35" fill="#cfcfd2"/>
<rect x="311.85" y="193.00" width="3.0" height="8.35" fill="#cfcfd2"/>
<rect x="315.25" y="193.00" width="3.0" height="8.35" fill="#cfcfd2"/>
<rect x="318.65" y="193.00" width="3.0" height="8.35" fill="#cfcfd2"/>
<rect x="322.04" y="193.00" width="3.0" height="8.35" fill="#cfcfd2"/>
<rect x="325.44" y="193.00" width="3.0" height="8.35" fill="#cfcfd2"/>
<rect x="328.83" y="193.00" width="3.0" height="8.35" fill="#6a3614"/>
<rect x="332.23" y="193.00" width="3.0" height="8.35" fill="#cfcfd2"/>
<rect x="335.62" y="193.00" width="3.0" height="8.35" fill="#cfcfd2"/>
<rect x="339.01" y="193.00" width="3.0" height="8.35" fill="#cfcfd2"/>
<rect x="342.41" y="193.00" width="3.0" height="8.35" fill="#cfcfd2"/>
<rect x="345.80" y="193.00" width="3.0" height="8.35" fill="#cfcfd2"/>
<rect x="349.19" y="193.00" width="3.0" height="8.35" fill="#cfcfd2"/>
<rect x="352.58" y="193.00" width="3.0" height="8.35" fill="#cfcfd2"/>
<rect x="355.98" y="193.00" width="3.0" height="8.35" fill="#cfcfd2"/>
<rect x="359.37" y="193.00" width="3.0" height="8.35" fill="#cfcfd2"/>
<rect x="362.76" y="193.00" width="3.0" height="8.35" fill="#cfcfd2"/>
<rect x="366.15" y="193.00" width="3.0" height="8.35" fill="#cfcfd2"/>
<rect x="369.54" y="193.00" width="3.0" height="8.35" fill="#cfcfd2"/>
<rect x="372.93" y="193.00" width="3.0" height="8.35" fill="#cfcfd2"/>
<rect x="376.32" y="193.00" width="3.0" height="8.35" fill="#cfcfd2"/>
<rect x="379.70" y="193.00" width="3.0" height="8.35" fill="#cfcfd2"/>
<rect x="383.09" y="193.00" width="3.0" height="8.35" fill="#cfcfd2"/>
<rect x="386.48" y="193.00" width="3.0" height="8.35" fill="#cfcfd2"/>
<rect x="389.87" y="193.00" width="3.0" height="8.35" fill="#cfcfd2"/>
<rect x="393.26" y="193.00" width="3.0" height="8.35" fill="#cfcfd2"/>
<rect x="396.64" y="193.00" width="3.0" height="8.35" fill="#cfcfd2"/>
<rect x="400.03" y="193.00" width="3.0" height="8.35" fill="#cfcfd2"/>
<rect x="403.42" y="193.00" width="3.0" height="8.35" fill="#cfcfd2"/>
<rect x="406.80" y="193.00" width="3.0" height="8.35" fill="#cfcfd2"/>
<rect x="410.19" y="193.00" width="3.0" height="8.35" fill="#cfcfd2"/>
<rect x="413.57" y="193.00" width="3.0" height="8.35" fill="#cfcfd2"/>
<rect x="416.96" y="193.00" width="3.0" height="8.35" fill="#cfcfd2"/>
<rect x="420.34" y="193.00" width="3.0" height="8.35" fill="#cfcfd2"/>
<rect x="423.73" y="193.00" width="3.0" height="8.35" fill="#cfcfd2"/>
<rect x="427.11" y="193.00" width="3.0" height="8.35" fill="#cfcfd2"/>
<rect x="430.50" y="193.00" width="3.0" height="8.35" fill="#cfcfd2"/>
<rect x="433.88" y="193.00" width="3.0" height="8.35" fill="#cfcfd2"/>
<rect x="437.27" y="193.00" width="3.0" height="8.35" fill="#cfcfd2"/>
<rect x="440.65" y="193.00" width="3.0" height="8.35" fill="#cfcfd2"/>
<rect x="444.04" y="193.00" width="3.0" height="8.35" fill="#cfcfd2"/>
<rect x="447.42" y="193.00" width="3.0" height="8.35" fill="#f8bb08"/>
<rect x="450.80" y="193.00" width="3.0" height="8.35" fill="#cfcfd2"/>
<rect x="454.19" y="193.00" width="3.0" height="8.35" fill="#cfcfd2"/>
<rect x="457.57" y="193.00" width="3.0" height="8.35" fill="#cfcfd2"/>
<rect x="460.95" y="193.00" width="3.0" height="8.35" fill="#cfcfd2"/>
<rect x="464.34" y="193.00" width="3.0" height="8.35" fill="#cfcfd2"/>
<rect x="467.72" y="193.00" width="3.0" height="8.35" fill="#cfcfd2"/>
<rect x="471.10" y="193.00" width="3.0" height="8.35" fill="#cfcfd2"/>
<rect x="474.49" y="193.00" width="3.0" height="8.35" fill="#cfcfd2"/>
<text x="54.3" y="200.30" text-anchor="end" font-size="9.2" font-style="italic" fill="#1a1a1a">ATM</text>
<text x="482" y="200.20" font-size="9.2" fill="#1a1a1a">2%</text>
<rect x="59.20" y="202.20" width="3.0" height="8.35" fill="#cfcfd2"/>
<rect x="62.62" y="202.20" width="3.0" height="8.35" fill="#cfcfd2"/>
<rect x="66.05" y="202.20" width="3.0" height="8.35" fill="#cfcfd2"/>
<rect x="69.47" y="202.20" width="3.0" height="8.35" fill="#cfcfd2"/>
<rect x="72.90" y="202.20" width="3.0" height="8.35" fill="#31a834"/>
<rect x="76.32" y="202.20" width="3.0" height="8.35" fill="#cfcfd2"/>
<rect x="79.75" y="202.20" width="3.0" height="8.35" fill="#cfcfd2"/>
<rect x="83.17" y="202.20" width="3.0" height="8.35" fill="#cfcfd2"/>
<rect x="86.60" y="202.20" width="3.0" height="8.35" fill="#cfcfd2"/>
<rect x="90.02" y="202.20" width="3.0" height="8.35" fill="#cfcfd2"/>
<rect x="93.44" y="202.20" width="3.0" height="8.35" fill="#cfcfd2"/>
<rect x="96.87" y="202.20" width="3.0" height="8.35" fill="#cfcfd2"/>
<rect x="100.29" y="202.20" width="3.0" height="8.35" fill="#cfcfd2"/>
<rect x="103.71" y="202.20" width="3.0" height="8.35" fill="#cfcfd2"/>
<rect x="107.14" y="202.20" width="3.0" height="8.35" fill="#cfcfd2"/>
<rect x="110.56" y="202.20" width="3.0" height="8.35" fill="#cfcfd2"/>
<rect x="113.98" y="202.20" width="3.0" height="8.35" fill="#cfcfd2"/>
<rect x="117.41" y="202.20" width="3.0" height="8.35" fill="#cfcfd2"/>
<rect x="120.83" y="202.20" width="3.0" height="8.35" fill="#cfcfd2"/>
<rect x="124.25" y="202.20" width="3.0" height="8.35" fill="#cfcfd2"/>
<rect x="127.67" y="202.20" width="3.0" height="8.35" fill="#cfcfd2"/>
<rect x="131.10" y="202.20" width="3.0" height="8.35" fill="#cfcfd2"/>
<rect x="134.52" y="202.20" width="3.0" height="8.35" fill="#cfcfd2"/>
<rect x="137.94" y="202.20" width="3.0" height="8.35" fill="#cfcfd2"/>
<rect x="141.36" y="202.20" width="3.0" height="8.35" fill="#cfcfd2"/>
<rect x="144.78" y="202.20" width="3.0" height="8.35" fill="#cfcfd2"/>
<rect x="148.20" y="202.20" width="3.0" height="8.35" fill="#cfcfd2"/>
<rect x="151.62" y="202.20" width="3.0" height="8.35" fill="#cfcfd2"/>
<rect x="155.04" y="202.20" width="3.0" height="8.35" fill="#cfcfd2"/>
<rect x="158.46" y="202.20" width="3.0" height="8.35" fill="#cfcfd2"/>
<rect x="161.88" y="202.20" width="3.0" height="8.35" fill="#cfcfd2"/>
<rect x="165.30" y="202.20" width="3.0" height="8.35" fill="#cfcfd2"/>
<rect x="168.72" y="202.20" width="3.0" height="8.35" fill="#cfcfd2"/>
<rect x="172.13" y="202.20" width="3.0" height="8.35" fill="#cfcfd2"/>
<rect x="175.55" y="202.20" width="3.0" height="8.35" fill="#cfcfd2"/>
<rect x="178.97" y="202.20" width="3.0" height="8.35" fill="#cfcfd2"/>
<rect x="182.38" y="202.20" width="3.0" height="8.35" fill="#cfcfd2"/>
<rect x="185.80" y="202.20" width="3.0" height="8.35" fill="#cfcfd2"/>
<rect x="189.22" y="202.20" width="3.0" height="8.35" fill="#cfcfd2"/>
<rect x="192.63" y="202.20" width="3.0" height="8.35" fill="#cfcfd2"/>
<rect x="196.05" y="202.20" width="3.0" height="8.35" fill="#31a834"/>
<rect x="199.46" y="202.20" width="3.0" height="8.35" fill="#cfcfd2"/>
<rect x="202.87" y="202.20" width="3.0" height="8.35" fill="#cfcfd2"/>
<rect x="206.29" y="202.20" width="3.0" height="8.35" fill="#cfcfd2"/>
<rect x="209.70" y="202.20" width="3.0" height="8.35" fill="#cfcfd2"/>
<rect x="213.11" y="202.20" width="3.0" height="8.35" fill="#cfcfd2"/>
<rect x="216.53" y="202.20" width="3.0" height="8.35" fill="#cfcfd2"/>
<rect x="219.94" y="202.20" width="3.0" height="8.35" fill="#cfcfd2"/>
<rect x="223.35" y="202.20" width="3.0" height="8.35" fill="#cfcfd2"/>
<rect x="226.76" y="202.20" width="3.0" height="8.35" fill="#cfcfd2"/>
<rect x="230.17" y="202.20" width="3.0" height="8.35" fill="#cfcfd2"/>
<rect x="233.58" y="202.20" width="3.0" height="8.35" fill="#cfcfd2"/>
<rect x="236.99" y="202.20" width="3.0" height="8.35" fill="#cfcfd2"/>
<rect x="240.40" y="202.20" width="3.0" height="8.35" fill="#cfcfd2"/>
<rect x="243.80" y="202.20" width="3.0" height="8.35" fill="#cfcfd2"/>
<rect x="247.21" y="202.20" width="3.0" height="8.35" fill="#cfcfd2"/>
<rect x="250.62" y="202.20" width="3.0" height="8.35" fill="#cfcfd2"/>
<rect x="254.02" y="202.20" width="3.0" height="8.35" fill="#cfcfd2"/>
<rect x="257.43" y="202.20" width="3.0" height="8.35" fill="#cfcfd2"/>
<rect x="260.83" y="202.20" width="3.0" height="8.35" fill="#cfcfd2"/>
<rect x="264.24" y="202.20" width="3.0" height="8.35" fill="#cfcfd2"/>
<rect x="267.64" y="202.20" width="3.0" height="8.35" fill="#31a834"/>
<rect x="271.05" y="202.20" width="3.0" height="8.35" fill="#cfcfd2"/>
<rect x="274.45" y="202.20" width="3.0" height="8.35" fill="#cfcfd2"/>
<rect x="277.85" y="202.20" width="3.0" height="8.35" fill="#cfcfd2"/>
<rect x="281.26" y="202.20" width="3.0" height="8.35" fill="#cfcfd2"/>
<rect x="284.66" y="202.20" width="3.0" height="8.35" fill="#cfcfd2"/>
<rect x="288.06" y="202.20" width="3.0" height="8.35" fill="#cfcfd2"/>
<rect x="291.46" y="202.20" width="3.0" height="8.35" fill="#cfcfd2"/>
<rect x="294.86" y="202.20" width="3.0" height="8.35" fill="#cfcfd2"/>
<rect x="298.26" y="202.20" width="3.0" height="8.35" fill="#cfcfd2"/>
<rect x="301.66" y="202.20" width="3.0" height="8.35" fill="#cfcfd2"/>
<rect x="305.06" y="202.20" width="3.0" height="8.35" fill="#cfcfd2"/>
<rect x="308.45" y="202.20" width="3.0" height="8.35" fill="#cfcfd2"/>
<rect x="311.85" y="202.20" width="3.0" height="8.35" fill="#cfcfd2"/>
<rect x="315.25" y="202.20" width="3.0" height="8.35" fill="#cfcfd2"/>
<rect x="318.65" y="202.20" width="3.0" height="8.35" fill="#cfcfd2"/>
<rect x="322.04" y="202.20" width="3.0" height="8.35" fill="#cfcfd2"/>
<rect x="325.44" y="202.20" width="3.0" height="8.35" fill="#cfcfd2"/>
<rect x="328.83" y="202.20" width="3.0" height="8.35" fill="#cfcfd2"/>
<rect x="332.23" y="202.20" width="3.0" height="8.35" fill="#cfcfd2"/>
<rect x="335.62" y="202.20" width="3.0" height="8.35" fill="#cfcfd2"/>
<rect x="339.01" y="202.20" width="3.0" height="8.35" fill="#cfcfd2"/>
<rect x="342.41" y="202.20" width="3.0" height="8.35" fill="#cfcfd2"/>
<rect x="345.80" y="202.20" width="3.0" height="8.35" fill="#cfcfd2"/>
<rect x="349.19" y="202.20" width="3.0" height="8.35" fill="#cfcfd2"/>
<rect x="352.58" y="202.20" width="3.0" height="8.35" fill="#cfcfd2"/>
<rect x="355.98" y="202.20" width="3.0" height="8.35" fill="#cfcfd2"/>
<rect x="359.37" y="202.20" width="3.0" height="8.35" fill="#cfcfd2"/>
<rect x="362.76" y="202.20" width="3.0" height="8.35" fill="#cfcfd2"/>
<rect x="366.15" y="202.20" width="3.0" height="8.35" fill="#cfcfd2"/>
<rect x="369.54" y="202.20" width="3.0" height="8.35" fill="#cfcfd2"/>
<rect x="372.93" y="202.20" width="3.0" height="8.35" fill="#cfcfd2"/>
<rect x="376.32" y="202.20" width="3.0" height="8.35" fill="#cfcfd2"/>
<rect x="379.70" y="202.20" width="3.0" height="8.35" fill="#cfcfd2"/>
<rect x="383.09" y="202.20" width="3.0" height="8.35" fill="#cfcfd2"/>
<rect x="386.48" y="202.20" width="3.0" height="8.35" fill="#cfcfd2"/>
<rect x="389.87" y="202.20" width="3.0" height="8.35" fill="#cfcfd2"/>
<rect x="393.26" y="202.20" width="3.0" height="8.35" fill="#cfcfd2"/>
<rect x="396.64" y="202.20" width="3.0" height="8.35" fill="#cfcfd2"/>
<rect x="400.03" y="202.20" width="3.0" height="8.35" fill="#cfcfd2"/>
<rect x="403.42" y="202.20" width="3.0" height="8.35" fill="#cfcfd2"/>
<rect x="406.80" y="202.20" width="3.0" height="8.35" fill="#cfcfd2"/>
<rect x="410.19" y="202.20" width="3.0" height="8.35" fill="#cfcfd2"/>
<rect x="413.57" y="202.20" width="3.0" height="8.35" fill="#cfcfd2"/>
<rect x="416.96" y="202.20" width="3.0" height="8.35" fill="#cfcfd2"/>
<rect x="420.34" y="202.20" width="3.0" height="8.35" fill="#cfcfd2"/>
<rect x="423.73" y="202.20" width="3.0" height="8.35" fill="#cfcfd2"/>
<rect x="427.11" y="202.20" width="3.0" height="8.35" fill="#cfcfd2"/>
<rect x="430.50" y="202.20" width="3.0" height="8.35" fill="#cfcfd2"/>
<rect x="433.88" y="202.20" width="3.0" height="8.35" fill="#cfcfd2"/>
<rect x="437.27" y="202.20" width="3.0" height="8.35" fill="#cfcfd2"/>
<rect x="440.65" y="202.20" width="3.0" height="8.35" fill="#cfcfd2"/>
<rect x="444.04" y="202.20" width="3.0" height="8.35" fill="#cfcfd2"/>
<rect x="447.42" y="202.20" width="3.0" height="8.35" fill="#cfcfd2"/>
<rect x="450.80" y="202.20" width="3.0" height="8.35" fill="#cfcfd2"/>
<rect x="454.19" y="202.20" width="3.0" height="8.35" fill="#cfcfd2"/>
<rect x="457.57" y="202.20" width="3.0" height="8.35" fill="#cfcfd2"/>
<rect x="460.95" y="202.20" width="3.0" height="8.35" fill="#cfcfd2"/>
<rect x="464.34" y="202.20" width="3.0" height="8.35" fill="#cfcfd2"/>
<rect x="467.72" y="202.20" width="3.0" height="8.35" fill="#cfcfd2"/>
<rect x="471.10" y="202.20" width="3.0" height="8.35" fill="#cfcfd2"/>
<rect x="474.49" y="202.20" width="3.0" height="8.35" fill="#cfcfd2"/>
<text x="54.3" y="209.50" text-anchor="end" font-size="9.2" font-style="italic" fill="#1a1a1a">IDH2</text>
<text x="482" y="209.40" font-size="9.2" fill="#1a1a1a">2%</text>
<rect x="59.20" y="211.40" width="3.0" height="8.35" fill="#cfcfd2"/>
<rect x="62.62" y="211.40" width="3.0" height="8.35" fill="#cfcfd2"/>
<rect x="66.05" y="211.40" width="3.0" height="8.35" fill="#cfcfd2"/>
<rect x="69.47" y="211.40" width="3.0" height="8.35" fill="#cfcfd2"/>
<rect x="72.90" y="211.40" width="3.0" height="8.35" fill="#cfcfd2"/>
<rect x="76.32" y="211.40" width="3.0" height="8.35" fill="#cfcfd2"/>
<rect x="79.75" y="211.40" width="3.0" height="8.35" fill="#cfcfd2"/>
<rect x="83.17" y="211.40" width="3.0" height="8.35" fill="#cfcfd2"/>
<rect x="86.60" y="211.40" width="3.0" height="8.35" fill="#cfcfd2"/>
<rect x="90.02" y="211.40" width="3.0" height="8.35" fill="#cfcfd2"/>
<rect x="93.44" y="211.40" width="3.0" height="8.35" fill="#cfcfd2"/>
<rect x="96.87" y="211.40" width="3.0" height="8.35" fill="#cfcfd2"/>
<rect x="100.29" y="211.40" width="3.0" height="8.35" fill="#cfcfd2"/>
<rect x="103.71" y="211.40" width="3.0" height="8.35" fill="#cfcfd2"/>
<rect x="107.14" y="211.40" width="3.0" height="8.35" fill="#cfcfd2"/>
<rect x="110.56" y="211.40" width="3.0" height="8.35" fill="#cfcfd2"/>
<rect x="113.98" y="211.40" width="3.0" height="8.35" fill="#cfcfd2"/>
<rect x="117.41" y="211.40" width="3.0" height="8.35" fill="#cfcfd2"/>
<rect x="120.83" y="211.40" width="3.0" height="8.35" fill="#cfcfd2"/>
<rect x="124.25" y="211.40" width="3.0" height="8.35" fill="#cfcfd2"/>
<rect x="127.67" y="211.40" width="3.0" height="8.35" fill="#cfcfd2"/>
<rect x="131.10" y="211.40" width="3.0" height="8.35" fill="#cfcfd2"/>
<rect x="134.52" y="211.40" width="3.0" height="8.35" fill="#cfcfd2"/>
<rect x="137.94" y="211.40" width="3.0" height="8.35" fill="#cfcfd2"/>
<rect x="141.36" y="211.40" width="3.0" height="8.35" fill="#31a834"/>
<rect x="144.78" y="211.40" width="3.0" height="8.35" fill="#cfcfd2"/>
<rect x="148.20" y="211.40" width="3.0" height="8.35" fill="#cfcfd2"/>
<rect x="151.62" y="211.40" width="3.0" height="8.35" fill="#cfcfd2"/>
<rect x="155.04" y="211.40" width="3.0" height="8.35" fill="#cfcfd2"/>
<rect x="158.46" y="211.40" width="3.0" height="8.35" fill="#cfcfd2"/>
<rect x="161.88" y="211.40" width="3.0" height="8.35" fill="#cfcfd2"/>
<rect x="165.30" y="211.40" width="3.0" height="8.35" fill="#cfcfd2"/>
<rect x="168.72" y="211.40" width="3.0" height="8.35" fill="#cfcfd2"/>
<rect x="172.13" y="211.40" width="3.0" height="8.35" fill="#cfcfd2"/>
<rect x="175.55" y="211.40" width="3.0" height="8.35" fill="#cfcfd2"/>
<rect x="178.97" y="211.40" width="3.0" height="8.35" fill="#cfcfd2"/>
<rect x="182.38" y="211.40" width="3.0" height="8.35" fill="#cfcfd2"/>
<rect x="185.80" y="211.40" width="3.0" height="8.35" fill="#cfcfd2"/>
<rect x="189.22" y="211.40" width="3.0" height="8.35" fill="#cfcfd2"/>
<rect x="192.63" y="211.40" width="3.0" height="8.35" fill="#cfcfd2"/>
<rect x="196.05" y="211.40" width="3.0" height="8.35" fill="#cfcfd2"/>
<rect x="199.46" y="211.40" width="3.0" height="8.35" fill="#cfcfd2"/>
<rect x="202.87" y="211.40" width="3.0" height="8.35" fill="#cfcfd2"/>
<rect x="206.29" y="211.40" width="3.0" height="8.35" fill="#cfcfd2"/>
<rect x="209.70" y="211.40" width="3.0" height="8.35" fill="#cfcfd2"/>
<rect x="213.11" y="211.40" width="3.0" height="8.35" fill="#cfcfd2"/>
<rect x="216.53" y="211.40" width="3.0" height="8.35" fill="#cfcfd2"/>
<rect x="219.94" y="211.40" width="3.0" height="8.35" fill="#cfcfd2"/>
<rect x="223.35" y="211.40" width="3.0" height="8.35" fill="#cfcfd2"/>
<rect x="226.76" y="211.40" width="3.0" height="8.35" fill="#cfcfd2"/>
<rect x="230.17" y="211.40" width="3.0" height="8.35" fill="#cfcfd2"/>
<rect x="233.58" y="211.40" width="3.0" height="8.35" fill="#cfcfd2"/>
<rect x="236.99" y="211.40" width="3.0" height="8.35" fill="#cfcfd2"/>
<rect x="240.40" y="211.40" width="3.0" height="8.35" fill="#cfcfd2"/>
<rect x="243.80" y="211.40" width="3.0" height="8.35" fill="#cfcfd2"/>
<rect x="247.21" y="211.40" width="3.0" height="8.35" fill="#cfcfd2"/>
<rect x="250.62" y="211.40" width="3.0" height="8.35" fill="#cfcfd2"/>
<rect x="254.02" y="211.40" width="3.0" height="8.35" fill="#cfcfd2"/>
<rect x="257.43" y="211.40" width="3.0" height="8.35" fill="#cfcfd2"/>
<rect x="260.83" y="211.40" width="3.0" height="8.35" fill="#cfcfd2"/>
<rect x="264.24" y="211.40" width="3.0" height="8.35" fill="#cfcfd2"/>
<rect x="267.64" y="211.40" width="3.0" height="8.35" fill="#cfcfd2"/>
<rect x="271.05" y="211.40" width="3.0" height="8.35" fill="#cfcfd2"/>
<rect x="274.45" y="211.40" width="3.0" height="8.35" fill="#cfcfd2"/>
<rect x="277.85" y="211.40" width="3.0" height="8.35" fill="#cfcfd2"/>
<rect x="281.26" y="211.40" width="3.0" height="8.35" fill="#cfcfd2"/>
<rect x="284.66" y="211.40" width="3.0" height="8.35" fill="#cfcfd2"/>
<rect x="288.06" y="211.40" width="3.0" height="8.35" fill="#cfcfd2"/>
<rect x="291.46" y="211.40" width="3.0" height="8.35" fill="#cfcfd2"/>
<rect x="294.86" y="211.40" width="3.0" height="8.35" fill="#cfcfd2"/>
<rect x="298.26" y="211.40" width="3.0" height="8.35" fill="#cfcfd2"/>
<rect x="301.66" y="211.40" width="3.0" height="8.35" fill="#cfcfd2"/>
<rect x="305.06" y="211.40" width="3.0" height="8.35" fill="#cfcfd2"/>
<rect x="308.45" y="211.40" width="3.0" height="8.35" fill="#cfcfd2"/>
<rect x="311.85" y="211.40" width="3.0" height="8.35" fill="#cfcfd2"/>
<rect x="315.25" y="211.40" width="3.0" height="8.35" fill="#cfcfd2"/>
<rect x="318.65" y="211.40" width="3.0" height="8.35" fill="#cfcfd2"/>
<rect x="322.04" y="211.40" width="3.0" height="8.35" fill="#cfcfd2"/>
<rect x="325.44" y="211.40" width="3.0" height="8.35" fill="#cfcfd2"/>
<rect x="328.83" y="211.40" width="3.0" height="8.35" fill="#cfcfd2"/>
<rect x="332.23" y="211.40" width="3.0" height="8.35" fill="#f8bb08"/>
<rect x="335.62" y="211.40" width="3.0" height="8.35" fill="#cfcfd2"/>
<rect x="339.01" y="211.40" width="3.0" height="8.35" fill="#cfcfd2"/>
<rect x="342.41" y="211.40" width="3.0" height="8.35" fill="#cfcfd2"/>
<rect x="345.80" y="211.40" width="3.0" height="8.35" fill="#cfcfd2"/>
<rect x="349.19" y="211.40" width="3.0" height="8.35" fill="#cfcfd2"/>
<rect x="352.58" y="211.40" width="3.0" height="8.35" fill="#cfcfd2"/>
<rect x="355.98" y="211.40" width="3.0" height="8.35" fill="#cfcfd2"/>
<rect x="359.37" y="211.40" width="3.0" height="8.35" fill="#cfcfd2"/>
<rect x="362.76" y="211.40" width="3.0" height="8.35" fill="#cfcfd2"/>
<rect x="366.15" y="211.40" width="3.0" height="8.35" fill="#cfcfd2"/>
<rect x="369.54" y="211.40" width="3.0" height="8.35" fill="#cfcfd2"/>
<rect x="372.93" y="211.40" width="3.0" height="8.35" fill="#cfcfd2"/>
<rect x="376.32" y="211.40" width="3.0" height="8.35" fill="#cfcfd2"/>
<rect x="379.70" y="211.40" width="3.0" height="8.35" fill="#cfcfd2"/>
<rect x="383.09" y="211.40" width="3.0" height="8.35" fill="#cfcfd2"/>
<rect x="386.48" y="211.40" width="3.0" height="8.35" fill="#cfcfd2"/>
<rect x="389.87" y="211.40" width="3.0" height="8.35" fill="#cfcfd2"/>
<rect x="393.26" y="211.40" width="3.0" height="8.35" fill="#cfcfd2"/>
<rect x="396.64" y="211.40" width="3.0" height="8.35" fill="#cfcfd2"/>
<rect x="400.03" y="211.40" width="3.0" height="8.35" fill="#cfcfd2"/>
<rect x="403.42" y="211.40" width="3.0" height="8.35" fill="#cfcfd2"/>
<rect x="406.80" y="211.40" width="3.0" height="8.35" fill="#cfcfd2"/>
<rect x="410.19" y="211.40" width="3.0" height="8.35" fill="#cfcfd2"/>
<rect x="413.57" y="211.40" width="3.0" height="8.35" fill="#cfcfd2"/>
<rect x="416.96" y="211.40" width="3.0" height="8.35" fill="#cfcfd2"/>
<rect x="420.34" y="211.40" width="3.0" height="8.35" fill="#cfcfd2"/>
<rect x="423.73" y="211.40" width="3.0" height="8.35" fill="#cfcfd2"/>
<rect x="427.11" y="211.40" width="3.0" height="8.35" fill="#cfcfd2"/>
<rect x="430.50" y="211.40" width="3.0" height="8.35" fill="#c80c24"/>
<rect x="433.88" y="211.40" width="3.0" height="8.35" fill="#cfcfd2"/>
<rect x="437.27" y="211.40" width="3.0" height="8.35" fill="#cfcfd2"/>
<rect x="440.65" y="211.40" width="3.0" height="8.35" fill="#cfcfd2"/>
<rect x="444.04" y="211.40" width="3.0" height="8.35" fill="#cfcfd2"/>
<rect x="447.42" y="211.40" width="3.0" height="8.35" fill="#cfcfd2"/>
<rect x="450.80" y="211.40" width="3.0" height="8.35" fill="#cfcfd2"/>
<rect x="454.19" y="211.40" width="3.0" height="8.35" fill="#cfcfd2"/>
<rect x="457.57" y="211.40" width="3.0" height="8.35" fill="#cfcfd2"/>
<rect x="460.95" y="211.40" width="3.0" height="8.35" fill="#cfcfd2"/>
<rect x="464.34" y="211.40" width="3.0" height="8.35" fill="#cfcfd2"/>
<rect x="467.72" y="211.40" width="3.0" height="8.35" fill="#cfcfd2"/>
<rect x="471.10" y="211.40" width="3.0" height="8.35" fill="#cfcfd2"/>
<rect x="474.49" y="211.40" width="3.0" height="8.35" fill="#cfcfd2"/>
<text x="54.3" y="218.70" text-anchor="end" font-size="9.2" font-style="italic" fill="#1a1a1a">JAK2</text>
<text x="482" y="218.60" font-size="9.2" fill="#1a1a1a">2%</text>
<rect x="59.20" y="220.60" width="3.0" height="8.35" fill="#cfcfd2"/>
<rect x="62.62" y="220.60" width="3.0" height="8.35" fill="#cfcfd2"/>
<rect x="66.05" y="220.60" width="3.0" height="8.35" fill="#cfcfd2"/>
<rect x="69.47" y="220.60" width="3.0" height="8.35" fill="#cfcfd2"/>
<rect x="72.90" y="220.60" width="3.0" height="8.35" fill="#cfcfd2"/>
<rect x="76.32" y="220.60" width="3.0" height="8.35" fill="#31a834"/>
<rect x="79.75" y="220.60" width="3.0" height="8.35" fill="#cfcfd2"/>
<rect x="83.17" y="220.60" width="3.0" height="8.35" fill="#cfcfd2"/>
<rect x="86.60" y="220.60" width="3.0" height="8.35" fill="#cfcfd2"/>
<rect x="90.02" y="220.60" width="3.0" height="8.35" fill="#cfcfd2"/>
<rect x="93.44" y="220.60" width="3.0" height="8.35" fill="#cfcfd2"/>
<rect x="96.87" y="220.60" width="3.0" height="8.35" fill="#cfcfd2"/>
<rect x="100.29" y="220.60" width="3.0" height="8.35" fill="#cfcfd2"/>
<rect x="103.71" y="220.60" width="3.0" height="8.35" fill="#cfcfd2"/>
<rect x="107.14" y="220.60" width="3.0" height="8.35" fill="#cfcfd2"/>
<rect x="110.56" y="220.60" width="3.0" height="8.35" fill="#cfcfd2"/>
<rect x="113.98" y="220.60" width="3.0" height="8.35" fill="#cfcfd2"/>
<rect x="117.41" y="220.60" width="3.0" height="8.35" fill="#cfcfd2"/>
<rect x="120.83" y="220.60" width="3.0" height="8.35" fill="#cfcfd2"/>
<rect x="124.25" y="220.60" width="3.0" height="8.35" fill="#cfcfd2"/>
<rect x="127.67" y="220.60" width="3.0" height="8.35" fill="#cfcfd2"/>
<rect x="131.10" y="220.60" width="3.0" height="8.35" fill="#cfcfd2"/>
<rect x="134.52" y="220.60" width="3.0" height="8.35" fill="#cfcfd2"/>
<rect x="137.94" y="220.60" width="3.0" height="8.35" fill="#cfcfd2"/>
<rect x="141.36" y="220.60" width="3.0" height="8.35" fill="#cfcfd2"/>
<rect x="144.78" y="220.60" width="3.0" height="8.35" fill="#cfcfd2"/>
<rect x="148.20" y="220.60" width="3.0" height="8.35" fill="#cfcfd2"/>
<rect x="151.62" y="220.60" width="3.0" height="8.35" fill="#cfcfd2"/>
<rect x="155.04" y="220.60" width="3.0" height="8.35" fill="#cfcfd2"/>
<rect x="158.46" y="220.60" width="3.0" height="8.35" fill="#cfcfd2"/>
<rect x="161.88" y="220.60" width="3.0" height="8.35" fill="#cfcfd2"/>
<rect x="165.30" y="220.60" width="3.0" height="8.35" fill="#cfcfd2"/>
<rect x="168.72" y="220.60" width="3.0" height="8.35" fill="#cfcfd2"/>
<rect x="172.13" y="220.60" width="3.0" height="8.35" fill="#cfcfd2"/>
<rect x="175.55" y="220.60" width="3.0" height="8.35" fill="#cfcfd2"/>
<rect x="178.97" y="220.60" width="3.0" height="8.35" fill="#cfcfd2"/>
<rect x="182.38" y="220.60" width="3.0" height="8.35" fill="#cfcfd2"/>
<rect x="185.80" y="220.60" width="3.0" height="8.35" fill="#cfcfd2"/>
<rect x="189.22" y="220.60" width="3.0" height="8.35" fill="#cfcfd2"/>
<rect x="192.63" y="220.60" width="3.0" height="8.35" fill="#cfcfd2"/>
<rect x="196.05" y="220.60" width="3.0" height="8.35" fill="#cfcfd2"/>
<rect x="199.46" y="220.60" width="3.0" height="8.35" fill="#cfcfd2"/>
<rect x="202.87" y="220.60" width="3.0" height="8.35" fill="#cfcfd2"/>
<rect x="206.29" y="220.60" width="3.0" height="8.35" fill="#cfcfd2"/>
<rect x="209.70" y="220.60" width="3.0" height="8.35" fill="#cfcfd2"/>
<rect x="213.11" y="220.60" width="3.0" height="8.35" fill="#cfcfd2"/>
<rect x="216.53" y="220.60" width="3.0" height="8.35" fill="#cfcfd2"/>
<rect x="219.94" y="220.60" width="3.0" height="8.35" fill="#cfcfd2"/>
<rect x="223.35" y="220.60" width="3.0" height="8.35" fill="#cfcfd2"/>
<rect x="226.76" y="220.60" width="3.0" height="8.35" fill="#cfcfd2"/>
<rect x="230.17" y="220.60" width="3.0" height="8.35" fill="#cfcfd2"/>
<rect x="233.58" y="220.60" width="3.0" height="8.35" fill="#cfcfd2"/>
<rect x="236.99" y="220.60" width="3.0" height="8.35" fill="#cfcfd2"/>
<rect x="240.40" y="220.60" width="3.0" height="8.35" fill="#cfcfd2"/>
<rect x="243.80" y="220.60" width="3.0" height="8.35" fill="#cfcfd2"/>
<rect x="247.21" y="220.60" width="3.0" height="8.35" fill="#cfcfd2"/>
<rect x="250.62" y="220.60" width="3.0" height="8.35" fill="#cfcfd2"/>
<rect x="254.02" y="220.60" width="3.0" height="8.35" fill="#cfcfd2"/>
<rect x="257.43" y="220.60" width="3.0" height="8.35" fill="#cfcfd2"/>
<rect x="260.83" y="220.60" width="3.0" height="8.35" fill="#cfcfd2"/>
<rect x="264.24" y="220.60" width="3.0" height="8.35" fill="#cfcfd2"/>
<rect x="267.64" y="220.60" width="3.0" height="8.35" fill="#cfcfd2"/>
<rect x="271.05" y="220.60" width="3.0" height="8.35" fill="#cfcfd2"/>
<rect x="274.45" y="220.60" width="3.0" height="8.35" fill="#cfcfd2"/>
<rect x="277.85" y="220.60" width="3.0" height="8.35" fill="#cfcfd2"/>
<rect x="281.26" y="220.60" width="3.0" height="8.35" fill="#cfcfd2"/>
<rect x="284.66" y="220.60" width="3.0" height="8.35" fill="#cfcfd2"/>
<rect x="288.06" y="220.60" width="3.0" height="8.35" fill="#cfcfd2"/>
<rect x="291.46" y="220.60" width="3.0" height="8.35" fill="#cfcfd2"/>
<rect x="294.86" y="220.60" width="3.0" height="8.35" fill="#cfcfd2"/>
<rect x="298.26" y="220.60" width="3.0" height="8.35" fill="#cfcfd2"/>
<rect x="301.66" y="220.60" width="3.0" height="8.35" fill="#cfcfd2"/>
<rect x="305.06" y="220.60" width="3.0" height="8.35" fill="#cfcfd2"/>
<rect x="308.45" y="220.60" width="3.0" height="8.35" fill="#cfcfd2"/>
<rect x="311.85" y="220.60" width="3.0" height="8.35" fill="#cfcfd2"/>
<rect x="315.25" y="220.60" width="3.0" height="8.35" fill="#cfcfd2"/>
<rect x="318.65" y="220.60" width="3.0" height="8.35" fill="#cfcfd2"/>
<rect x="322.04" y="220.60" width="3.0" height="8.35" fill="#cfcfd2"/>
<rect x="325.44" y="220.60" width="3.0" height="8.35" fill="#cfcfd2"/>
<rect x="328.83" y="220.60" width="3.0" height="8.35" fill="#cfcfd2"/>
<rect x="332.23" y="220.60" width="3.0" height="8.35" fill="#cfcfd2"/>
<rect x="335.62" y="220.60" width="3.0" height="8.35" fill="#f8bb08"/>
<rect x="339.01" y="220.60" width="3.0" height="8.35" fill="#31a834"/>
<rect x="342.41" y="220.60" width="3.0" height="8.35" fill="#cfcfd2"/>
<rect x="345.80" y="220.60" width="3.0" height="8.35" fill="#cfcfd2"/>
<rect x="349.19" y="220.60" width="3.0" height="8.35" fill="#cfcfd2"/>
<rect x="352.58" y="220.60" width="3.0" height="8.35" fill="#cfcfd2"/>
<rect x="355.98" y="220.60" width="3.0" height="8.35" fill="#cfcfd2"/>
<rect x="359.37" y="220.60" width="3.0" height="8.35" fill="#cfcfd2"/>
<rect x="362.76" y="220.60" width="3.0" height="8.35" fill="#cfcfd2"/>
<rect x="366.15" y="220.60" width="3.0" height="8.35" fill="#cfcfd2"/>
<rect x="369.54" y="220.60" width="3.0" height="8.35" fill="#cfcfd2"/>
<rect x="372.93" y="220.60" width="3.0" height="8.35" fill="#cfcfd2"/>
<rect x="376.32" y="220.60" width="3.0" height="8.35" fill="#cfcfd2"/>
<rect x="379.70" y="220.60" width="3.0" height="8.35" fill="#cfcfd2"/>
<rect x="383.09" y="220.60" width="3.0" height="8.35" fill="#cfcfd2"/>
<rect x="386.48" y="220.60" width="3.0" height="8.35" fill="#cfcfd2"/>
<rect x="389.87" y="220.60" width="3.0" height="8.35" fill="#cfcfd2"/>
<rect x="393.26" y="220.60" width="3.0" height="8.35" fill="#cfcfd2"/>
<rect x="396.64" y="220.60" width="3.0" height="8.35" fill="#cfcfd2"/>
<rect x="400.03" y="220.60" width="3.0" height="8.35" fill="#cfcfd2"/>
<rect x="403.42" y="220.60" width="3.0" height="8.35" fill="#cfcfd2"/>
<rect x="406.80" y="220.60" width="3.0" height="8.35" fill="#cfcfd2"/>
<rect x="410.19" y="220.60" width="3.0" height="8.35" fill="#cfcfd2"/>
<rect x="413.57" y="220.60" width="3.0" height="8.35" fill="#cfcfd2"/>
<rect x="416.96" y="220.60" width="3.0" height="8.35" fill="#cfcfd2"/>
<rect x="420.34" y="220.60" width="3.0" height="8.35" fill="#cfcfd2"/>
<rect x="423.73" y="220.60" width="3.0" height="8.35" fill="#cfcfd2"/>
<rect x="427.11" y="220.60" width="3.0" height="8.35" fill="#cfcfd2"/>
<rect x="430.50" y="220.60" width="3.0" height="8.35" fill="#cfcfd2"/>
<rect x="433.88" y="220.60" width="3.0" height="8.35" fill="#cfcfd2"/>
<rect x="437.27" y="220.60" width="3.0" height="8.35" fill="#cfcfd2"/>
<rect x="440.65" y="220.60" width="3.0" height="8.35" fill="#cfcfd2"/>
<rect x="444.04" y="220.60" width="3.0" height="8.35" fill="#cfcfd2"/>
<rect x="447.42" y="220.60" width="3.0" height="8.35" fill="#cfcfd2"/>
<rect x="450.80" y="220.60" width="3.0" height="8.35" fill="#cfcfd2"/>
<rect x="454.19" y="220.60" width="3.0" height="8.35" fill="#cfcfd2"/>
<rect x="457.57" y="220.60" width="3.0" height="8.35" fill="#cfcfd2"/>
<rect x="460.95" y="220.60" width="3.0" height="8.35" fill="#cfcfd2"/>
<rect x="464.34" y="220.60" width="3.0" height="8.35" fill="#cfcfd2"/>
<rect x="467.72" y="220.60" width="3.0" height="8.35" fill="#cfcfd2"/>
<rect x="471.10" y="220.60" width="3.0" height="8.35" fill="#cfcfd2"/>
<rect x="474.49" y="220.60" width="3.0" height="8.35" fill="#cfcfd2"/>
<text x="54.3" y="227.90" text-anchor="end" font-size="9.2" font-style="italic" fill="#1a1a1a">KRAS</text>
<text x="482" y="227.80" font-size="9.2" fill="#1a1a1a">2%</text>
<rect x="59.20" y="229.80" width="3.0" height="8.35" fill="#cfcfd2"/>
<rect x="62.62" y="229.80" width="3.0" height="8.35" fill="#cfcfd2"/>
<rect x="66.05" y="229.80" width="3.0" height="8.35" fill="#cfcfd2"/>
<rect x="69.47" y="229.80" width="3.0" height="8.35" fill="#cfcfd2"/>
<rect x="72.90" y="229.80" width="3.0" height="8.35" fill="#cfcfd2"/>
<rect x="76.32" y="229.80" width="3.0" height="8.35" fill="#cfcfd2"/>
<rect x="79.75" y="229.80" width="3.0" height="8.35" fill="#cfcfd2"/>
<rect x="83.17" y="229.80" width="3.0" height="8.35" fill="#cfcfd2"/>
<rect x="86.60" y="229.80" width="3.0" height="8.35" fill="#cfcfd2"/>
<rect x="90.02" y="229.80" width="3.0" height="8.35" fill="#cfcfd2"/>
<rect x="93.44" y="229.80" width="3.0" height="8.35" fill="#cfcfd2"/>
<rect x="96.87" y="229.80" width="3.0" height="8.35" fill="#cfcfd2"/>
<rect x="100.29" y="229.80" width="3.0" height="8.35" fill="#cfcfd2"/>
<rect x="103.71" y="229.80" width="3.0" height="8.35" fill="#cfcfd2"/>
<rect x="107.14" y="229.80" width="3.0" height="8.35" fill="#cfcfd2"/>
<rect x="110.56" y="229.80" width="3.0" height="8.35" fill="#cfcfd2"/>
<rect x="113.98" y="229.80" width="3.0" height="8.35" fill="#cfcfd2"/>
<rect x="117.41" y="229.80" width="3.0" height="8.35" fill="#cfcfd2"/>
<rect x="120.83" y="229.80" width="3.0" height="8.35" fill="#cfcfd2"/>
<rect x="124.25" y="229.80" width="3.0" height="8.35" fill="#cfcfd2"/>
<rect x="127.67" y="229.80" width="3.0" height="8.35" fill="#cfcfd2"/>
<rect x="131.10" y="229.80" width="3.0" height="8.35" fill="#cfcfd2"/>
<rect x="134.52" y="229.80" width="3.0" height="8.35" fill="#cfcfd2"/>
<rect x="137.94" y="229.80" width="3.0" height="8.35" fill="#cfcfd2"/>
<rect x="141.36" y="229.80" width="3.0" height="8.35" fill="#cfcfd2"/>
<rect x="144.78" y="229.80" width="3.0" height="8.35" fill="#cfcfd2"/>
<rect x="148.20" y="229.80" width="3.0" height="8.35" fill="#cfcfd2"/>
<rect x="151.62" y="229.80" width="3.0" height="8.35" fill="#cfcfd2"/>
<rect x="155.04" y="229.80" width="3.0" height="8.35" fill="#cfcfd2"/>
<rect x="158.46" y="229.80" width="3.0" height="8.35" fill="#cfcfd2"/>
<rect x="161.88" y="229.80" width="3.0" height="8.35" fill="#cfcfd2"/>
<rect x="165.30" y="229.80" width="3.0" height="8.35" fill="#cfcfd2"/>
<rect x="168.72" y="229.80" width="3.0" height="8.35" fill="#cfcfd2"/>
<rect x="172.13" y="229.80" width="3.0" height="8.35" fill="#cfcfd2"/>
<rect x="175.55" y="229.80" width="3.0" height="8.35" fill="#cfcfd2"/>
<rect x="178.97" y="229.80" width="3.0" height="8.35" fill="#cfcfd2"/>
<rect x="182.38" y="229.80" width="3.0" height="8.35" fill="#cfcfd2"/>
<rect x="185.80" y="229.80" width="3.0" height="8.35" fill="#cfcfd2"/>
<rect x="189.22" y="229.80" width="3.0" height="8.35" fill="#cfcfd2"/>
<rect x="192.63" y="229.80" width="3.0" height="8.35" fill="#cfcfd2"/>
<rect x="196.05" y="229.80" width="3.0" height="8.35" fill="#cfcfd2"/>
<rect x="199.46" y="229.80" width="3.0" height="8.35" fill="#f8bb08"/>
<rect x="202.87" y="229.80" width="3.0" height="8.35" fill="#cfcfd2"/>
<rect x="206.29" y="229.80" width="3.0" height="8.35" fill="#cfcfd2"/>
<rect x="209.70" y="229.80" width="3.0" height="8.35" fill="#cfcfd2"/>
<rect x="213.11" y="229.80" width="3.0" height="8.35" fill="#cfcfd2"/>
<rect x="216.53" y="229.80" width="3.0" height="8.35" fill="#cfcfd2"/>
<rect x="219.94" y="229.80" width="3.0" height="8.35" fill="#cfcfd2"/>
<rect x="223.35" y="229.80" width="3.0" height="8.35" fill="#cfcfd2"/>
<rect x="226.76" y="229.80" width="3.0" height="8.35" fill="#cfcfd2"/>
<rect x="230.17" y="229.80" width="3.0" height="8.35" fill="#cfcfd2"/>
<rect x="233.58" y="229.80" width="3.0" height="8.35" fill="#cfcfd2"/>
<rect x="236.99" y="229.80" width="3.0" height="8.35" fill="#cfcfd2"/>
<rect x="240.40" y="229.80" width="3.0" height="8.35" fill="#cfcfd2"/>
<rect x="243.80" y="229.80" width="3.0" height="8.35" fill="#cfcfd2"/>
<rect x="247.21" y="229.80" width="3.0" height="8.35" fill="#cfcfd2"/>
<rect x="250.62" y="229.80" width="3.0" height="8.35" fill="#cfcfd2"/>
<rect x="254.02" y="229.80" width="3.0" height="8.35" fill="#cfcfd2"/>
<rect x="257.43" y="229.80" width="3.0" height="8.35" fill="#cfcfd2"/>
<rect x="260.83" y="229.80" width="3.0" height="8.35" fill="#cfcfd2"/>
<rect x="264.24" y="229.80" width="3.0" height="8.35" fill="#cfcfd2"/>
<rect x="267.64" y="229.80" width="3.0" height="8.35" fill="#cfcfd2"/>
<rect x="271.05" y="229.80" width="3.0" height="8.35" fill="#cfcfd2"/>
<rect x="274.45" y="229.80" width="3.0" height="8.35" fill="#cfcfd2"/>
<rect x="277.85" y="229.80" width="3.0" height="8.35" fill="#cfcfd2"/>
<rect x="281.26" y="229.80" width="3.0" height="8.35" fill="#cfcfd2"/>
<rect x="284.66" y="229.80" width="3.0" height="8.35" fill="#cfcfd2"/>
<rect x="288.06" y="229.80" width="3.0" height="8.35" fill="#cfcfd2"/>
<rect x="291.46" y="229.80" width="3.0" height="8.35" fill="#cfcfd2"/>
<rect x="294.86" y="229.80" width="3.0" height="8.35" fill="#cfcfd2"/>
<rect x="298.26" y="229.80" width="3.0" height="8.35" fill="#cfcfd2"/>
<rect x="301.66" y="229.80" width="3.0" height="8.35" fill="#cfcfd2"/>
<rect x="305.06" y="229.80" width="3.0" height="8.35" fill="#cfcfd2"/>
<rect x="308.45" y="229.80" width="3.0" height="8.35" fill="#cfcfd2"/>
<rect x="311.85" y="229.80" width="3.0" height="8.35" fill="#cfcfd2"/>
<rect x="315.25" y="229.80" width="3.0" height="8.35" fill="#cfcfd2"/>
<rect x="318.65" y="229.80" width="3.0" height="8.35" fill="#cfcfd2"/>
<rect x="322.04" y="229.80" width="3.0" height="8.35" fill="#cfcfd2"/>
<rect x="325.44" y="229.80" width="3.0" height="8.35" fill="#cfcfd2"/>
<rect x="328.83" y="229.80" width="3.0" height="8.35" fill="#cfcfd2"/>
<rect x="332.23" y="229.80" width="3.0" height="8.35" fill="#cfcfd2"/>
<rect x="335.62" y="229.80" width="3.0" height="8.35" fill="#cfcfd2"/>
<rect x="339.01" y="229.80" width="3.0" height="8.35" fill="#cfcfd2"/>
<rect x="342.41" y="229.80" width="3.0" height="8.35" fill="#cfcfd2"/>
<rect x="345.80" y="229.80" width="3.0" height="8.35" fill="#cfcfd2"/>
<rect x="349.19" y="229.80" width="3.0" height="8.35" fill="#cfcfd2"/>
<rect x="352.58" y="229.80" width="3.0" height="8.35" fill="#cfcfd2"/>
<rect x="355.98" y="229.80" width="3.0" height="8.35" fill="#cfcfd2"/>
<rect x="359.37" y="229.80" width="3.0" height="8.35" fill="#cfcfd2"/>
<rect x="362.76" y="229.80" width="3.0" height="8.35" fill="#31a834"/>
<rect x="366.15" y="229.80" width="3.0" height="8.35" fill="#cfcfd2"/>
<rect x="369.54" y="229.80" width="3.0" height="8.35" fill="#cfcfd2"/>
<rect x="372.93" y="229.80" width="3.0" height="8.35" fill="#cfcfd2"/>
<rect x="376.32" y="229.80" width="3.0" height="8.35" fill="#cfcfd2"/>
<rect x="379.70" y="229.80" width="3.0" height="8.35" fill="#cfcfd2"/>
<rect x="383.09" y="229.80" width="3.0" height="8.35" fill="#cfcfd2"/>
<rect x="386.48" y="229.80" width="3.0" height="8.35" fill="#cfcfd2"/>
<rect x="389.87" y="229.80" width="3.0" height="8.35" fill="#cfcfd2"/>
<rect x="393.26" y="229.80" width="3.0" height="8.35" fill="#cfcfd2"/>
<rect x="396.64" y="229.80" width="3.0" height="8.35" fill="#cfcfd2"/>
<rect x="400.03" y="229.80" width="3.0" height="8.35" fill="#cfcfd2"/>
<rect x="403.42" y="229.80" width="3.0" height="8.35" fill="#cfcfd2"/>
<rect x="406.80" y="229.80" width="3.0" height="8.35" fill="#cfcfd2"/>
<rect x="410.19" y="229.80" width="3.0" height="8.35" fill="#cfcfd2"/>
<rect x="413.57" y="229.80" width="3.0" height="8.35" fill="#cfcfd2"/>
<rect x="416.96" y="229.80" width="3.0" height="8.35" fill="#cfcfd2"/>
<rect x="420.34" y="229.80" width="3.0" height="8.35" fill="#cfcfd2"/>
<rect x="423.73" y="229.80" width="3.0" height="8.35" fill="#cfcfd2"/>
<rect x="427.11" y="229.80" width="3.0" height="8.35" fill="#cfcfd2"/>
<rect x="430.50" y="229.80" width="3.0" height="8.35" fill="#cfcfd2"/>
<rect x="433.88" y="229.80" width="3.0" height="8.35" fill="#cfcfd2"/>
<rect x="437.27" y="229.80" width="3.0" height="8.35" fill="#cfcfd2"/>
<rect x="440.65" y="229.80" width="3.0" height="8.35" fill="#cfcfd2"/>
<rect x="444.04" y="229.80" width="3.0" height="8.35" fill="#cfcfd2"/>
<rect x="447.42" y="229.80" width="3.0" height="8.35" fill="#f8bb08"/>
<rect x="450.80" y="229.80" width="3.0" height="8.35" fill="#cfcfd2"/>
<rect x="454.19" y="229.80" width="3.0" height="8.35" fill="#cfcfd2"/>
<rect x="457.57" y="229.80" width="3.0" height="8.35" fill="#cfcfd2"/>
<rect x="460.95" y="229.80" width="3.0" height="8.35" fill="#cfcfd2"/>
<rect x="464.34" y="229.80" width="3.0" height="8.35" fill="#cfcfd2"/>
<rect x="467.72" y="229.80" width="3.0" height="8.35" fill="#cfcfd2"/>
<rect x="471.10" y="229.80" width="3.0" height="8.35" fill="#cfcfd2"/>
<rect x="474.49" y="229.80" width="3.0" height="8.35" fill="#cfcfd2"/>
<text x="54.3" y="237.10" text-anchor="end" font-size="9.2" font-style="italic" fill="#1a1a1a">NRAS</text>
<text x="482" y="237.00" font-size="9.2" fill="#1a1a1a">2%</text>
<rect x="59.20" y="239.00" width="3.0" height="8.35" fill="#cfcfd2"/>
<rect x="62.62" y="239.00" width="3.0" height="8.35" fill="#cfcfd2"/>
<rect x="66.05" y="239.00" width="3.0" height="8.35" fill="#cfcfd2"/>
<rect x="69.47" y="239.00" width="3.0" height="8.35" fill="#cfcfd2"/>
<rect x="72.90" y="239.00" width="3.0" height="8.35" fill="#cfcfd2"/>
<rect x="76.32" y="239.00" width="3.0" height="8.35" fill="#cfcfd2"/>
<rect x="79.75" y="239.00" width="3.0" height="8.35" fill="#cfcfd2"/>
<rect x="83.17" y="239.00" width="3.0" height="8.35" fill="#cfcfd2"/>
<rect x="86.60" y="239.00" width="3.0" height="8.35" fill="#cfcfd2"/>
<rect x="90.02" y="239.00" width="3.0" height="8.35" fill="#cfcfd2"/>
<rect x="93.44" y="239.00" width="3.0" height="8.35" fill="#cfcfd2"/>
<rect x="96.87" y="239.00" width="3.0" height="8.35" fill="#cfcfd2"/>
<rect x="100.29" y="239.00" width="3.0" height="8.35" fill="#cfcfd2"/>
<rect x="103.71" y="239.00" width="3.0" height="8.35" fill="#cfcfd2"/>
<rect x="107.14" y="239.00" width="3.0" height="8.35" fill="#cfcfd2"/>
<rect x="110.56" y="239.00" width="3.0" height="8.35" fill="#cfcfd2"/>
<rect x="113.98" y="239.00" width="3.0" height="8.35" fill="#cfcfd2"/>
<rect x="117.41" y="239.00" width="3.0" height="8.35" fill="#cfcfd2"/>
<rect x="120.83" y="239.00" width="3.0" height="8.35" fill="#cfcfd2"/>
<rect x="124.25" y="239.00" width="3.0" height="8.35" fill="#cfcfd2"/>
<rect x="127.67" y="239.00" width="3.0" height="8.35" fill="#cfcfd2"/>
<rect x="131.10" y="239.00" width="3.0" height="8.35" fill="#cfcfd2"/>
<rect x="134.52" y="239.00" width="3.0" height="8.35" fill="#cfcfd2"/>
<rect x="137.94" y="239.00" width="3.0" height="8.35" fill="#cfcfd2"/>
<rect x="141.36" y="239.00" width="3.0" height="8.35" fill="#cfcfd2"/>
<rect x="144.78" y="239.00" width="3.0" height="8.35" fill="#cfcfd2"/>
<rect x="148.20" y="239.00" width="3.0" height="8.35" fill="#cfcfd2"/>
<rect x="151.62" y="239.00" width="3.0" height="8.35" fill="#cfcfd2"/>
<rect x="155.04" y="239.00" width="3.0" height="8.35" fill="#cfcfd2"/>
<rect x="158.46" y="239.00" width="3.0" height="8.35" fill="#cfcfd2"/>
<rect x="161.88" y="239.00" width="3.0" height="8.35" fill="#cfcfd2"/>
<rect x="165.30" y="239.00" width="3.0" height="8.35" fill="#cfcfd2"/>
<rect x="168.72" y="239.00" width="3.0" height="8.35" fill="#cfcfd2"/>
<rect x="172.13" y="239.00" width="3.0" height="8.35" fill="#cfcfd2"/>
<rect x="175.55" y="239.00" width="3.0" height="8.35" fill="#cfcfd2"/>
<rect x="178.97" y="239.00" width="3.0" height="8.35" fill="#cfcfd2"/>
<rect x="182.38" y="239.00" width="3.0" height="8.35" fill="#cfcfd2"/>
<rect x="185.80" y="239.00" width="3.0" height="8.35" fill="#cfcfd2"/>
<rect x="189.22" y="239.00" width="3.0" height="8.35" fill="#cfcfd2"/>
<rect x="192.63" y="239.00" width="3.0" height="8.35" fill="#cfcfd2"/>
<rect x="196.05" y="239.00" width="3.0" height="8.35" fill="#cfcfd2"/>
<rect x="199.46" y="239.00" width="3.0" height="8.35" fill="#cfcfd2"/>
<rect x="202.87" y="239.00" width="3.0" height="8.35" fill="#cfcfd2"/>
<rect x="206.29" y="239.00" width="3.0" height="8.35" fill="#cfcfd2"/>
<rect x="209.70" y="239.00" width="3.0" height="8.35" fill="#cfcfd2"/>
<rect x="213.11" y="239.00" width="3.0" height="8.35" fill="#cfcfd2"/>
<rect x="216.53" y="239.00" width="3.0" height="8.35" fill="#cfcfd2"/>
<rect x="219.94" y="239.00" width="3.0" height="8.35" fill="#cfcfd2"/>
<rect x="223.35" y="239.00" width="3.0" height="8.35" fill="#cfcfd2"/>
<rect x="226.76" y="239.00" width="3.0" height="8.35" fill="#cfcfd2"/>
<rect x="230.17" y="239.00" width="3.0" height="8.35" fill="#cfcfd2"/>
<rect x="233.58" y="239.00" width="3.0" height="8.35" fill="#cfcfd2"/>
<rect x="236.99" y="239.00" width="3.0" height="8.35" fill="#cfcfd2"/>
<rect x="240.40" y="239.00" width="3.0" height="8.35" fill="#cfcfd2"/>
<rect x="243.80" y="239.00" width="3.0" height="8.35" fill="#cfcfd2"/>
<rect x="247.21" y="239.00" width="3.0" height="8.35" fill="#cfcfd2"/>
<rect x="250.62" y="239.00" width="3.0" height="8.35" fill="#cfcfd2"/>
<rect x="254.02" y="239.00" width="3.0" height="8.35" fill="#cfcfd2"/>
<rect x="257.43" y="239.00" width="3.0" height="8.35" fill="#cfcfd2"/>
<rect x="260.83" y="239.00" width="3.0" height="8.35" fill="#cfcfd2"/>
<rect x="264.24" y="239.00" width="3.0" height="8.35" fill="#cfcfd2"/>
<rect x="267.64" y="239.00" width="3.0" height="8.35" fill="#cfcfd2"/>
<rect x="271.05" y="239.00" width="3.0" height="8.35" fill="#cfcfd2"/>
<rect x="274.45" y="239.00" width="3.0" height="8.35" fill="#cfcfd2"/>
<rect x="277.85" y="239.00" width="3.0" height="8.35" fill="#cfcfd2"/>
<rect x="281.26" y="239.00" width="3.0" height="8.35" fill="#cfcfd2"/>
<rect x="284.66" y="239.00" width="3.0" height="8.35" fill="#cfcfd2"/>
<rect x="288.06" y="239.00" width="3.0" height="8.35" fill="#cfcfd2"/>
<rect x="291.46" y="239.00" width="3.0" height="8.35" fill="#cfcfd2"/>
<rect x="294.86" y="239.00" width="3.0" height="8.35" fill="#cfcfd2"/>
<rect x="298.26" y="239.00" width="3.0" height="8.35" fill="#cfcfd2"/>
<rect x="301.66" y="239.00" width="3.0" height="8.35" fill="#cfcfd2"/>
<rect x="305.06" y="239.00" width="3.0" height="8.35" fill="#cfcfd2"/>
<rect x="308.45" y="239.00" width="3.0" height="8.35" fill="#cfcfd2"/>
<rect x="311.85" y="239.00" width="3.0" height="8.35" fill="#cfcfd2"/>
<rect x="315.25" y="239.00" width="3.0" height="8.35" fill="#cfcfd2"/>
<rect x="318.65" y="239.00" width="3.0" height="8.35" fill="#cfcfd2"/>
<rect x="322.04" y="239.00" width="3.0" height="8.35" fill="#cfcfd2"/>
<rect x="325.44" y="239.00" width="3.0" height="8.35" fill="#cfcfd2"/>
<rect x="328.83" y="239.00" width="3.0" height="8.35" fill="#cfcfd2"/>
<rect x="332.23" y="239.00" width="3.0" height="8.35" fill="#cfcfd2"/>
<rect x="335.62" y="239.00" width="3.0" height="8.35" fill="#f8bb08"/>
<rect x="339.01" y="239.00" width="3.0" height="8.35" fill="#cfcfd2"/>
<rect x="342.41" y="239.00" width="3.0" height="8.35" fill="#114684"/>
<rect x="345.80" y="239.00" width="3.0" height="8.35" fill="#f8bb08"/>
<rect x="349.19" y="239.00" width="3.0" height="8.35" fill="#cfcfd2"/>
<rect x="352.58" y="239.00" width="3.0" height="8.35" fill="#cfcfd2"/>
<rect x="355.98" y="239.00" width="3.0" height="8.35" fill="#cfcfd2"/>
<rect x="359.37" y="239.00" width="3.0" height="8.35" fill="#cfcfd2"/>
<rect x="362.76" y="239.00" width="3.0" height="8.35" fill="#cfcfd2"/>
<rect x="366.15" y="239.00" width="3.0" height="8.35" fill="#cfcfd2"/>
<rect x="369.54" y="239.00" width="3.0" height="8.35" fill="#cfcfd2"/>
<rect x="372.93" y="239.00" width="3.0" height="8.35" fill="#cfcfd2"/>
<rect x="376.32" y="239.00" width="3.0" height="8.35" fill="#cfcfd2"/>
<rect x="379.70" y="239.00" width="3.0" height="8.35" fill="#cfcfd2"/>
<rect x="383.09" y="239.00" width="3.0" height="8.35" fill="#cfcfd2"/>
<rect x="386.48" y="239.00" width="3.0" height="8.35" fill="#cfcfd2"/>
<rect x="389.87" y="239.00" width="3.0" height="8.35" fill="#cfcfd2"/>
<rect x="393.26" y="239.00" width="3.0" height="8.35" fill="#cfcfd2"/>
<rect x="396.64" y="239.00" width="3.0" height="8.35" fill="#cfcfd2"/>
<rect x="400.03" y="239.00" width="3.0" height="8.35" fill="#cfcfd2"/>
<rect x="403.42" y="239.00" width="3.0" height="8.35" fill="#cfcfd2"/>
<rect x="406.80" y="239.00" width="3.0" height="8.35" fill="#cfcfd2"/>
<rect x="410.19" y="239.00" width="3.0" height="8.35" fill="#cfcfd2"/>
<rect x="413.57" y="239.00" width="3.0" height="8.35" fill="#cfcfd2"/>
<rect x="416.96" y="239.00" width="3.0" height="8.35" fill="#cfcfd2"/>
<rect x="420.34" y="239.00" width="3.0" height="8.35" fill="#cfcfd2"/>
<rect x="423.73" y="239.00" width="3.0" height="8.35" fill="#cfcfd2"/>
<rect x="427.11" y="239.00" width="3.0" height="8.35" fill="#cfcfd2"/>
<rect x="430.50" y="239.00" width="3.0" height="8.35" fill="#cfcfd2"/>
<rect x="433.88" y="239.00" width="3.0" height="8.35" fill="#cfcfd2"/>
<rect x="437.27" y="239.00" width="3.0" height="8.35" fill="#cfcfd2"/>
<rect x="440.65" y="239.00" width="3.0" height="8.35" fill="#cfcfd2"/>
<rect x="444.04" y="239.00" width="3.0" height="8.35" fill="#cfcfd2"/>
<rect x="447.42" y="239.00" width="3.0" height="8.35" fill="#cfcfd2"/>
<rect x="450.80" y="239.00" width="3.0" height="8.35" fill="#cfcfd2"/>
<rect x="454.19" y="239.00" width="3.0" height="8.35" fill="#cfcfd2"/>
<rect x="457.57" y="239.00" width="3.0" height="8.35" fill="#cfcfd2"/>
<rect x="460.95" y="239.00" width="3.0" height="8.35" fill="#cfcfd2"/>
<rect x="464.34" y="239.00" width="3.0" height="8.35" fill="#cfcfd2"/>
<rect x="467.72" y="239.00" width="3.0" height="8.35" fill="#cfcfd2"/>
<rect x="471.10" y="239.00" width="3.0" height="8.35" fill="#cfcfd2"/>
<rect x="474.49" y="239.00" width="3.0" height="8.35" fill="#cfcfd2"/>
<text x="54.3" y="246.30" text-anchor="end" font-size="9.2" font-style="italic" fill="#1a1a1a">STAG2</text>
<text x="482" y="246.20" font-size="9.2" fill="#1a1a1a">2%</text>
<rect x="59.20" y="248.20" width="3.0" height="8.35" fill="#cfcfd2"/>
<rect x="62.62" y="248.20" width="3.0" height="8.35" fill="#cfcfd2"/>
<rect x="66.05" y="248.20" width="3.0" height="8.35" fill="#cfcfd2"/>
<rect x="69.47" y="248.20" width="3.0" height="8.35" fill="#cfcfd2"/>
<rect x="72.90" y="248.20" width="3.0" height="8.35" fill="#cfcfd2"/>
<rect x="76.32" y="248.20" width="3.0" height="8.35" fill="#cfcfd2"/>
<rect x="79.75" y="248.20" width="3.0" height="8.35" fill="#cfcfd2"/>
<rect x="83.17" y="248.20" width="3.0" height="8.35" fill="#cfcfd2"/>
<rect x="86.60" y="248.20" width="3.0" height="8.35" fill="#cfcfd2"/>
<rect x="90.02" y="248.20" width="3.0" height="8.35" fill="#cfcfd2"/>
<rect x="93.44" y="248.20" width="3.0" height="8.35" fill="#cfcfd2"/>
<rect x="96.87" y="248.20" width="3.0" height="8.35" fill="#cfcfd2"/>
<rect x="100.29" y="248.20" width="3.0" height="8.35" fill="#cfcfd2"/>
<rect x="103.71" y="248.20" width="3.0" height="8.35" fill="#cfcfd2"/>
<rect x="107.14" y="248.20" width="3.0" height="8.35" fill="#cfcfd2"/>
<rect x="110.56" y="248.20" width="3.0" height="8.35" fill="#cfcfd2"/>
<rect x="113.98" y="248.20" width="3.0" height="8.35" fill="#cfcfd2"/>
<rect x="117.41" y="248.20" width="3.0" height="8.35" fill="#cfcfd2"/>
<rect x="120.83" y="248.20" width="3.0" height="8.35" fill="#cfcfd2"/>
<rect x="124.25" y="248.20" width="3.0" height="8.35" fill="#cfcfd2"/>
<rect x="127.67" y="248.20" width="3.0" height="8.35" fill="#cfcfd2"/>
<rect x="131.10" y="248.20" width="3.0" height="8.35" fill="#cfcfd2"/>
<rect x="134.52" y="248.20" width="3.0" height="8.35" fill="#cfcfd2"/>
<rect x="137.94" y="248.20" width="3.0" height="8.35" fill="#cfcfd2"/>
<rect x="141.36" y="248.20" width="3.0" height="8.35" fill="#cfcfd2"/>
<rect x="144.78" y="248.20" width="3.0" height="8.35" fill="#cfcfd2"/>
<rect x="148.20" y="248.20" width="3.0" height="8.35" fill="#cfcfd2"/>
<rect x="151.62" y="248.20" width="3.0" height="8.35" fill="#cfcfd2"/>
<rect x="155.04" y="248.20" width="3.0" height="8.35" fill="#cfcfd2"/>
<rect x="158.46" y="248.20" width="3.0" height="8.35" fill="#cfcfd2"/>
<rect x="161.88" y="248.20" width="3.0" height="8.35" fill="#cfcfd2"/>
<rect x="165.30" y="248.20" width="3.0" height="8.35" fill="#cfcfd2"/>
<rect x="168.72" y="248.20" width="3.0" height="8.35" fill="#cfcfd2"/>
<rect x="172.13" y="248.20" width="3.0" height="8.35" fill="#cfcfd2"/>
<rect x="175.55" y="248.20" width="3.0" height="8.35" fill="#cfcfd2"/>
<rect x="178.97" y="248.20" width="3.0" height="8.35" fill="#cfcfd2"/>
<rect x="182.38" y="248.20" width="3.0" height="8.35" fill="#cfcfd2"/>
<rect x="185.80" y="248.20" width="3.0" height="8.35" fill="#cfcfd2"/>
<rect x="189.22" y="248.20" width="3.0" height="8.35" fill="#cfcfd2"/>
<rect x="192.63" y="248.20" width="3.0" height="8.35" fill="#cfcfd2"/>
<rect x="196.05" y="248.20" width="3.0" height="8.35" fill="#cfcfd2"/>
<rect x="199.46" y="248.20" width="3.0" height="8.35" fill="#cfcfd2"/>
<rect x="202.87" y="248.20" width="3.0" height="8.35" fill="#cfcfd2"/>
<rect x="206.29" y="248.20" width="3.0" height="8.35" fill="#cfcfd2"/>
<rect x="209.70" y="248.20" width="3.0" height="8.35" fill="#cfcfd2"/>
<rect x="213.11" y="248.20" width="3.0" height="8.35" fill="#cfcfd2"/>
<rect x="216.53" y="248.20" width="3.0" height="8.35" fill="#cfcfd2"/>
<rect x="219.94" y="248.20" width="3.0" height="8.35" fill="#cfcfd2"/>
<rect x="223.35" y="248.20" width="3.0" height="8.35" fill="#cfcfd2"/>
<rect x="226.76" y="248.20" width="3.0" height="8.35" fill="#cfcfd2"/>
<rect x="230.17" y="248.20" width="3.0" height="8.35" fill="#cfcfd2"/>
<rect x="233.58" y="248.20" width="3.0" height="8.35" fill="#cfcfd2"/>
<rect x="236.99" y="248.20" width="3.0" height="8.35" fill="#cfcfd2"/>
<rect x="240.40" y="248.20" width="3.0" height="8.35" fill="#cfcfd2"/>
<rect x="243.80" y="248.20" width="3.0" height="8.35" fill="#cfcfd2"/>
<rect x="247.21" y="248.20" width="3.0" height="8.35" fill="#cfcfd2"/>
<rect x="250.62" y="248.20" width="3.0" height="8.35" fill="#cfcfd2"/>
<rect x="254.02" y="248.20" width="3.0" height="8.35" fill="#cfcfd2"/>
<rect x="257.43" y="248.20" width="3.0" height="8.35" fill="#cfcfd2"/>
<rect x="260.83" y="248.20" width="3.0" height="8.35" fill="#cfcfd2"/>
<rect x="264.24" y="248.20" width="3.0" height="8.35" fill="#cfcfd2"/>
<rect x="267.64" y="248.20" width="3.0" height="8.35" fill="#cfcfd2"/>
<rect x="271.05" y="248.20" width="3.0" height="8.35" fill="#cfcfd2"/>
<rect x="274.45" y="248.20" width="3.0" height="8.35" fill="#cfcfd2"/>
<rect x="277.85" y="248.20" width="3.0" height="8.35" fill="#cfcfd2"/>
<rect x="281.26" y="248.20" width="3.0" height="8.35" fill="#cfcfd2"/>
<rect x="284.66" y="248.20" width="3.0" height="8.35" fill="#cfcfd2"/>
<rect x="288.06" y="248.20" width="3.0" height="8.35" fill="#cfcfd2"/>
<rect x="291.46" y="248.20" width="3.0" height="8.35" fill="#cfcfd2"/>
<rect x="294.86" y="248.20" width="3.0" height="8.35" fill="#cfcfd2"/>
<rect x="298.26" y="248.20" width="3.0" height="8.35" fill="#cfcfd2"/>
<rect x="301.66" y="248.20" width="3.0" height="8.35" fill="#cfcfd2"/>
<rect x="305.06" y="248.20" width="3.0" height="8.35" fill="#cfcfd2"/>
<rect x="308.45" y="248.20" width="3.0" height="8.35" fill="#cfcfd2"/>
<rect x="311.85" y="248.20" width="3.0" height="8.35" fill="#cfcfd2"/>
<rect x="315.25" y="248.20" width="3.0" height="8.35" fill="#cfcfd2"/>
<rect x="318.65" y="248.20" width="3.0" height="8.35" fill="#cfcfd2"/>
<rect x="322.04" y="248.20" width="3.0" height="8.35" fill="#cfcfd2"/>
<rect x="325.44" y="248.20" width="3.0" height="8.35" fill="#cfcfd2"/>
<rect x="328.83" y="248.20" width="3.0" height="8.35" fill="#cfcfd2"/>
<rect x="332.23" y="248.20" width="3.0" height="8.35" fill="#cfcfd2"/>
<rect x="335.62" y="248.20" width="3.0" height="8.35" fill="#cfcfd2"/>
<rect x="339.01" y="248.20" width="3.0" height="8.35" fill="#cfcfd2"/>
<rect x="342.41" y="248.20" width="3.0" height="8.35" fill="#cfcfd2"/>
<rect x="345.80" y="248.20" width="3.0" height="8.35" fill="#cfcfd2"/>
<rect x="349.19" y="248.20" width="3.0" height="8.35" fill="#2ba2e0"/>
<rect x="352.58" y="248.20" width="3.0" height="8.35" fill="#cfcfd2"/>
<rect x="355.98" y="248.20" width="3.0" height="8.35" fill="#cfcfd2"/>
<rect x="359.37" y="248.20" width="3.0" height="8.35" fill="#cfcfd2"/>
<rect x="362.76" y="248.20" width="3.0" height="8.35" fill="#cfcfd2"/>
<rect x="366.15" y="248.20" width="3.0" height="8.35" fill="#cfcfd2"/>
<rect x="369.54" y="248.20" width="3.0" height="8.35" fill="#cfcfd2"/>
<rect x="372.93" y="248.20" width="3.0" height="8.35" fill="#cfcfd2"/>
<rect x="376.32" y="248.20" width="3.0" height="8.35" fill="#cfcfd2"/>
<rect x="379.70" y="248.20" width="3.0" height="8.35" fill="#cfcfd2"/>
<rect x="383.09" y="248.20" width="3.0" height="8.35" fill="#cfcfd2"/>
<rect x="386.48" y="248.20" width="3.0" height="8.35" fill="#cfcfd2"/>
<rect x="389.87" y="248.20" width="3.0" height="8.35" fill="#cfcfd2"/>
<rect x="393.26" y="248.20" width="3.0" height="8.35" fill="#cfcfd2"/>
<rect x="396.64" y="248.20" width="3.0" height="8.35" fill="#cfcfd2"/>
<rect x="400.03" y="248.20" width="3.0" height="8.35" fill="#cfcfd2"/>
<rect x="403.42" y="248.20" width="3.0" height="8.35" fill="#cfcfd2"/>
<rect x="406.80" y="248.20" width="3.0" height="8.35" fill="#cfcfd2"/>
<rect x="410.19" y="248.20" width="3.0" height="8.35" fill="#cfcfd2"/>
<rect x="413.57" y="248.20" width="3.0" height="8.35" fill="#cfcfd2"/>
<rect x="416.96" y="248.20" width="3.0" height="8.35" fill="#cfcfd2"/>
<rect x="420.34" y="248.20" width="3.0" height="8.35" fill="#cfcfd2"/>
<rect x="423.73" y="248.20" width="3.0" height="8.35" fill="#cfcfd2"/>
<rect x="427.11" y="248.20" width="3.0" height="8.35" fill="#cfcfd2"/>
<rect x="430.50" y="248.20" width="3.0" height="8.35" fill="#cfcfd2"/>
<rect x="433.88" y="248.20" width="3.0" height="8.35" fill="#cfcfd2"/>
<rect x="437.27" y="248.20" width="3.0" height="8.35" fill="#31a834"/>
<rect x="440.65" y="248.20" width="3.0" height="8.35" fill="#cfcfd2"/>
<rect x="444.04" y="248.20" width="3.0" height="8.35" fill="#cfcfd2"/>
<rect x="447.42" y="248.20" width="3.0" height="8.35" fill="#cfcfd2"/>
<rect x="450.80" y="248.20" width="3.0" height="8.35" fill="#cfcfd2"/>
<rect x="454.19" y="248.20" width="3.0" height="8.35" fill="#cfcfd2"/>
<rect x="457.57" y="248.20" width="3.0" height="8.35" fill="#cfcfd2"/>
<rect x="460.95" y="248.20" width="3.0" height="8.35" fill="#cfcfd2"/>
<rect x="464.34" y="248.20" width="3.0" height="8.35" fill="#cfcfd2"/>
<rect x="467.72" y="248.20" width="3.0" height="8.35" fill="#cfcfd2"/>
<rect x="471.10" y="248.20" width="3.0" height="8.35" fill="#cfcfd2"/>
<rect x="474.49" y="248.20" width="3.0" height="8.35" fill="#cfcfd2"/>
<text x="54.3" y="255.50" text-anchor="end" font-size="9.2" font-style="italic" fill="#1a1a1a">CHEK2</text>
<text x="482" y="255.40" font-size="9.2" fill="#1a1a1a">2%</text>
<rect x="59.20" y="257.40" width="3.0" height="8.35" fill="#cfcfd2"/>
<rect x="62.62" y="257.40" width="3.0" height="8.35" fill="#cfcfd2"/>
<rect x="66.05" y="257.40" width="3.0" height="8.35" fill="#cfcfd2"/>
<rect x="69.47" y="257.40" width="3.0" height="8.35" fill="#cfcfd2"/>
<rect x="72.90" y="257.40" width="3.0" height="8.35" fill="#cfcfd2"/>
<rect x="76.32" y="257.40" width="3.0" height="8.35" fill="#cfcfd2"/>
<rect x="79.75" y="257.40" width="3.0" height="8.35" fill="#cfcfd2"/>
<rect x="83.17" y="257.40" width="3.0" height="8.35" fill="#cfcfd2"/>
<rect x="86.60" y="257.40" width="3.0" height="8.35" fill="#cfcfd2"/>
<rect x="90.02" y="257.40" width="3.0" height="8.35" fill="#cfcfd2"/>
<rect x="93.44" y="257.40" width="3.0" height="8.35" fill="#cfcfd2"/>
<rect x="96.87" y="257.40" width="3.0" height="8.35" fill="#cfcfd2"/>
<rect x="100.29" y="257.40" width="3.0" height="8.35" fill="#cfcfd2"/>
<rect x="103.71" y="257.40" width="3.0" height="8.35" fill="#cfcfd2"/>
<rect x="107.14" y="257.40" width="3.0" height="8.35" fill="#cfcfd2"/>
<rect x="110.56" y="257.40" width="3.0" height="8.35" fill="#cfcfd2"/>
<rect x="113.98" y="257.40" width="3.0" height="8.35" fill="#cfcfd2"/>
<rect x="117.41" y="257.40" width="3.0" height="8.35" fill="#cfcfd2"/>
<rect x="120.83" y="257.40" width="3.0" height="8.35" fill="#cfcfd2"/>
<rect x="124.25" y="257.40" width="3.0" height="8.35" fill="#cfcfd2"/>
<rect x="127.67" y="257.40" width="3.0" height="8.35" fill="#cfcfd2"/>
<rect x="131.10" y="257.40" width="3.0" height="8.35" fill="#cfcfd2"/>
<rect x="134.52" y="257.40" width="3.0" height="8.35" fill="#cfcfd2"/>
<rect x="137.94" y="257.40" width="3.0" height="8.35" fill="#cfcfd2"/>
<rect x="141.36" y="257.40" width="3.0" height="8.35" fill="#cfcfd2"/>
<rect x="144.78" y="257.40" width="3.0" height="8.35" fill="#cfcfd2"/>
<rect x="148.20" y="257.40" width="3.0" height="8.35" fill="#cfcfd2"/>
<rect x="151.62" y="257.40" width="3.0" height="8.35" fill="#cfcfd2"/>
<rect x="155.04" y="257.40" width="3.0" height="8.35" fill="#cfcfd2"/>
<rect x="158.46" y="257.40" width="3.0" height="8.35" fill="#cfcfd2"/>
<rect x="161.88" y="257.40" width="3.0" height="8.35" fill="#cfcfd2"/>
<rect x="165.30" y="257.40" width="3.0" height="8.35" fill="#cfcfd2"/>
<rect x="168.72" y="257.40" width="3.0" height="8.35" fill="#cfcfd2"/>
<rect x="172.13" y="257.40" width="3.0" height="8.35" fill="#cfcfd2"/>
<rect x="175.55" y="257.40" width="3.0" height="8.35" fill="#cfcfd2"/>
<rect x="178.97" y="257.40" width="3.0" height="8.35" fill="#cfcfd2"/>
<rect x="182.38" y="257.40" width="3.0" height="8.35" fill="#cfcfd2"/>
<rect x="185.80" y="257.40" width="3.0" height="8.35" fill="#cfcfd2"/>
<rect x="189.22" y="257.40" width="3.0" height="8.35" fill="#cfcfd2"/>
<rect x="192.63" y="257.40" width="3.0" height="8.35" fill="#cfcfd2"/>
<rect x="196.05" y="257.40" width="3.0" height="8.35" fill="#cfcfd2"/>
<rect x="199.46" y="257.40" width="3.0" height="8.35" fill="#cfcfd2"/>
<rect x="202.87" y="257.40" width="3.0" height="8.35" fill="#cfcfd2"/>
<rect x="206.29" y="257.40" width="3.0" height="8.35" fill="#cfcfd2"/>
<rect x="209.70" y="257.40" width="3.0" height="8.35" fill="#cfcfd2"/>
<rect x="213.11" y="257.40" width="3.0" height="8.35" fill="#cfcfd2"/>
<rect x="216.53" y="257.40" width="3.0" height="8.35" fill="#cfcfd2"/>
<rect x="219.94" y="257.40" width="3.0" height="8.35" fill="#cfcfd2"/>
<rect x="223.35" y="257.40" width="3.0" height="8.35" fill="#cfcfd2"/>
<rect x="226.76" y="257.40" width="3.0" height="8.35" fill="#cfcfd2"/>
<rect x="230.17" y="257.40" width="3.0" height="8.35" fill="#cfcfd2"/>
<rect x="233.58" y="257.40" width="3.0" height="8.35" fill="#cfcfd2"/>
<rect x="236.99" y="257.40" width="3.0" height="8.35" fill="#c80c24"/>
<rect x="240.40" y="257.40" width="3.0" height="8.35" fill="#cfcfd2"/>
<rect x="243.80" y="257.40" width="3.0" height="8.35" fill="#cfcfd2"/>
<rect x="247.21" y="257.40" width="3.0" height="8.35" fill="#cfcfd2"/>
<rect x="250.62" y="257.40" width="3.0" height="8.35" fill="#cfcfd2"/>
<rect x="254.02" y="257.40" width="3.0" height="8.35" fill="#cfcfd2"/>
<rect x="257.43" y="257.40" width="3.0" height="8.35" fill="#cfcfd2"/>
<rect x="260.83" y="257.40" width="3.0" height="8.35" fill="#cfcfd2"/>
<rect x="264.24" y="257.40" width="3.0" height="8.35" fill="#cfcfd2"/>
<rect x="267.64" y="257.40" width="3.0" height="8.35" fill="#cfcfd2"/>
<rect x="271.05" y="257.40" width="3.0" height="8.35" fill="#cfcfd2"/>
<rect x="274.45" y="257.40" width="3.0" height="8.35" fill="#cfcfd2"/>
<rect x="277.85" y="257.40" width="3.0" height="8.35" fill="#cfcfd2"/>
<rect x="281.26" y="257.40" width="3.0" height="8.35" fill="#cfcfd2"/>
<rect x="284.66" y="257.40" width="3.0" height="8.35" fill="#cfcfd2"/>
<rect x="288.06" y="257.40" width="3.0" height="8.35" fill="#cfcfd2"/>
<rect x="291.46" y="257.40" width="3.0" height="8.35" fill="#cfcfd2"/>
<rect x="294.86" y="257.40" width="3.0" height="8.35" fill="#cfcfd2"/>
<rect x="298.26" y="257.40" width="3.0" height="8.35" fill="#cfcfd2"/>
<rect x="301.66" y="257.40" width="3.0" height="8.35" fill="#cfcfd2"/>
<rect x="305.06" y="257.40" width="3.0" height="8.35" fill="#cfcfd2"/>
<rect x="308.45" y="257.40" width="3.0" height="8.35" fill="#cfcfd2"/>
<rect x="311.85" y="257.40" width="3.0" height="8.35" fill="#cfcfd2"/>
<rect x="315.25" y="257.40" width="3.0" height="8.35" fill="#cfcfd2"/>
<rect x="318.65" y="257.40" width="3.0" height="8.35" fill="#cfcfd2"/>
<rect x="322.04" y="257.40" width="3.0" height="8.35" fill="#cfcfd2"/>
<rect x="325.44" y="257.40" width="3.0" height="8.35" fill="#cfcfd2"/>
<rect x="328.83" y="257.40" width="3.0" height="8.35" fill="#cfcfd2"/>
<rect x="332.23" y="257.40" width="3.0" height="8.35" fill="#cfcfd2"/>
<rect x="335.62" y="257.40" width="3.0" height="8.35" fill="#cfcfd2"/>
<rect x="339.01" y="257.40" width="3.0" height="8.35" fill="#cfcfd2"/>
<rect x="342.41" y="257.40" width="3.0" height="8.35" fill="#cfcfd2"/>
<rect x="345.80" y="257.40" width="3.0" height="8.35" fill="#cfcfd2"/>
<rect x="349.19" y="257.40" width="3.0" height="8.35" fill="#cfcfd2"/>
<rect x="352.58" y="257.40" width="3.0" height="8.35" fill="#cfcfd2"/>
<rect x="355.98" y="257.40" width="3.0" height="8.35" fill="#cfcfd2"/>
<rect x="359.37" y="257.40" width="3.0" height="8.35" fill="#2ba2e0"/>
<rect x="362.76" y="257.40" width="3.0" height="8.35" fill="#cfcfd2"/>
<rect x="366.15" y="257.40" width="3.0" height="8.35" fill="#cfcfd2"/>
<rect x="369.54" y="257.40" width="3.0" height="8.35" fill="#cfcfd2"/>
<rect x="372.93" y="257.40" width="3.0" height="8.35" fill="#cfcfd2"/>
<rect x="376.32" y="257.40" width="3.0" height="8.35" fill="#cfcfd2"/>
<rect x="379.70" y="257.40" width="3.0" height="8.35" fill="#cfcfd2"/>
<rect x="383.09" y="257.40" width="3.0" height="8.35" fill="#cfcfd2"/>
<rect x="386.48" y="257.40" width="3.0" height="8.35" fill="#cfcfd2"/>
<rect x="389.87" y="257.40" width="3.0" height="8.35" fill="#cfcfd2"/>
<rect x="393.26" y="257.40" width="3.0" height="8.35" fill="#cfcfd2"/>
<rect x="396.64" y="257.40" width="3.0" height="8.35" fill="#cfcfd2"/>
<rect x="400.03" y="257.40" width="3.0" height="8.35" fill="#cfcfd2"/>
<rect x="403.42" y="257.40" width="3.0" height="8.35" fill="#cfcfd2"/>
<rect x="406.80" y="257.40" width="3.0" height="8.35" fill="#cfcfd2"/>
<rect x="410.19" y="257.40" width="3.0" height="8.35" fill="#cfcfd2"/>
<rect x="413.57" y="257.40" width="3.0" height="8.35" fill="#cfcfd2"/>
<rect x="416.96" y="257.40" width="3.0" height="8.35" fill="#cfcfd2"/>
<rect x="420.34" y="257.40" width="3.0" height="8.35" fill="#cfcfd2"/>
<rect x="423.73" y="257.40" width="3.0" height="8.35" fill="#cfcfd2"/>
<rect x="427.11" y="257.40" width="3.0" height="8.35" fill="#cfcfd2"/>
<rect x="430.50" y="257.40" width="3.0" height="8.35" fill="#cfcfd2"/>
<rect x="433.88" y="257.40" width="3.0" height="8.35" fill="#cfcfd2"/>
<rect x="437.27" y="257.40" width="3.0" height="8.35" fill="#cfcfd2"/>
<rect x="440.65" y="257.40" width="3.0" height="8.35" fill="#cfcfd2"/>
<rect x="444.04" y="257.40" width="3.0" height="8.35" fill="#cfcfd2"/>
<rect x="447.42" y="257.40" width="3.0" height="8.35" fill="#cfcfd2"/>
<rect x="450.80" y="257.40" width="3.0" height="8.35" fill="#cfcfd2"/>
<rect x="454.19" y="257.40" width="3.0" height="8.35" fill="#cfcfd2"/>
<rect x="457.57" y="257.40" width="3.0" height="8.35" fill="#cfcfd2"/>
<rect x="460.95" y="257.40" width="3.0" height="8.35" fill="#cfcfd2"/>
<rect x="464.34" y="257.40" width="3.0" height="8.35" fill="#cfcfd2"/>
<rect x="467.72" y="257.40" width="3.0" height="8.35" fill="#cfcfd2"/>
<rect x="471.10" y="257.40" width="3.0" height="8.35" fill="#cfcfd2"/>
<rect x="474.49" y="257.40" width="3.0" height="8.35" fill="#cfcfd2"/>
<text x="54.3" y="264.70" text-anchor="end" font-size="9.2" font-style="italic" fill="#1a1a1a">EZH2</text>
<text x="482" y="264.60" font-size="9.2" fill="#1a1a1a">2%</text>
<rect x="56.1" y="269.8" width="297.7" height="17" fill="#8893bf"/>
<rect x="353.8" y="269.8" width="126.4" height="17" fill="#e68876"/>
<text x="484.6" y="281" font-size="9" fill="#1a1a1a">Group</text>
<rect x="92.2" y="301.0" width="8.6" height="8.8" fill="#31a834"/>
<text x="105.7" y="308.5" font-size="8.9" fill="#1a1a1a">Missense</text>
<rect x="92.2" y="315.6" width="8.6" height="8.8" fill="#f8bb08"/>
<text x="105.7" y="323.1" font-size="8.9" fill="#1a1a1a">Mutation present</text>
<rect x="92.2" y="330.2" width="8.6" height="8.8" fill="#c80c24"/>
<text x="105.7" y="337.7" font-size="8.9" fill="#1a1a1a">Frameshift</text>
<rect x="194.1" y="301.0" width="8.6" height="8.8" fill="#114684"/>
<text x="207.6" y="308.5" font-size="8.9" fill="#1a1a1a">Nonsense</text>
<rect x="194.1" y="315.6" width="8.6" height="8.8" fill="#2ba2e0"/>
<text x="207.6" y="323.1" font-size="8.9" fill="#1a1a1a">Splice-site</text>
<rect x="194.1" y="330.2" width="8.6" height="8.8" fill="#6a3614"/>
<text x="207.6" y="337.7" font-size="8.9" fill="#1a1a1a">Multi_Hit</text>
<text x="293" y="326.8" font-size="9" fill="#1a1a1a">Group</text>
<text x="293" y="337.5" font-size="9" fill="#1a1a1a">CCUS</text>
<rect x="324.2" y="331.2" width="30.8" height="8.5" fill="#8893bf"/>
<text x="377.3" y="337.9" font-size="9" fill="#1a1a1a">t-CCUS</text>
<rect x="414" y="330.7" width="30.6" height="8.1" fill="#e68876"/>
<text x="10.2" y="376.3" font-size="16.2" font-weight="bold" fill="#111">B</text>
<line x1="84" y1="385" x2="84" y2="639.2" stroke="#111" stroke-width="1.6"/>
<line x1="83.2" y1="638.4" x2="471.4" y2="638.4" stroke="#111" stroke-width="1.6"/>
<line x1="79.6" y1="626.00" x2="84" y2="626.00" stroke="#111" stroke-width="1.2"/>
<text x="74.6" y="629.00" text-anchor="end" font-size="8.9" fill="#1a1a1a">0</text>
<line x1="79.6" y1="580.10" x2="84" y2="580.10" stroke="#111" stroke-width="1.2"/>
<text x="74.6" y="582.96" text-anchor="end" font-size="8.9" fill="#1a1a1a">20</text>
<line x1="79.6" y1="534.20" x2="84" y2="534.20" stroke="#111" stroke-width="1.2"/>
<text x="74.6" y="536.92" text-anchor="end" font-size="8.9" fill="#1a1a1a">40</text>
<line x1="79.6" y1="488.30" x2="84" y2="488.30" stroke="#111" stroke-width="1.2"/>
<text x="74.6" y="490.88" text-anchor="end" font-size="8.9" fill="#1a1a1a">60</text>
<line x1="79.6" y1="442.40" x2="84" y2="442.40" stroke="#111" stroke-width="1.2"/>
<text x="74.6" y="444.84" text-anchor="end" font-size="8.9" fill="#1a1a1a">80</text>
<line x1="79.6" y1="396.50" x2="84" y2="396.50" stroke="#111" stroke-width="1.2"/>
<text x="74.6" y="398.80" text-anchor="end" font-size="8.9" fill="#1a1a1a">100</text>
<text transform="translate(51.8,511.6) rotate(-90) scale(0.67,1)" text-anchor="middle" font-size="12" font-weight="bold" fill="#1a1a1a">VAF%</text>
<line x1="114.40" y1="638.4" x2="114.40" y2="641.9" stroke="#111" stroke-width="1.2"/>
<text x="114.40" y="654.8" text-anchor="middle" font-size="8.7" fill="#1a1a1a">ASXL1</text>
<line x1="160.98" y1="638.4" x2="160.98" y2="641.9" stroke="#111" stroke-width="1.2"/>
<text x="160.98" y="654.8" text-anchor="middle" font-size="8.7" fill="#1a1a1a">DNMT3A</text>
<line x1="207.56" y1="638.4" x2="207.56" y2="641.9" stroke="#111" stroke-width="1.2"/>
<text x="207.56" y="654.8" text-anchor="middle" font-size="8.7" fill="#1a1a1a">SF3B1</text>
<line x1="254.14" y1="638.4" x2="254.14" y2="641.9" stroke="#111" stroke-width="1.2"/>
<text x="254.14" y="654.8" text-anchor="middle" font-size="8.7" fill="#1a1a1a">SRSF2</text>
<line x1="300.72" y1="638.4" x2="300.72" y2="641.9" stroke="#111" stroke-width="1.2"/>
<text x="300.72" y="654.8" text-anchor="middle" font-size="8.7" fill="#1a1a1a">TET2</text>
<line x1="347.30" y1="638.4" x2="347.30" y2="641.9" stroke="#111" stroke-width="1.2"/>
<text x="347.30" y="654.8" text-anchor="middle" font-size="8.7" fill="#1a1a1a">TP53</text>
<line x1="393.88" y1="638.4" x2="393.88" y2="641.9" stroke="#111" stroke-width="1.2"/>
<text x="393.88" y="654.8" text-anchor="middle" font-size="8.7" fill="#1a1a1a">U2AF1</text>
<line x1="440.46" y1="638.4" x2="440.46" y2="641.9" stroke="#111" stroke-width="1.2"/>
<text x="440.46" y="654.8" text-anchor="middle" font-size="8.7" fill="#1a1a1a">ZRSR2</text>
<line x1="105.20" y1="513.8" x2="105.20" y2="530.4" stroke="#1f4e8c" stroke-width="1.5"/>
<line x1="100.90" y1="513.8" x2="109.50" y2="513.8" stroke="#1f4e8c" stroke-width="1.6"/>
<line x1="105.20" y1="575" x2="105.20" y2="600.8" stroke="#1f4e8c" stroke-width="1.5"/>
<line x1="100.90" y1="600.8" x2="109.50" y2="600.8" stroke="#1f4e8c" stroke-width="1.6"/>
<rect x="98.80" y="530.4" width="12.8" height="44.60" fill="#8893bf"/>
<line x1="98.80" y1="548" x2="111.60" y2="548" stroke="#1f4e8c" stroke-width="1.8"/>
<line x1="123.70" y1="520.3" x2="123.70" y2="546.7" stroke="#c8102e" stroke-width="1.5"/>
<line x1="119.40" y1="520.3" x2="128.00" y2="520.3" stroke="#c8102e" stroke-width="1.6"/>
<line x1="123.70" y1="588.6" x2="123.70" y2="605.5" stroke="#c8102e" stroke-width="1.5"/>
<line x1="119.40" y1="605.5" x2="128.00" y2="605.5" stroke="#c8102e" stroke-width="1.6"/>
<rect x="117.30" y="546.7" width="12.8" height="41.90" fill="#e68876"/>
<line x1="117.30" y1="584.8" x2="130.10" y2="584.8" stroke="#c8102e" stroke-width="1.8"/>
<line x1="151.78" y1="477" x2="151.78" y2="521.3" stroke="#1f4e8c" stroke-width="1.5"/>
<line x1="147.48" y1="477" x2="156.08" y2="477" stroke="#1f4e8c" stroke-width="1.6"/>
<line x1="151.78" y1="586.6" x2="151.78" y2="600.8" stroke="#1f4e8c" stroke-width="1.5"/>
<line x1="147.48" y1="600.8" x2="156.08" y2="600.8" stroke="#1f4e8c" stroke-width="1.6"/>
<rect x="145.38" y="521.3" width="12.8" height="65.30" fill="#8893bf"/>
<line x1="145.38" y1="561.5" x2="158.18" y2="561.5" stroke="#1f4e8c" stroke-width="1.8"/>
<line x1="170.28" y1="530" x2="170.28" y2="532.5" stroke="#c8102e" stroke-width="1.5"/>
<line x1="165.98" y1="530" x2="174.58" y2="530" stroke="#c8102e" stroke-width="1.6"/>
<line x1="170.28" y1="611.6" x2="170.28" y2="615" stroke="#c8102e" stroke-width="1.5"/>
<line x1="165.98" y1="615" x2="174.58" y2="615" stroke="#c8102e" stroke-width="1.6"/>
<rect x="163.88" y="532.5" width="12.8" height="79.10" fill="#e68876"/>
<line x1="163.88" y1="591.7" x2="176.68" y2="591.7" stroke="#c8102e" stroke-width="1.8"/>
<rect x="191.96" y="597.4" width="12.8" height="12.10" fill="#8893bf"/>
<line x1="191.96" y1="605" x2="204.76" y2="605" stroke="#1f4e8c" stroke-width="1.8"/>
<line x1="244.94" y1="515.8" x2="244.94" y2="530.4" stroke="#1f4e8c" stroke-width="1.5"/>
<line x1="240.64" y1="515.8" x2="249.24" y2="515.8" stroke="#1f4e8c" stroke-width="1.6"/>
<line x1="244.94" y1="540.6" x2="244.94" y2="557.8" stroke="#1f4e8c" stroke-width="1.5"/>
<line x1="240.64" y1="557.8" x2="249.24" y2="557.8" stroke="#1f4e8c" stroke-width="1.6"/>
<rect x="238.54" y="530.4" width="12.8" height="10.20" fill="#8893bf"/>
<line x1="238.54" y1="536.5" x2="251.34" y2="536.5" stroke="#1f4e8c" stroke-width="1.8"/>
<line x1="263.44" y1="554.4" x2="263.44" y2="564.5" stroke="#c8102e" stroke-width="1.5"/>
<line x1="259.14" y1="564.5" x2="267.74" y2="564.5" stroke="#c8102e" stroke-width="1.6"/>
<rect x="257.04" y="526" width="12.8" height="28.40" fill="#e68876"/>
<line x1="257.04" y1="535.1" x2="269.84" y2="535.1" stroke="#c8102e" stroke-width="1.8"/>
<line x1="291.52" y1="488.5" x2="291.52" y2="528.2" stroke="#1f4e8c" stroke-width="1.5"/>
<line x1="287.22" y1="488.5" x2="295.82" y2="488.5" stroke="#1f4e8c" stroke-width="1.6"/>
<line x1="291.52" y1="568.1" x2="291.52" y2="615" stroke="#1f4e8c" stroke-width="1.5"/>
<line x1="287.22" y1="615" x2="295.82" y2="615" stroke="#1f4e8c" stroke-width="1.6"/>
<rect x="285.12" y="528.2" width="12.8" height="39.90" fill="#8893bf"/>
<line x1="285.12" y1="538.3" x2="297.92" y2="538.3" stroke="#1f4e8c" stroke-width="1.8"/>
<line x1="310.02" y1="508.9" x2="310.02" y2="528.2" stroke="#c8102e" stroke-width="1.5"/>
<line x1="305.72" y1="508.9" x2="314.32" y2="508.9" stroke="#c8102e" stroke-width="1.6"/>
<line x1="310.02" y1="575" x2="310.02" y2="594.3" stroke="#c8102e" stroke-width="1.5"/>
<line x1="305.72" y1="594.3" x2="314.32" y2="594.3" stroke="#c8102e" stroke-width="1.6"/>
<rect x="303.62" y="528.2" width="12.8" height="46.80" fill="#e68876"/>
<line x1="303.62" y1="552.4" x2="316.42" y2="552.4" stroke="#c8102e" stroke-width="1.8"/>
<rect x="331.70" y="530.4" width="12.8" height="72.10" fill="#8893bf"/>
<line x1="331.70" y1="566.2" x2="344.50" y2="566.2" stroke="#1f4e8c" stroke-width="1.8"/>
<line x1="356.60" y1="610.2" x2="356.60" y2="613.6" stroke="#c8102e" stroke-width="1.5"/>
<line x1="352.30" y1="613.6" x2="360.90" y2="613.6" stroke="#c8102e" stroke-width="1.6"/>
<rect x="350.20" y="601.4" width="12.8" height="8.80" fill="#e68876"/>
<line x1="350.20" y1="608" x2="363.00" y2="608" stroke="#c8102e" stroke-width="1.8"/>
<line x1="384.68" y1="530" x2="384.68" y2="540" stroke="#1f4e8c" stroke-width="1.5"/>
<line x1="380.38" y1="530" x2="388.98" y2="530" stroke="#1f4e8c" stroke-width="1.6"/>
<line x1="384.68" y1="584" x2="384.68" y2="610" stroke="#1f4e8c" stroke-width="1.5"/>
<line x1="380.38" y1="610" x2="388.98" y2="610" stroke="#1f4e8c" stroke-width="1.6"/>
<rect x="378.28" y="540" width="12.8" height="44.00" fill="#8893bf"/>
<line x1="378.28" y1="550.7" x2="391.08" y2="550.7" stroke="#1f4e8c" stroke-width="1.8"/>
<rect x="396.78" y="544" width="12.8" height="21.70" fill="#e68876"/>
<line x1="396.78" y1="550.3" x2="409.58" y2="550.3" stroke="#c8102e" stroke-width="1.8"/>
<line x1="431.26" y1="414.7" x2="431.26" y2="441" stroke="#1f4e8c" stroke-width="1.5"/>
<line x1="426.96" y1="414.7" x2="435.56" y2="414.7" stroke="#1f4e8c" stroke-width="1.6"/>
<line x1="431.26" y1="591.7" x2="431.26" y2="608" stroke="#1f4e8c" stroke-width="1.5"/>
<line x1="426.96" y1="608" x2="435.56" y2="608" stroke="#1f4e8c" stroke-width="1.6"/>
<rect x="424.86" y="441" width="12.8" height="150.70" fill="#8893bf"/>
<line x1="424.86" y1="495" x2="437.66" y2="495" stroke="#1f4e8c" stroke-width="1.8"/>
<rect x="443.36" y="467.3" width="12.8" height="38.70" fill="#e68876"/>
<line x1="443.36" y1="486" x2="456.16" y2="486" stroke="#c8102e" stroke-width="1.8"/>
<circle cx="244.4" cy="561.9" r="2.9" fill="#1f4e8c"/>
<circle cx="244.4" cy="605.5" r="2.9" fill="#1f4e8c"/>
<circle cx="309.8" cy="451.6" r="2.9" fill="#c8102e"/>
<circle cx="356.6" cy="532.3" r="2.9" fill="#c8102e"/>
<circle cx="356.6" cy="582.7" r="2.9" fill="#c8102e"/>
<rect x="182.3" y="670.8" width="30.8" height="8.8" fill="#8893bf"/>
<text x="217.4" y="677.7" font-size="9" fill="#1a1a1a">CCUS_VAF</text>
<rect x="287.3" y="670.8" width="30.8" height="8.8" fill="#e68876"/>
<text x="322.2" y="677.7" font-size="9" fill="#1a1a1a">tCCUS_VAF</text>
<rect x="0.5" y="0.5" width="519" height="689" fill="none" stroke="#222" stroke-width="1"/>
</svg>
</body></html>
